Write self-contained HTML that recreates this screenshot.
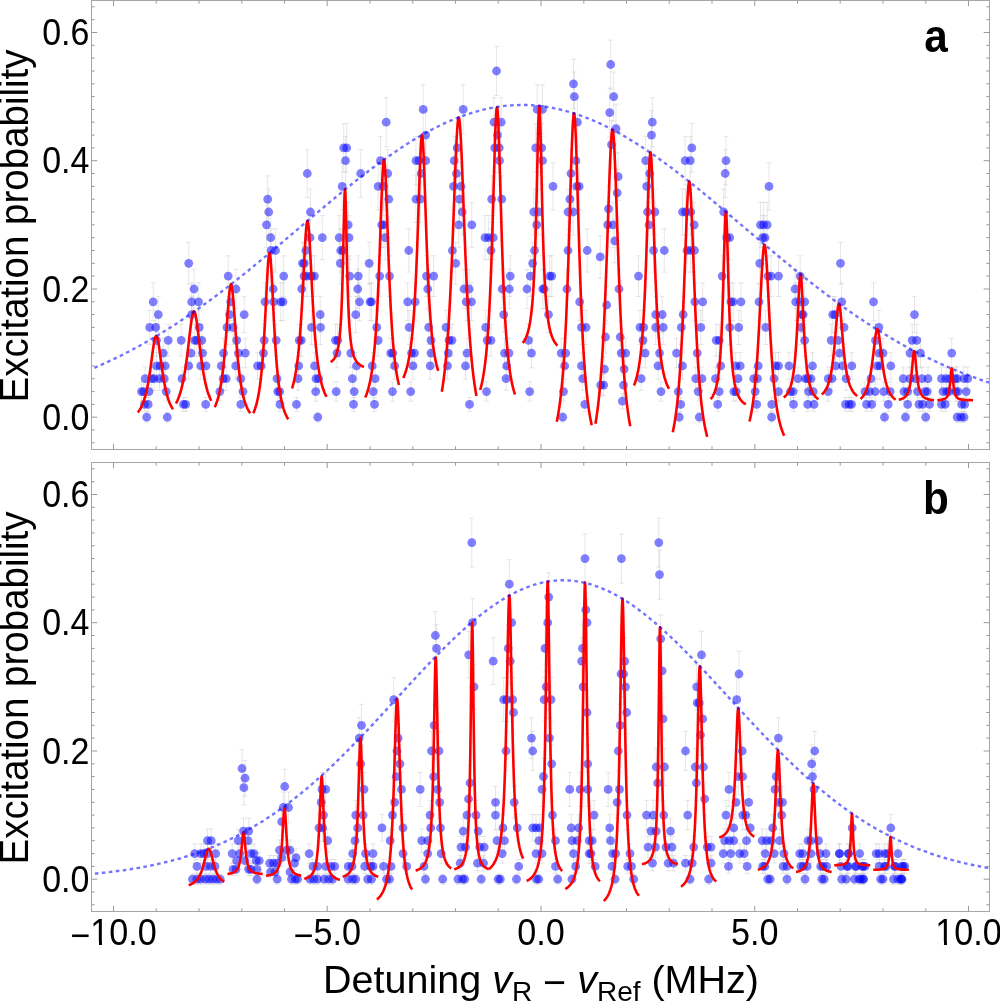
<!DOCTYPE html><html><head><meta charset="utf-8"><style>html,body{margin:0;padding:0;background:#fff;width:1000px;height:1001px;overflow:hidden}svg{display:block;will-change:transform}text{font-family:"Liberation Sans",sans-serif}</style></head><body>
<svg width="1000" height="1001" viewBox="0 0 1000 1001">
<clipPath id="c0"><rect x="91.5" y="0.5" width="898.0" height="449.0"/></clipPath>
<g clip-path="url(#c0)">
<path d="M146.7 412.2V422.2M144.2 412.2h5M144.2 422.2h5M167.3 412.2V422.2M164.8 412.2h5M164.8 422.2h5M144.5 397.5V411.3M142.0 397.5h5M142.0 411.3h5M148.2 397.5V411.3M145.7 397.5h5M145.7 411.3h5M141.5 381.9V401.2M139.0 381.9h5M139.0 401.2h5M143.7 381.9V401.2M141.2 381.9h5M141.2 401.2h5M149.0 381.9V401.2M146.5 381.9h5M146.5 401.2h5M166.2 381.9V401.2M163.7 381.9h5M163.7 401.2h5M145.2 367.0V390.4M142.7 367.0h5M142.7 390.4h5M151.7 367.0V390.4M149.2 367.0h5M149.2 390.4h5M154.2 367.0V390.4M151.7 367.0h5M151.7 390.4h5M159.5 367.0V390.4M157.0 367.0h5M157.0 390.4h5M164.3 367.0V390.4M161.8 367.0h5M161.8 390.4h5M156.5 352.6V379.2M154.0 352.6h5M154.0 379.2h5M160.2 352.6V379.2M157.7 352.6h5M157.7 379.2h5M165.2 352.6V379.2M162.7 352.6h5M162.7 379.2h5M163.2 338.3V367.8M160.7 338.3h5M160.7 367.8h5M156.5 324.3V356.2M154.0 324.3h5M154.0 356.2h5M168.2 324.3V356.2M165.7 324.3h5M165.7 356.2h5M149.7 310.4V344.5M147.2 310.4h5M147.2 344.5h5M155.7 310.4V344.5M153.2 310.4h5M153.2 344.5h5M158.3 296.6V332.6M155.8 296.6h5M155.8 332.6h5M153.2 282.9V320.7M150.7 282.9h5M150.7 320.7h5M183.5 397.5V411.3M181.0 397.5h5M181.0 411.3h5M185.7 397.5V411.3M183.2 397.5h5M183.2 411.3h5M205.7 397.5V411.3M203.2 397.5h5M203.2 411.3h5M182.0 367.0V390.4M179.5 367.0h5M179.5 390.4h5M188.7 352.6V379.2M186.2 352.6h5M186.2 379.2h5M200.7 352.6V379.2M198.2 352.6h5M198.2 379.2h5M206.0 352.6V379.2M203.5 352.6h5M203.5 379.2h5M191.0 338.3V367.8M188.5 338.3h5M188.5 367.8h5M202.5 338.3V367.8M200.0 338.3h5M200.0 367.8h5M181.2 324.3V356.2M178.7 324.3h5M178.7 356.2h5M194.7 324.3V356.2M192.2 324.3h5M192.2 356.2h5M196.7 324.3V356.2M194.2 324.3h5M194.2 356.2h5M201.8 324.3V356.2M199.3 324.3h5M199.3 356.2h5M199.2 310.4V344.5M196.7 310.4h5M196.7 344.5h5M191.7 296.6V332.6M189.2 296.6h5M189.2 332.6h5M191.7 282.9V320.7M189.2 282.9h5M189.2 320.7h5M198.5 282.9V320.7M196.0 282.9h5M196.0 320.7h5M194.0 269.3V308.6M191.5 269.3h5M191.5 308.6h5M240.8 397.5V411.3M238.3 397.5h5M238.3 411.3h5M219.8 381.9V401.2M217.3 381.9h5M217.3 401.2h5M243.0 381.9V401.2M240.5 381.9h5M240.5 401.2h5M223.2 367.0V390.4M220.7 367.0h5M220.7 390.4h5M226.2 367.0V390.4M223.7 367.0h5M223.7 390.4h5M240.8 367.0V390.4M238.3 367.0h5M238.3 390.4h5M221.3 352.6V379.2M218.8 352.6h5M218.8 379.2h5M235.7 352.6V379.2M233.2 352.6h5M233.2 379.2h5M223.5 338.3V367.8M221.0 338.3h5M221.0 367.8h5M238.5 338.3V367.8M236.0 338.3h5M236.0 367.8h5M245.3 338.3V367.8M242.8 338.3h5M242.8 367.8h5M236.7 324.3V356.2M234.2 324.3h5M234.2 356.2h5M227.0 310.4V344.5M224.5 310.4h5M224.5 344.5h5M233.0 310.4V344.5M230.5 310.4h5M230.5 344.5h5M229.5 296.6V332.6M227.0 296.6h5M227.0 332.6h5M244.2 296.6V332.6M241.7 296.6h5M241.7 332.6h5M230.7 282.9V320.7M228.2 282.9h5M228.2 320.7h5M236.0 269.3V308.6M233.5 269.3h5M233.5 308.6h5M228.2 255.8V296.5M225.7 255.8h5M225.7 296.5h5M280.0 397.5V411.3M277.5 397.5h5M277.5 411.3h5M277.7 381.9V401.2M275.2 381.9h5M275.2 401.2h5M279.7 381.9V401.2M277.2 381.9h5M277.2 401.2h5M277.0 367.0V390.4M274.5 367.0h5M274.5 390.4h5M257.5 352.6V379.2M255.0 352.6h5M255.0 379.2h5M261.2 352.6V379.2M258.7 352.6h5M258.7 379.2h5M263.5 338.3V367.8M261.0 338.3h5M261.0 367.8h5M264.2 324.3V356.2M261.7 324.3h5M261.7 356.2h5M276.2 324.3V356.2M273.7 324.3h5M273.7 356.2h5M265.0 282.9V320.7M262.5 282.9h5M262.5 320.7h5M273.7 282.9V320.7M271.2 282.9h5M271.2 320.7h5M280.7 282.9V320.7M278.2 282.9h5M278.2 320.7h5M283.0 282.9V320.7M280.5 282.9h5M280.5 320.7h5M273.2 269.3V308.6M270.7 269.3h5M270.7 308.6h5M283.7 255.8V296.5M281.2 255.8h5M281.2 296.5h5M296.5 397.5V411.3M294.0 397.5h5M294.0 411.3h5M298.0 367.0V390.4M295.5 367.0h5M295.5 390.4h5M298.7 352.6V379.2M296.2 352.6h5M296.2 379.2h5M314.5 352.6V379.2M312.0 352.6h5M312.0 379.2h5M316.0 367.0V390.4M313.5 367.0h5M313.5 390.4h5M318.7 367.0V390.4M316.2 367.0h5M316.2 390.4h5M315.7 381.9V401.2M313.2 381.9h5M313.2 401.2h5M317.8 412.2V422.2M315.3 412.2h5M315.3 422.2h5M299.2 324.3V356.2M296.7 324.3h5M296.7 356.2h5M301.3 324.3V356.2M298.8 324.3h5M298.8 356.2h5M311.5 310.4V344.5M309.0 310.4h5M309.0 344.5h5M320.5 310.4V344.5M318.0 310.4h5M318.0 344.5h5M320.2 296.6V332.6M317.7 296.6h5M317.7 332.6h5M301.7 269.3V308.6M299.2 269.3h5M299.2 308.6h5M304.0 255.8V296.5M301.5 255.8h5M301.5 296.5h5M307.0 255.8V296.5M304.5 255.8h5M304.5 296.5h5M311.5 255.8V296.5M309.0 255.8h5M309.0 296.5h5M314.5 255.8V296.5M312.0 255.8h5M312.0 296.5h5M335.5 324.3V356.2M333.0 324.3h5M333.0 356.2h5M337.7 324.3V356.2M335.2 324.3h5M335.2 356.2h5M337.0 338.3V367.8M334.5 338.3h5M334.5 367.8h5M336.2 381.9V401.2M333.7 381.9h5M333.7 401.2h5M350.8 338.3V367.8M348.3 338.3h5M348.3 367.8h5M356.5 352.6V379.2M354.0 352.6h5M354.0 379.2h5M352.3 367.0V390.4M349.8 367.0h5M349.8 390.4h5M354.2 381.9V401.2M351.7 381.9h5M351.7 401.2h5M353.5 397.5V411.3M351.0 397.5h5M351.0 411.3h5M355.7 296.6V332.6M353.2 296.6h5M353.2 332.6h5M359.5 282.9V320.7M357.0 282.9h5M357.0 320.7h5M357.7 269.3V308.6M355.2 269.3h5M355.2 308.6h5M349.7 255.8V296.5M347.2 255.8h5M347.2 296.5h5M358.3 255.8V296.5M355.8 255.8h5M355.8 296.5h5M370.0 282.9V320.7M367.5 282.9h5M367.5 320.7h5M371.5 282.9V320.7M369.0 282.9h5M369.0 320.7h5M376.7 310.4V344.5M374.2 310.4h5M374.2 344.5h5M378.2 324.3V356.2M375.7 324.3h5M375.7 356.2h5M372.2 352.6V379.2M369.7 352.6h5M369.7 379.2h5M375.2 367.0V390.4M372.7 367.0h5M372.7 390.4h5M373.3 381.9V401.2M370.8 381.9h5M370.8 401.2h5M374.5 397.5V411.3M372.0 397.5h5M372.0 411.3h5M379.7 255.8V296.5M377.2 255.8h5M377.2 296.5h5M389.5 255.8V296.5M387.0 255.8h5M387.0 296.5h5M390.7 338.3V367.8M388.2 338.3h5M388.2 367.8h5M392.8 338.3V367.8M390.3 338.3h5M390.3 367.8h5M394.7 352.6V379.2M392.2 352.6h5M392.2 379.2h5M392.5 381.9V401.2M390.0 381.9h5M390.0 401.2h5M188.7 242.3V284.3M186.2 242.3h5M186.2 284.3h5M267.7 175.9V222.5M265.2 175.9h5M265.2 222.5h5M268.7 189.1V235.0M266.2 189.1h5M266.2 235.0h5M266.5 202.3V247.4M264.0 202.3h5M264.0 247.4h5M270.7 215.6V259.7M268.2 215.6h5M268.2 259.7h5M271.0 228.9V272.1M268.5 228.9h5M268.5 272.1h5M275.5 228.9V272.1M273.0 228.9h5M273.0 272.1h5M307.3 149.7V197.4M304.8 149.7h5M304.8 197.4h5M310.4 189.1V235.0M307.9 189.1h5M307.9 235.0h5M310.0 215.6V259.7M307.5 215.6h5M307.5 259.7h5M322.3 215.6V259.7M319.8 215.6h5M319.8 259.7h5M305.8 228.9V272.1M303.3 228.9h5M303.3 272.1h5M302.5 242.3V284.3M300.0 242.3h5M300.0 284.3h5M304.3 242.3V284.3M301.8 242.3h5M301.8 284.3h5M343.7 123.6V172.2M341.2 123.6h5M341.2 172.2h5M346.7 123.6V172.2M344.2 123.6h5M344.2 172.2h5M345.5 136.6V184.8M343.0 136.6h5M343.0 184.8h5M342.2 162.8V210.0M339.7 162.8h5M339.7 210.0h5M360.7 149.7V197.4M358.2 149.7h5M358.2 197.4h5M348.2 202.3V247.4M345.7 202.3h5M345.7 247.4h5M339.2 215.6V259.7M336.7 215.6h5M336.7 259.7h5M349.0 215.6V259.7M346.5 215.6h5M346.5 259.7h5M340.7 228.9V272.1M338.2 228.9h5M338.2 272.1h5M343.0 228.9V272.1M340.5 228.9h5M340.5 272.1h5M340.3 242.3V284.3M337.8 242.3h5M337.8 284.3h5M369.2 242.3V284.3M366.7 242.3h5M366.7 284.3h5M386.2 97.7V146.8M383.7 97.7h5M383.7 146.8h5M380.5 136.6V184.8M378.0 136.6h5M378.0 184.8h5M387.7 149.7V197.4M385.2 149.7h5M385.2 197.4h5M378.2 162.8V210.0M375.7 162.8h5M375.7 210.0h5M383.5 162.8V210.0M381.0 162.8h5M381.0 210.0h5M388.7 175.9V222.5M386.2 175.9h5M386.2 222.5h5M381.7 202.3V247.4M379.2 202.3h5M379.2 247.4h5M383.9 202.3V247.4M381.4 202.3h5M381.4 247.4h5M385.0 215.6V259.7M382.5 215.6h5M382.5 259.7h5M423.2 84.9V134.0M420.7 84.9h5M420.7 134.0h5M425.7 110.7V159.5M423.2 110.7h5M423.2 159.5h5M416.0 136.6V184.8M413.5 136.6h5M413.5 184.8h5M419.0 136.6V184.8M416.5 136.6h5M416.5 184.8h5M425.7 136.6V184.8M423.2 136.6h5M423.2 184.8h5M421.2 149.7V197.4M418.7 149.7h5M418.7 197.4h5M416.0 175.9V222.5M413.5 175.9h5M413.5 222.5h5M420.5 175.9V222.5M418.0 175.9h5M418.0 222.5h5M463.2 84.9V134.0M460.7 84.9h5M460.7 134.0h5M457.2 123.6V172.2M454.7 123.6h5M454.7 172.2h5M454.2 136.6V184.8M451.7 136.6h5M451.7 184.8h5M456.5 149.7V197.4M454.0 149.7h5M454.0 197.4h5M453.5 162.8V210.0M451.0 162.8h5M451.0 210.0h5M461.0 162.8V210.0M458.5 162.8h5M458.5 210.0h5M459.5 175.9V222.5M457.0 175.9h5M457.0 222.5h5M496.5 46.4V95.5M494.0 46.4h5M494.0 95.5h5M494.0 97.7V146.8M491.5 97.7h5M491.5 146.8h5M501.2 97.7V146.8M498.7 97.7h5M498.7 146.8h5M497.4 110.7V159.5M494.9 110.7h5M494.9 159.5h5M494.7 123.6V172.2M492.2 123.6h5M492.2 172.2h5M499.2 123.6V172.2M496.7 123.6h5M496.7 172.2h5M499.5 136.6V184.8M497.0 136.6h5M497.0 184.8h5M491.7 175.9V222.5M489.2 175.9h5M489.2 222.5h5M501.8 175.9V222.5M499.3 175.9h5M499.3 222.5h5M408.8 228.9V272.1M406.3 228.9h5M406.3 272.1h5M426.5 255.8V296.5M424.0 255.8h5M424.0 296.5h5M433.7 255.8V296.5M431.2 255.8h5M431.2 296.5h5M427.7 269.3V308.6M425.2 269.3h5M425.2 308.6h5M407.7 282.9V320.7M405.2 282.9h5M405.2 320.7h5M415.2 282.9V320.7M412.7 282.9h5M412.7 320.7h5M409.2 310.4V344.5M406.7 310.4h5M406.7 344.5h5M428.7 310.4V344.5M426.2 310.4h5M426.2 344.5h5M431.0 324.3V356.2M428.5 324.3h5M428.5 356.2h5M462.2 189.1V235.0M459.7 189.1h5M459.7 235.0h5M458.7 202.3V247.4M456.2 202.3h5M456.2 247.4h5M471.8 202.3V247.4M469.3 202.3h5M469.3 247.4h5M452.4 228.9V272.1M449.9 228.9h5M449.9 272.1h5M455.7 242.3V284.3M453.2 242.3h5M453.2 284.3h5M464.0 269.3V308.6M461.5 269.3h5M461.5 308.6h5M469.2 269.3V308.6M466.7 269.3h5M466.7 308.6h5M466.2 282.9V320.7M463.7 282.9h5M463.7 320.7h5M471.5 282.9V320.7M469.0 282.9h5M469.0 320.7h5M446.0 310.4V344.5M443.5 310.4h5M443.5 344.5h5M449.0 324.3V356.2M446.5 324.3h5M446.5 356.2h5M452.0 324.3V356.2M449.5 324.3h5M449.5 356.2h5M485.0 215.6V259.7M482.5 215.6h5M482.5 259.7h5M488.7 215.6V259.7M486.2 215.6h5M486.2 259.7h5M493.2 215.6V259.7M490.7 215.6h5M490.7 259.7h5M491.0 228.9V272.1M488.5 228.9h5M488.5 272.1h5M510.2 255.8V296.5M507.7 255.8h5M507.7 296.5h5M502.2 269.3V308.6M499.7 269.3h5M499.7 308.6h5M509.3 269.3V308.6M506.8 269.3h5M506.8 308.6h5M503.7 296.6V332.6M501.2 296.6h5M501.2 332.6h5M485.7 310.4V344.5M483.2 310.4h5M483.2 344.5h5M487.2 324.3V356.2M484.7 324.3h5M484.7 356.2h5M491.0 324.3V356.2M488.5 324.3h5M488.5 356.2h5M533.7 189.1V235.0M531.2 189.1h5M531.2 235.0h5M538.7 189.1V235.0M536.2 189.1h5M536.2 235.0h5M536.7 202.3V247.4M534.2 202.3h5M534.2 247.4h5M534.5 228.9V272.1M532.0 228.9h5M532.0 272.1h5M532.7 242.3V284.3M530.2 242.3h5M530.2 284.3h5M530.4 255.8V296.5M527.9 255.8h5M527.9 296.5h5M527.0 269.3V308.6M524.5 269.3h5M524.5 308.6h5M542.7 269.3V308.6M540.2 269.3h5M540.2 308.6h5M544.2 269.3V308.6M541.7 269.3h5M541.7 308.6h5M528.5 324.3V356.2M526.0 324.3h5M526.0 356.2h5M411.5 338.3V367.8M409.0 338.3h5M409.0 367.8h5M414.5 338.3V367.8M412.0 338.3h5M412.0 367.8h5M431.0 338.3V367.8M428.5 338.3h5M428.5 367.8h5M413.0 352.6V379.2M410.5 352.6h5M410.5 379.2h5M430.2 352.6V379.2M427.7 352.6h5M427.7 379.2h5M410.7 381.9V401.2M408.2 381.9h5M408.2 401.2h5M448.2 338.3V367.8M445.7 338.3h5M445.7 367.8h5M447.5 352.6V379.2M445.0 352.6h5M445.0 379.2h5M467.0 338.3V367.8M464.5 338.3h5M464.5 367.8h5M465.5 352.6V379.2M463.0 352.6h5M463.0 379.2h5M469.5 397.5V411.3M467.0 397.5h5M467.0 411.3h5M504.5 338.3V367.8M502.0 338.3h5M502.0 367.8h5M509.0 338.3V367.8M506.5 338.3h5M506.5 367.8h5M506.7 352.6V379.2M504.2 352.6h5M504.2 379.2h5M506.0 367.0V390.4M503.5 367.0h5M503.5 390.4h5M486.5 381.9V401.2M484.0 381.9h5M484.0 401.2h5M531.5 338.3V367.8M529.0 338.3h5M529.0 367.8h5M529.7 381.9V401.2M527.2 381.9h5M527.2 401.2h5M537.2 84.9V134.0M534.7 84.9h5M534.7 134.0h5M542.5 84.9V134.0M540.0 84.9h5M540.0 134.0h5M535.7 123.6V172.2M533.2 123.6h5M533.2 172.2h5M541.7 123.6V172.2M539.2 123.6h5M539.2 172.2h5M542.5 136.6V184.8M540.0 136.6h5M540.0 184.8h5M553.0 162.8V210.0M550.5 162.8h5M550.5 210.0h5M573.5 59.2V108.3M571.0 59.2h5M571.0 108.3h5M574.3 72.0V121.2M571.8 72.0h5M571.8 121.2h5M577.4 97.7V146.8M574.9 97.7h5M574.9 146.8h5M575.8 136.6V184.8M573.3 136.6h5M573.3 184.8h5M571.0 149.7V197.4M568.5 149.7h5M568.5 197.4h5M576.7 162.8V210.0M574.2 162.8h5M574.2 210.0h5M579.2 162.8V210.0M576.7 162.8h5M576.7 210.0h5M569.9 175.9V222.5M567.4 175.9h5M567.4 222.5h5M610.7 40.1V89.0M608.2 40.1h5M608.2 89.0h5M613.7 72.0V121.2M611.2 72.0h5M611.2 121.2h5M609.7 88.1V137.2M607.2 88.1h5M607.2 137.2h5M616.0 104.2V153.1M613.5 104.2h5M613.5 153.1h5M611.5 120.4V169.0M609.0 120.4h5M609.0 169.0h5M618.2 152.9V200.6M615.7 152.9h5M615.7 200.6h5M617.2 169.3V216.2M614.7 169.3h5M614.7 216.2h5M608.5 185.8V231.8M606.0 185.8h5M606.0 231.8h5M652.3 97.7V146.8M649.8 97.7h5M649.8 146.8h5M651.5 110.7V159.5M649.0 110.7h5M649.0 159.5h5M645.7 136.6V184.8M643.2 136.6h5M643.2 184.8h5M649.7 149.7V197.4M647.2 149.7h5M647.2 197.4h5M646.7 162.8V210.0M644.2 162.8h5M644.2 210.0h5M549.7 255.8V296.5M547.2 255.8h5M547.2 296.5h5M551.8 255.8V296.5M549.3 255.8h5M549.3 296.5h5M548.5 296.6V332.6M546.0 296.6h5M546.0 332.6h5M568.0 189.1V235.0M565.5 189.1h5M565.5 235.0h5M573.2 189.1V235.0M570.7 189.1h5M570.7 235.0h5M568.0 228.9V272.1M565.5 228.9h5M565.5 272.1h5M587.2 228.9V272.1M584.7 228.9h5M584.7 272.1h5M566.9 269.3V308.6M564.4 269.3h5M564.4 308.6h5M579.7 282.9V320.7M577.2 282.9h5M577.2 320.7h5M581.5 310.4V344.5M579.0 310.4h5M579.0 344.5h5M586.0 310.4V344.5M583.5 310.4h5M583.5 344.5h5M600.2 235.6V278.2M597.7 235.6h5M597.7 278.2h5M607.7 202.3V247.4M605.2 202.3h5M605.2 247.4h5M613.0 202.3V247.4M610.5 202.3h5M610.5 247.4h5M614.8 218.9V262.8M612.3 218.9h5M612.3 262.8h5M619.0 269.3V308.6M616.5 269.3h5M616.5 308.6h5M606.7 286.3V323.7M604.2 286.3h5M604.2 323.7h5M605.5 320.8V353.3M603.0 320.8h5M603.0 353.3h5M620.2 320.8V353.3M617.7 320.8h5M617.7 353.3h5M647.5 189.1V235.0M645.0 189.1h5M645.0 235.0h5M655.0 189.1V235.0M652.5 189.1h5M652.5 235.0h5M649.0 202.3V247.4M646.5 202.3h5M646.5 247.4h5M653.5 228.9V272.1M651.0 228.9h5M651.0 272.1h5M664.3 228.9V272.1M661.8 228.9h5M661.8 272.1h5M638.5 255.8V296.5M636.0 255.8h5M636.0 296.5h5M655.7 296.6V332.6M653.2 296.6h5M653.2 332.6h5M662.2 296.6V332.6M659.7 296.6h5M659.7 332.6h5M640.0 310.4V344.5M637.5 310.4h5M637.5 344.5h5M643.7 310.4V344.5M641.2 310.4h5M641.2 344.5h5M655.7 310.4V344.5M653.2 310.4h5M653.2 344.5h5M663.2 310.4V344.5M660.7 310.4h5M660.7 344.5h5M643.0 324.3V356.2M640.5 324.3h5M640.5 356.2h5M561.2 338.3V367.8M558.7 338.3h5M558.7 367.8h5M565.7 338.3V367.8M563.2 338.3h5M563.2 367.8h5M564.7 352.6V379.2M562.2 352.6h5M562.2 379.2h5M563.5 381.9V401.2M561.0 381.9h5M561.0 401.2h5M562.7 412.2V422.2M560.2 412.2h5M560.2 422.2h5M581.5 352.6V379.2M579.0 352.6h5M579.0 379.2h5M582.7 367.0V390.4M580.2 367.0h5M580.2 390.4h5M584.8 397.5V411.3M582.3 397.5h5M582.3 411.3h5M604.4 356.2V382.1M601.9 356.2h5M601.9 382.1h5M600.7 374.4V395.9M598.2 374.4h5M598.2 395.9h5M603.7 374.4V395.9M601.2 374.4h5M601.2 395.9h5M621.2 338.3V367.8M618.7 338.3h5M618.7 367.8h5M625.7 338.3V367.8M623.2 338.3h5M623.2 367.8h5M624.2 356.2V382.1M621.7 356.2h5M621.7 382.1h5M623.5 374.4V395.9M621.0 374.4h5M621.0 395.9h5M622.4 393.5V408.8M619.9 393.5h5M619.9 408.8h5M645.2 338.3V367.8M642.7 338.3h5M642.7 367.8h5M659.5 338.3V367.8M657.0 338.3h5M657.0 367.8h5M658.0 352.6V379.2M655.5 352.6h5M655.5 379.2h5M641.2 367.0V390.4M638.7 367.0h5M638.7 390.4h5M661.0 381.9V401.2M658.5 381.9h5M658.5 401.2h5M691.8 123.6V172.2M689.3 123.6h5M689.3 172.2h5M685.2 136.6V184.8M682.7 136.6h5M682.7 184.8h5M690.3 136.6V184.8M687.8 136.6h5M687.8 184.8h5M682.5 189.1V235.0M680.0 189.1h5M680.0 235.0h5M685.5 189.1V235.0M683.0 189.1h5M683.0 235.0h5M690.7 189.1V235.0M688.2 189.1h5M688.2 235.0h5M694.2 202.3V247.4M691.7 202.3h5M691.7 247.4h5M726.0 136.6V184.8M723.5 136.6h5M723.5 184.8h5M725.2 149.7V197.4M722.7 149.7h5M722.7 197.4h5M723.7 189.1V235.0M721.2 189.1h5M721.2 235.0h5M726.7 215.6V259.7M724.2 215.6h5M724.2 259.7h5M729.7 215.6V259.7M727.2 215.6h5M727.2 259.7h5M769.0 162.8V210.0M766.5 162.8h5M766.5 210.0h5M760.5 202.3V247.4M758.0 202.3h5M758.0 247.4h5M763.5 202.3V247.4M761.0 202.3h5M761.0 247.4h5M767.2 202.3V247.4M764.7 202.3h5M764.7 247.4h5M762.7 215.6V259.7M760.2 215.6h5M760.2 259.7h5M765.0 215.6V259.7M762.5 215.6h5M762.5 259.7h5M687.0 228.9V272.1M684.5 228.9h5M684.5 272.1h5M690.7 228.9V272.1M688.2 228.9h5M688.2 272.1h5M694.5 228.9V272.1M692.0 228.9h5M692.0 272.1h5M694.8 282.9V320.7M692.3 282.9h5M692.3 320.7h5M702.7 282.9V320.7M700.2 282.9h5M700.2 320.7h5M683.2 296.6V332.6M680.7 296.6h5M680.7 332.6h5M681.3 310.4V344.5M678.8 310.4h5M678.8 344.5h5M700.8 310.4V344.5M698.3 310.4h5M698.3 344.5h5M676.5 338.3V367.8M674.0 338.3h5M674.0 367.8h5M697.2 338.3V367.8M694.7 338.3h5M694.7 367.8h5M682.5 352.6V379.2M680.0 352.6h5M680.0 379.2h5M695.7 367.0V390.4M693.2 367.0h5M693.2 390.4h5M702.0 367.0V390.4M699.5 367.0h5M699.5 390.4h5M722.2 255.8V296.5M719.7 255.8h5M719.7 296.5h5M730.8 282.9V320.7M728.3 282.9h5M728.3 320.7h5M733.2 282.9V320.7M730.7 282.9h5M730.7 320.7h5M741.0 282.9V320.7M738.5 282.9h5M738.5 320.7h5M729.7 310.4V344.5M727.2 310.4h5M727.2 344.5h5M738.7 310.4V344.5M736.2 310.4h5M736.2 344.5h5M716.2 324.3V356.2M713.7 324.3h5M713.7 356.2h5M719.2 324.3V356.2M716.7 324.3h5M716.7 356.2h5M720.7 352.6V379.2M718.2 352.6h5M718.2 379.2h5M735.7 352.6V379.2M733.2 352.6h5M733.2 379.2h5M740.2 352.6V379.2M737.7 352.6h5M737.7 379.2h5M715.5 367.0V390.4M713.0 367.0h5M713.0 390.4h5M738.0 367.0V390.4M735.5 367.0h5M735.5 390.4h5M759.7 242.3V284.3M757.2 242.3h5M757.2 284.3h5M768.0 255.8V296.5M765.5 255.8h5M765.5 296.5h5M771.0 255.8V296.5M768.5 255.8h5M768.5 296.5h5M778.5 255.8V296.5M776.0 255.8h5M776.0 296.5h5M759.0 282.9V320.7M756.5 282.9h5M756.5 320.7h5M765.7 310.4V344.5M763.2 310.4h5M763.2 344.5h5M758.2 352.6V379.2M755.7 352.6h5M755.7 379.2h5M753.7 367.0V390.4M751.2 367.0h5M751.2 390.4h5M757.5 367.0V390.4M755.0 367.0h5M755.0 390.4h5M775.5 352.6V379.2M773.0 352.6h5M773.0 379.2h5M778.5 352.6V379.2M776.0 352.6h5M776.0 379.2h5M789.0 352.6V379.2M786.5 352.6h5M786.5 379.2h5M774.0 367.0V390.4M771.5 367.0h5M771.5 390.4h5M800.2 255.8V296.5M797.7 255.8h5M797.7 296.5h5M795.0 269.3V308.6M792.5 269.3h5M792.5 308.6h5M795.7 282.9V320.7M793.2 282.9h5M793.2 320.7h5M800.2 282.9V320.7M797.7 282.9h5M797.7 320.7h5M804.7 282.9V320.7M802.2 282.9h5M802.2 320.7h5M801.7 296.6V332.6M799.2 296.6h5M799.2 332.6h5M803.2 296.6V332.6M800.7 296.6h5M800.7 332.6h5M801.0 310.4V344.5M798.5 310.4h5M798.5 344.5h5M804.7 324.3V356.2M802.2 324.3h5M802.2 356.2h5M798.0 367.0V390.4M795.5 367.0h5M795.5 390.4h5M805.5 367.0V390.4M803.0 367.0h5M803.0 390.4h5M807.7 367.0V390.4M805.2 367.0h5M805.2 390.4h5M678.3 381.9V401.2M675.8 381.9h5M675.8 401.2h5M698.2 381.9V401.2M695.7 381.9h5M695.7 401.2h5M680.7 397.5V411.3M678.2 397.5h5M678.2 411.3h5M679.2 412.2V422.2M676.7 412.2h5M676.7 422.2h5M699.3 412.2V422.2M696.8 412.2h5M696.8 422.2h5M719.2 381.9V401.2M716.7 381.9h5M716.7 401.2h5M717.7 397.5V411.3M715.2 397.5h5M715.2 411.3h5M733.8 381.9V401.2M731.3 381.9h5M731.3 401.2h5M736.2 381.9V401.2M733.7 381.9h5M733.7 401.2h5M755.2 381.9V401.2M752.7 381.9h5M752.7 401.2h5M756.7 397.5V411.3M754.2 397.5h5M754.2 411.3h5M771.7 397.5V411.3M769.2 397.5h5M769.2 411.3h5M771.7 412.2V422.2M769.2 412.2h5M769.2 422.2h5M778.5 381.9V401.2M776.0 381.9h5M776.0 401.2h5M790.5 381.9V401.2M788.0 381.9h5M788.0 401.2h5M793.2 381.9V401.2M790.7 381.9h5M790.7 401.2h5M793.5 397.5V411.3M791.0 397.5h5M791.0 411.3h5M808.5 381.9V401.2M806.0 381.9h5M806.0 401.2h5M807.7 397.5V411.3M805.2 397.5h5M805.2 411.3h5M840.5 242.3V284.3M838.0 242.3h5M838.0 284.3h5M841.7 282.9V320.7M839.2 282.9h5M839.2 320.7h5M832.7 296.6V332.6M830.2 296.6h5M830.2 332.6h5M835.0 296.6V332.6M832.5 296.6h5M832.5 332.6h5M844.0 310.4V344.5M841.5 310.4h5M841.5 344.5h5M873.5 282.9V320.7M871.0 282.9h5M871.0 320.7h5M878.9 310.4V344.5M876.4 310.4h5M876.4 344.5h5M914.5 296.6V332.6M912.0 296.6h5M912.0 332.6h5M812.5 352.6V379.2M810.0 352.6h5M810.0 379.2h5M811.0 367.0V390.4M808.5 367.0h5M808.5 390.4h5M813.2 381.9V401.2M810.7 381.9h5M810.7 401.2h5M814.0 397.5V411.3M811.5 397.5h5M811.5 411.3h5M831.2 324.3V356.2M828.7 324.3h5M828.7 356.2h5M838.0 324.3V356.2M835.5 324.3h5M835.5 356.2h5M839.5 338.3V367.8M837.0 338.3h5M837.0 367.8h5M835.7 352.6V379.2M833.2 352.6h5M833.2 379.2h5M842.5 352.6V379.2M840.0 352.6h5M840.0 379.2h5M851.8 352.6V379.2M849.3 352.6h5M849.3 379.2h5M828.2 367.0V390.4M825.7 367.0h5M825.7 390.4h5M832.0 367.0V390.4M829.5 367.0h5M829.5 390.4h5M846.2 367.0V390.4M843.7 367.0h5M843.7 390.4h5M828.2 381.9V401.2M825.7 381.9h5M825.7 401.2h5M845.5 397.5V411.3M843.0 397.5h5M843.0 411.3h5M849.2 397.5V411.3M846.7 397.5h5M846.7 411.3h5M851.5 397.5V411.3M849.0 397.5h5M849.0 411.3h5M875.5 324.3V356.2M873.0 324.3h5M873.0 356.2h5M879.2 338.3V367.8M876.7 338.3h5M876.7 367.8h5M883.0 338.3V367.8M880.5 338.3h5M880.5 367.8h5M877.0 352.6V379.2M874.5 352.6h5M874.5 379.2h5M880.0 352.6V379.2M877.5 352.6h5M877.5 379.2h5M890.8 352.6V379.2M888.3 352.6h5M888.3 379.2h5M871.0 367.0V390.4M868.5 367.0h5M868.5 390.4h5M865.0 381.9V401.2M862.5 381.9h5M862.5 401.2h5M869.5 381.9V401.2M867.0 381.9h5M867.0 401.2h5M875.2 381.9V401.2M872.7 381.9h5M872.7 401.2h5M883.7 381.9V401.2M881.2 381.9h5M881.2 401.2h5M890.2 381.9V401.2M887.7 381.9h5M887.7 401.2h5M866.5 397.5V411.3M864.0 397.5h5M864.0 411.3h5M871.7 397.5V411.3M869.2 397.5h5M869.2 411.3h5M888.2 397.5V411.3M885.7 397.5h5M885.7 411.3h5M884.5 412.2V422.2M882.0 412.2h5M882.0 422.2h5M912.2 324.3V356.2M909.7 324.3h5M909.7 356.2h5M916.7 324.3V356.2M914.2 324.3h5M914.2 356.2h5M910.0 338.3V367.8M907.5 338.3h5M907.5 367.8h5M920.5 338.3V367.8M918.0 338.3h5M918.0 367.8h5M903.2 367.0V390.4M900.7 367.0h5M900.7 390.4h5M910.0 367.0V390.4M907.5 367.0h5M907.5 390.4h5M915.2 367.0V390.4M912.7 367.0h5M912.7 390.4h5M922.0 367.0V390.4M919.5 367.0h5M919.5 390.4h5M928.0 367.0V390.4M925.5 367.0h5M925.5 390.4h5M904.0 381.9V401.2M901.5 381.9h5M901.5 401.2h5M907.7 381.9V401.2M905.2 381.9h5M905.2 401.2h5M917.5 381.9V401.2M915.0 381.9h5M915.0 401.2h5M925.0 381.9V401.2M922.5 381.9h5M922.5 401.2h5M927.2 381.9V401.2M924.7 381.9h5M924.7 401.2h5M907.7 397.5V411.3M905.2 397.5h5M905.2 411.3h5M919.0 397.5V411.3M916.5 397.5h5M916.5 411.3h5M922.7 397.5V411.3M920.2 397.5h5M920.2 411.3h5M929.5 397.5V411.3M927.0 397.5h5M927.0 411.3h5M905.5 412.2V422.2M903.0 412.2h5M903.0 422.2h5M925.7 412.2V422.2M923.2 412.2h5M923.2 422.2h5M951.7 338.3V367.8M949.2 338.3h5M949.2 367.8h5M941.5 367.0V390.4M939.0 367.0h5M939.0 390.4h5M946.0 367.0V390.4M943.5 367.0h5M943.5 390.4h5M949.7 367.0V390.4M947.2 367.0h5M947.2 390.4h5M955.0 367.0V390.4M952.5 367.0h5M952.5 390.4h5M957.2 367.0V390.4M954.7 367.0h5M954.7 390.4h5M964.0 367.0V390.4M961.5 367.0h5M961.5 390.4h5M967.7 367.0V390.4M965.2 367.0h5M965.2 390.4h5M943.0 381.9V401.2M940.5 381.9h5M940.5 401.2h5M946.7 381.9V401.2M944.2 381.9h5M944.2 401.2h5M949.0 381.9V401.2M946.5 381.9h5M946.5 401.2h5M955.7 381.9V401.2M953.2 381.9h5M953.2 401.2h5M958.0 381.9V401.2M955.5 381.9h5M955.5 401.2h5M966.2 381.9V401.2M963.7 381.9h5M963.7 401.2h5M941.5 397.5V411.3M939.0 397.5h5M939.0 411.3h5M945.2 397.5V411.3M942.7 397.5h5M942.7 411.3h5M961.7 397.5V411.3M959.2 397.5h5M959.2 411.3h5M964.7 397.5V411.3M962.2 397.5h5M962.2 411.3h5M957.2 412.2V422.2M954.7 412.2h5M954.7 422.2h5M961.0 412.2V422.2M958.5 412.2h5M958.5 422.2h5M964.0 412.2V422.2M961.5 412.2h5M961.5 422.2h5" stroke="#c4c4c4" stroke-opacity="0.42" stroke-width="1" fill="none"/>
<g fill="#0000ff" fill-opacity="0.5">
<circle cx="146.7" cy="417.2" r="4.4"/>
<circle cx="167.3" cy="417.2" r="4.4"/>
<circle cx="144.5" cy="404.4" r="4.4"/>
<circle cx="148.2" cy="404.4" r="4.4"/>
<circle cx="141.5" cy="391.6" r="4.4"/>
<circle cx="143.7" cy="391.6" r="4.4"/>
<circle cx="149.0" cy="391.6" r="4.4"/>
<circle cx="166.2" cy="391.6" r="4.4"/>
<circle cx="145.2" cy="378.7" r="4.4"/>
<circle cx="151.7" cy="378.7" r="4.4"/>
<circle cx="154.2" cy="378.7" r="4.4"/>
<circle cx="159.5" cy="378.7" r="4.4"/>
<circle cx="164.3" cy="378.7" r="4.4"/>
<circle cx="156.5" cy="365.9" r="4.4"/>
<circle cx="160.2" cy="365.9" r="4.4"/>
<circle cx="165.2" cy="365.9" r="4.4"/>
<circle cx="163.2" cy="353.1" r="4.4"/>
<circle cx="156.5" cy="340.3" r="4.4"/>
<circle cx="168.2" cy="340.3" r="4.4"/>
<circle cx="149.7" cy="327.4" r="4.4"/>
<circle cx="155.7" cy="327.4" r="4.4"/>
<circle cx="158.3" cy="314.6" r="4.4"/>
<circle cx="153.2" cy="301.8" r="4.4"/>
<circle cx="183.5" cy="404.4" r="4.4"/>
<circle cx="185.7" cy="404.4" r="4.4"/>
<circle cx="205.7" cy="404.4" r="4.4"/>
<circle cx="182.0" cy="378.7" r="4.4"/>
<circle cx="188.7" cy="365.9" r="4.4"/>
<circle cx="200.7" cy="365.9" r="4.4"/>
<circle cx="206.0" cy="365.9" r="4.4"/>
<circle cx="191.0" cy="353.1" r="4.4"/>
<circle cx="202.5" cy="353.1" r="4.4"/>
<circle cx="181.2" cy="340.3" r="4.4"/>
<circle cx="194.7" cy="340.3" r="4.4"/>
<circle cx="196.7" cy="340.3" r="4.4"/>
<circle cx="201.8" cy="340.3" r="4.4"/>
<circle cx="199.2" cy="327.4" r="4.4"/>
<circle cx="191.7" cy="314.6" r="4.4"/>
<circle cx="191.7" cy="301.8" r="4.4"/>
<circle cx="198.5" cy="301.8" r="4.4"/>
<circle cx="194.0" cy="289.0" r="4.4"/>
<circle cx="240.8" cy="404.4" r="4.4"/>
<circle cx="219.8" cy="391.6" r="4.4"/>
<circle cx="243.0" cy="391.6" r="4.4"/>
<circle cx="223.2" cy="378.7" r="4.4"/>
<circle cx="226.2" cy="378.7" r="4.4"/>
<circle cx="240.8" cy="378.7" r="4.4"/>
<circle cx="221.3" cy="365.9" r="4.4"/>
<circle cx="235.7" cy="365.9" r="4.4"/>
<circle cx="223.5" cy="353.1" r="4.4"/>
<circle cx="238.5" cy="353.1" r="4.4"/>
<circle cx="245.3" cy="353.1" r="4.4"/>
<circle cx="236.7" cy="340.3" r="4.4"/>
<circle cx="227.0" cy="327.4" r="4.4"/>
<circle cx="233.0" cy="327.4" r="4.4"/>
<circle cx="229.5" cy="314.6" r="4.4"/>
<circle cx="244.2" cy="314.6" r="4.4"/>
<circle cx="230.7" cy="301.8" r="4.4"/>
<circle cx="236.0" cy="289.0" r="4.4"/>
<circle cx="228.2" cy="276.1" r="4.4"/>
<circle cx="280.0" cy="404.4" r="4.4"/>
<circle cx="277.7" cy="391.6" r="4.4"/>
<circle cx="279.7" cy="391.6" r="4.4"/>
<circle cx="277.0" cy="378.7" r="4.4"/>
<circle cx="257.5" cy="365.9" r="4.4"/>
<circle cx="261.2" cy="365.9" r="4.4"/>
<circle cx="263.5" cy="353.1" r="4.4"/>
<circle cx="264.2" cy="340.3" r="4.4"/>
<circle cx="276.2" cy="340.3" r="4.4"/>
<circle cx="265.0" cy="301.8" r="4.4"/>
<circle cx="273.7" cy="301.8" r="4.4"/>
<circle cx="280.7" cy="301.8" r="4.4"/>
<circle cx="283.0" cy="301.8" r="4.4"/>
<circle cx="273.2" cy="289.0" r="4.4"/>
<circle cx="283.7" cy="276.1" r="4.4"/>
<circle cx="296.5" cy="404.4" r="4.4"/>
<circle cx="298.0" cy="378.7" r="4.4"/>
<circle cx="298.7" cy="365.9" r="4.4"/>
<circle cx="314.5" cy="365.9" r="4.4"/>
<circle cx="316.0" cy="378.7" r="4.4"/>
<circle cx="318.7" cy="378.7" r="4.4"/>
<circle cx="315.7" cy="391.6" r="4.4"/>
<circle cx="317.8" cy="417.2" r="4.4"/>
<circle cx="299.2" cy="340.3" r="4.4"/>
<circle cx="301.3" cy="340.3" r="4.4"/>
<circle cx="311.5" cy="327.4" r="4.4"/>
<circle cx="320.5" cy="327.4" r="4.4"/>
<circle cx="320.2" cy="314.6" r="4.4"/>
<circle cx="301.7" cy="289.0" r="4.4"/>
<circle cx="304.0" cy="276.1" r="4.4"/>
<circle cx="307.0" cy="276.1" r="4.4"/>
<circle cx="311.5" cy="276.1" r="4.4"/>
<circle cx="314.5" cy="276.1" r="4.4"/>
<circle cx="335.5" cy="340.3" r="4.4"/>
<circle cx="337.7" cy="340.3" r="4.4"/>
<circle cx="337.0" cy="353.1" r="4.4"/>
<circle cx="336.2" cy="391.6" r="4.4"/>
<circle cx="350.8" cy="353.1" r="4.4"/>
<circle cx="356.5" cy="365.9" r="4.4"/>
<circle cx="352.3" cy="378.7" r="4.4"/>
<circle cx="354.2" cy="391.6" r="4.4"/>
<circle cx="353.5" cy="404.4" r="4.4"/>
<circle cx="355.7" cy="314.6" r="4.4"/>
<circle cx="359.5" cy="301.8" r="4.4"/>
<circle cx="357.7" cy="289.0" r="4.4"/>
<circle cx="349.7" cy="276.1" r="4.4"/>
<circle cx="358.3" cy="276.1" r="4.4"/>
<circle cx="370.0" cy="301.8" r="4.4"/>
<circle cx="371.5" cy="301.8" r="4.4"/>
<circle cx="376.7" cy="327.4" r="4.4"/>
<circle cx="378.2" cy="340.3" r="4.4"/>
<circle cx="372.2" cy="365.9" r="4.4"/>
<circle cx="375.2" cy="378.7" r="4.4"/>
<circle cx="373.3" cy="391.6" r="4.4"/>
<circle cx="374.5" cy="404.4" r="4.4"/>
<circle cx="379.7" cy="276.1" r="4.4"/>
<circle cx="389.5" cy="276.1" r="4.4"/>
<circle cx="390.7" cy="353.1" r="4.4"/>
<circle cx="392.8" cy="353.1" r="4.4"/>
<circle cx="394.7" cy="365.9" r="4.4"/>
<circle cx="392.5" cy="391.6" r="4.4"/>
<circle cx="188.7" cy="263.3" r="4.4"/>
<circle cx="267.7" cy="199.2" r="4.4"/>
<circle cx="268.7" cy="212.0" r="4.4"/>
<circle cx="266.5" cy="224.8" r="4.4"/>
<circle cx="270.7" cy="237.7" r="4.4"/>
<circle cx="271.0" cy="250.5" r="4.4"/>
<circle cx="275.5" cy="250.5" r="4.4"/>
<circle cx="307.3" cy="173.5" r="4.4"/>
<circle cx="310.4" cy="212.0" r="4.4"/>
<circle cx="310.0" cy="237.7" r="4.4"/>
<circle cx="322.3" cy="237.7" r="4.4"/>
<circle cx="305.8" cy="250.5" r="4.4"/>
<circle cx="302.5" cy="263.3" r="4.4"/>
<circle cx="304.3" cy="263.3" r="4.4"/>
<circle cx="343.7" cy="147.9" r="4.4"/>
<circle cx="346.7" cy="147.9" r="4.4"/>
<circle cx="345.5" cy="160.7" r="4.4"/>
<circle cx="342.2" cy="186.4" r="4.4"/>
<circle cx="360.7" cy="173.5" r="4.4"/>
<circle cx="348.2" cy="224.8" r="4.4"/>
<circle cx="339.2" cy="237.7" r="4.4"/>
<circle cx="349.0" cy="237.7" r="4.4"/>
<circle cx="340.7" cy="250.5" r="4.4"/>
<circle cx="343.0" cy="250.5" r="4.4"/>
<circle cx="340.3" cy="263.3" r="4.4"/>
<circle cx="369.2" cy="263.3" r="4.4"/>
<circle cx="386.2" cy="122.2" r="4.4"/>
<circle cx="380.5" cy="160.7" r="4.4"/>
<circle cx="387.7" cy="173.5" r="4.4"/>
<circle cx="378.2" cy="186.4" r="4.4"/>
<circle cx="383.5" cy="186.4" r="4.4"/>
<circle cx="388.7" cy="199.2" r="4.4"/>
<circle cx="381.7" cy="224.8" r="4.4"/>
<circle cx="383.9" cy="224.8" r="4.4"/>
<circle cx="385.0" cy="237.7" r="4.4"/>
<circle cx="423.2" cy="109.4" r="4.4"/>
<circle cx="425.7" cy="135.1" r="4.4"/>
<circle cx="416.0" cy="160.7" r="4.4"/>
<circle cx="419.0" cy="160.7" r="4.4"/>
<circle cx="425.7" cy="160.7" r="4.4"/>
<circle cx="421.2" cy="173.5" r="4.4"/>
<circle cx="416.0" cy="199.2" r="4.4"/>
<circle cx="420.5" cy="199.2" r="4.4"/>
<circle cx="463.2" cy="109.4" r="4.4"/>
<circle cx="457.2" cy="147.9" r="4.4"/>
<circle cx="454.2" cy="160.7" r="4.4"/>
<circle cx="456.5" cy="173.5" r="4.4"/>
<circle cx="453.5" cy="186.4" r="4.4"/>
<circle cx="461.0" cy="186.4" r="4.4"/>
<circle cx="459.5" cy="199.2" r="4.4"/>
<circle cx="496.5" cy="71.0" r="4.4"/>
<circle cx="494.0" cy="122.2" r="4.4"/>
<circle cx="501.2" cy="122.2" r="4.4"/>
<circle cx="497.4" cy="135.1" r="4.4"/>
<circle cx="494.7" cy="147.9" r="4.4"/>
<circle cx="499.2" cy="147.9" r="4.4"/>
<circle cx="499.5" cy="160.7" r="4.4"/>
<circle cx="491.7" cy="199.2" r="4.4"/>
<circle cx="501.8" cy="199.2" r="4.4"/>
<circle cx="408.8" cy="250.5" r="4.4"/>
<circle cx="426.5" cy="276.1" r="4.4"/>
<circle cx="433.7" cy="276.1" r="4.4"/>
<circle cx="427.7" cy="289.0" r="4.4"/>
<circle cx="407.7" cy="301.8" r="4.4"/>
<circle cx="415.2" cy="301.8" r="4.4"/>
<circle cx="409.2" cy="327.4" r="4.4"/>
<circle cx="428.7" cy="327.4" r="4.4"/>
<circle cx="431.0" cy="340.3" r="4.4"/>
<circle cx="462.2" cy="212.0" r="4.4"/>
<circle cx="458.7" cy="224.8" r="4.4"/>
<circle cx="471.8" cy="224.8" r="4.4"/>
<circle cx="452.4" cy="250.5" r="4.4"/>
<circle cx="455.7" cy="263.3" r="4.4"/>
<circle cx="464.0" cy="289.0" r="4.4"/>
<circle cx="469.2" cy="289.0" r="4.4"/>
<circle cx="466.2" cy="301.8" r="4.4"/>
<circle cx="471.5" cy="301.8" r="4.4"/>
<circle cx="446.0" cy="327.4" r="4.4"/>
<circle cx="449.0" cy="340.3" r="4.4"/>
<circle cx="452.0" cy="340.3" r="4.4"/>
<circle cx="485.0" cy="237.7" r="4.4"/>
<circle cx="488.7" cy="237.7" r="4.4"/>
<circle cx="493.2" cy="237.7" r="4.4"/>
<circle cx="491.0" cy="250.5" r="4.4"/>
<circle cx="510.2" cy="276.1" r="4.4"/>
<circle cx="502.2" cy="289.0" r="4.4"/>
<circle cx="509.3" cy="289.0" r="4.4"/>
<circle cx="503.7" cy="314.6" r="4.4"/>
<circle cx="485.7" cy="327.4" r="4.4"/>
<circle cx="487.2" cy="340.3" r="4.4"/>
<circle cx="491.0" cy="340.3" r="4.4"/>
<circle cx="533.7" cy="212.0" r="4.4"/>
<circle cx="538.7" cy="212.0" r="4.4"/>
<circle cx="536.7" cy="224.8" r="4.4"/>
<circle cx="534.5" cy="250.5" r="4.4"/>
<circle cx="532.7" cy="263.3" r="4.4"/>
<circle cx="530.4" cy="276.1" r="4.4"/>
<circle cx="527.0" cy="289.0" r="4.4"/>
<circle cx="542.7" cy="289.0" r="4.4"/>
<circle cx="544.2" cy="289.0" r="4.4"/>
<circle cx="528.5" cy="340.3" r="4.4"/>
<circle cx="411.5" cy="353.1" r="4.4"/>
<circle cx="414.5" cy="353.1" r="4.4"/>
<circle cx="431.0" cy="353.1" r="4.4"/>
<circle cx="413.0" cy="365.9" r="4.4"/>
<circle cx="430.2" cy="365.9" r="4.4"/>
<circle cx="410.7" cy="391.6" r="4.4"/>
<circle cx="448.2" cy="353.1" r="4.4"/>
<circle cx="447.5" cy="365.9" r="4.4"/>
<circle cx="467.0" cy="353.1" r="4.4"/>
<circle cx="465.5" cy="365.9" r="4.4"/>
<circle cx="469.5" cy="404.4" r="4.4"/>
<circle cx="504.5" cy="353.1" r="4.4"/>
<circle cx="509.0" cy="353.1" r="4.4"/>
<circle cx="506.7" cy="365.9" r="4.4"/>
<circle cx="506.0" cy="378.7" r="4.4"/>
<circle cx="486.5" cy="391.6" r="4.4"/>
<circle cx="531.5" cy="353.1" r="4.4"/>
<circle cx="529.7" cy="391.6" r="4.4"/>
<circle cx="537.2" cy="109.4" r="4.4"/>
<circle cx="542.5" cy="109.4" r="4.4"/>
<circle cx="535.7" cy="147.9" r="4.4"/>
<circle cx="541.7" cy="147.9" r="4.4"/>
<circle cx="542.5" cy="160.7" r="4.4"/>
<circle cx="553.0" cy="186.4" r="4.4"/>
<circle cx="573.5" cy="83.8" r="4.4"/>
<circle cx="574.3" cy="96.6" r="4.4"/>
<circle cx="577.4" cy="122.2" r="4.4"/>
<circle cx="575.8" cy="160.7" r="4.4"/>
<circle cx="571.0" cy="173.5" r="4.4"/>
<circle cx="576.7" cy="186.4" r="4.4"/>
<circle cx="579.2" cy="186.4" r="4.4"/>
<circle cx="569.9" cy="199.2" r="4.4"/>
<circle cx="610.7" cy="64.5" r="4.4"/>
<circle cx="613.7" cy="96.6" r="4.4"/>
<circle cx="609.7" cy="112.6" r="4.4"/>
<circle cx="616.0" cy="128.7" r="4.4"/>
<circle cx="611.5" cy="144.7" r="4.4"/>
<circle cx="618.2" cy="176.7" r="4.4"/>
<circle cx="617.2" cy="192.8" r="4.4"/>
<circle cx="608.5" cy="208.8" r="4.4"/>
<circle cx="652.3" cy="122.2" r="4.4"/>
<circle cx="651.5" cy="135.1" r="4.4"/>
<circle cx="645.7" cy="160.7" r="4.4"/>
<circle cx="649.7" cy="173.5" r="4.4"/>
<circle cx="646.7" cy="186.4" r="4.4"/>
<circle cx="549.7" cy="276.1" r="4.4"/>
<circle cx="551.8" cy="276.1" r="4.4"/>
<circle cx="548.5" cy="314.6" r="4.4"/>
<circle cx="568.0" cy="212.0" r="4.4"/>
<circle cx="573.2" cy="212.0" r="4.4"/>
<circle cx="568.0" cy="250.5" r="4.4"/>
<circle cx="587.2" cy="250.5" r="4.4"/>
<circle cx="566.9" cy="289.0" r="4.4"/>
<circle cx="579.7" cy="301.8" r="4.4"/>
<circle cx="581.5" cy="327.4" r="4.4"/>
<circle cx="586.0" cy="327.4" r="4.4"/>
<circle cx="600.2" cy="256.9" r="4.4"/>
<circle cx="607.7" cy="224.8" r="4.4"/>
<circle cx="613.0" cy="224.8" r="4.4"/>
<circle cx="614.8" cy="240.9" r="4.4"/>
<circle cx="619.0" cy="289.0" r="4.4"/>
<circle cx="606.7" cy="305.0" r="4.4"/>
<circle cx="605.5" cy="337.0" r="4.4"/>
<circle cx="620.2" cy="337.0" r="4.4"/>
<circle cx="647.5" cy="212.0" r="4.4"/>
<circle cx="655.0" cy="212.0" r="4.4"/>
<circle cx="649.0" cy="224.8" r="4.4"/>
<circle cx="653.5" cy="250.5" r="4.4"/>
<circle cx="664.3" cy="250.5" r="4.4"/>
<circle cx="638.5" cy="276.1" r="4.4"/>
<circle cx="655.7" cy="314.6" r="4.4"/>
<circle cx="662.2" cy="314.6" r="4.4"/>
<circle cx="640.0" cy="327.4" r="4.4"/>
<circle cx="643.7" cy="327.4" r="4.4"/>
<circle cx="655.7" cy="327.4" r="4.4"/>
<circle cx="663.2" cy="327.4" r="4.4"/>
<circle cx="643.0" cy="340.3" r="4.4"/>
<circle cx="561.2" cy="353.1" r="4.4"/>
<circle cx="565.7" cy="353.1" r="4.4"/>
<circle cx="564.7" cy="365.9" r="4.4"/>
<circle cx="563.5" cy="391.6" r="4.4"/>
<circle cx="562.7" cy="417.2" r="4.4"/>
<circle cx="581.5" cy="365.9" r="4.4"/>
<circle cx="582.7" cy="378.7" r="4.4"/>
<circle cx="584.8" cy="404.4" r="4.4"/>
<circle cx="604.4" cy="369.1" r="4.4"/>
<circle cx="600.7" cy="385.1" r="4.4"/>
<circle cx="603.7" cy="385.1" r="4.4"/>
<circle cx="621.2" cy="353.1" r="4.4"/>
<circle cx="625.7" cy="353.1" r="4.4"/>
<circle cx="624.2" cy="369.1" r="4.4"/>
<circle cx="623.5" cy="385.1" r="4.4"/>
<circle cx="622.4" cy="401.2" r="4.4"/>
<circle cx="645.2" cy="353.1" r="4.4"/>
<circle cx="659.5" cy="353.1" r="4.4"/>
<circle cx="658.0" cy="365.9" r="4.4"/>
<circle cx="641.2" cy="378.7" r="4.4"/>
<circle cx="661.0" cy="391.6" r="4.4"/>
<circle cx="691.8" cy="147.9" r="4.4"/>
<circle cx="685.2" cy="160.7" r="4.4"/>
<circle cx="690.3" cy="160.7" r="4.4"/>
<circle cx="682.5" cy="212.0" r="4.4"/>
<circle cx="685.5" cy="212.0" r="4.4"/>
<circle cx="690.7" cy="212.0" r="4.4"/>
<circle cx="694.2" cy="224.8" r="4.4"/>
<circle cx="726.0" cy="160.7" r="4.4"/>
<circle cx="725.2" cy="173.5" r="4.4"/>
<circle cx="723.7" cy="212.0" r="4.4"/>
<circle cx="726.7" cy="237.7" r="4.4"/>
<circle cx="729.7" cy="237.7" r="4.4"/>
<circle cx="769.0" cy="186.4" r="4.4"/>
<circle cx="760.5" cy="224.8" r="4.4"/>
<circle cx="763.5" cy="224.8" r="4.4"/>
<circle cx="767.2" cy="224.8" r="4.4"/>
<circle cx="762.7" cy="237.7" r="4.4"/>
<circle cx="765.0" cy="237.7" r="4.4"/>
<circle cx="687.0" cy="250.5" r="4.4"/>
<circle cx="690.7" cy="250.5" r="4.4"/>
<circle cx="694.5" cy="250.5" r="4.4"/>
<circle cx="694.8" cy="301.8" r="4.4"/>
<circle cx="702.7" cy="301.8" r="4.4"/>
<circle cx="683.2" cy="314.6" r="4.4"/>
<circle cx="681.3" cy="327.4" r="4.4"/>
<circle cx="700.8" cy="327.4" r="4.4"/>
<circle cx="676.5" cy="353.1" r="4.4"/>
<circle cx="697.2" cy="353.1" r="4.4"/>
<circle cx="682.5" cy="365.9" r="4.4"/>
<circle cx="695.7" cy="378.7" r="4.4"/>
<circle cx="702.0" cy="378.7" r="4.4"/>
<circle cx="722.2" cy="276.1" r="4.4"/>
<circle cx="730.8" cy="301.8" r="4.4"/>
<circle cx="733.2" cy="301.8" r="4.4"/>
<circle cx="741.0" cy="301.8" r="4.4"/>
<circle cx="729.7" cy="327.4" r="4.4"/>
<circle cx="738.7" cy="327.4" r="4.4"/>
<circle cx="716.2" cy="340.3" r="4.4"/>
<circle cx="719.2" cy="340.3" r="4.4"/>
<circle cx="720.7" cy="365.9" r="4.4"/>
<circle cx="735.7" cy="365.9" r="4.4"/>
<circle cx="740.2" cy="365.9" r="4.4"/>
<circle cx="715.5" cy="378.7" r="4.4"/>
<circle cx="738.0" cy="378.7" r="4.4"/>
<circle cx="759.7" cy="263.3" r="4.4"/>
<circle cx="768.0" cy="276.1" r="4.4"/>
<circle cx="771.0" cy="276.1" r="4.4"/>
<circle cx="778.5" cy="276.1" r="4.4"/>
<circle cx="759.0" cy="301.8" r="4.4"/>
<circle cx="765.7" cy="327.4" r="4.4"/>
<circle cx="758.2" cy="365.9" r="4.4"/>
<circle cx="753.7" cy="378.7" r="4.4"/>
<circle cx="757.5" cy="378.7" r="4.4"/>
<circle cx="775.5" cy="365.9" r="4.4"/>
<circle cx="778.5" cy="365.9" r="4.4"/>
<circle cx="789.0" cy="365.9" r="4.4"/>
<circle cx="774.0" cy="378.7" r="4.4"/>
<circle cx="800.2" cy="276.1" r="4.4"/>
<circle cx="795.0" cy="289.0" r="4.4"/>
<circle cx="795.7" cy="301.8" r="4.4"/>
<circle cx="800.2" cy="301.8" r="4.4"/>
<circle cx="804.7" cy="301.8" r="4.4"/>
<circle cx="801.7" cy="314.6" r="4.4"/>
<circle cx="803.2" cy="314.6" r="4.4"/>
<circle cx="801.0" cy="327.4" r="4.4"/>
<circle cx="804.7" cy="340.3" r="4.4"/>
<circle cx="798.0" cy="378.7" r="4.4"/>
<circle cx="805.5" cy="378.7" r="4.4"/>
<circle cx="807.7" cy="378.7" r="4.4"/>
<circle cx="678.3" cy="391.6" r="4.4"/>
<circle cx="698.2" cy="391.6" r="4.4"/>
<circle cx="680.7" cy="404.4" r="4.4"/>
<circle cx="679.2" cy="417.2" r="4.4"/>
<circle cx="699.3" cy="417.2" r="4.4"/>
<circle cx="719.2" cy="391.6" r="4.4"/>
<circle cx="717.7" cy="404.4" r="4.4"/>
<circle cx="733.8" cy="391.6" r="4.4"/>
<circle cx="736.2" cy="391.6" r="4.4"/>
<circle cx="755.2" cy="391.6" r="4.4"/>
<circle cx="756.7" cy="404.4" r="4.4"/>
<circle cx="771.7" cy="404.4" r="4.4"/>
<circle cx="771.7" cy="417.2" r="4.4"/>
<circle cx="778.5" cy="391.6" r="4.4"/>
<circle cx="790.5" cy="391.6" r="4.4"/>
<circle cx="793.2" cy="391.6" r="4.4"/>
<circle cx="793.5" cy="404.4" r="4.4"/>
<circle cx="808.5" cy="391.6" r="4.4"/>
<circle cx="807.7" cy="404.4" r="4.4"/>
<circle cx="840.5" cy="263.3" r="4.4"/>
<circle cx="841.7" cy="301.8" r="4.4"/>
<circle cx="832.7" cy="314.6" r="4.4"/>
<circle cx="835.0" cy="314.6" r="4.4"/>
<circle cx="844.0" cy="327.4" r="4.4"/>
<circle cx="873.5" cy="301.8" r="4.4"/>
<circle cx="878.9" cy="327.4" r="4.4"/>
<circle cx="914.5" cy="314.6" r="4.4"/>
<circle cx="812.5" cy="365.9" r="4.4"/>
<circle cx="811.0" cy="378.7" r="4.4"/>
<circle cx="813.2" cy="391.6" r="4.4"/>
<circle cx="814.0" cy="404.4" r="4.4"/>
<circle cx="831.2" cy="340.3" r="4.4"/>
<circle cx="838.0" cy="340.3" r="4.4"/>
<circle cx="839.5" cy="353.1" r="4.4"/>
<circle cx="835.7" cy="365.9" r="4.4"/>
<circle cx="842.5" cy="365.9" r="4.4"/>
<circle cx="851.8" cy="365.9" r="4.4"/>
<circle cx="828.2" cy="378.7" r="4.4"/>
<circle cx="832.0" cy="378.7" r="4.4"/>
<circle cx="846.2" cy="378.7" r="4.4"/>
<circle cx="828.2" cy="391.6" r="4.4"/>
<circle cx="845.5" cy="404.4" r="4.4"/>
<circle cx="849.2" cy="404.4" r="4.4"/>
<circle cx="851.5" cy="404.4" r="4.4"/>
<circle cx="875.5" cy="340.3" r="4.4"/>
<circle cx="879.2" cy="353.1" r="4.4"/>
<circle cx="883.0" cy="353.1" r="4.4"/>
<circle cx="877.0" cy="365.9" r="4.4"/>
<circle cx="880.0" cy="365.9" r="4.4"/>
<circle cx="890.8" cy="365.9" r="4.4"/>
<circle cx="871.0" cy="378.7" r="4.4"/>
<circle cx="865.0" cy="391.6" r="4.4"/>
<circle cx="869.5" cy="391.6" r="4.4"/>
<circle cx="875.2" cy="391.6" r="4.4"/>
<circle cx="883.7" cy="391.6" r="4.4"/>
<circle cx="890.2" cy="391.6" r="4.4"/>
<circle cx="866.5" cy="404.4" r="4.4"/>
<circle cx="871.7" cy="404.4" r="4.4"/>
<circle cx="888.2" cy="404.4" r="4.4"/>
<circle cx="884.5" cy="417.2" r="4.4"/>
<circle cx="912.2" cy="340.3" r="4.4"/>
<circle cx="916.7" cy="340.3" r="4.4"/>
<circle cx="910.0" cy="353.1" r="4.4"/>
<circle cx="920.5" cy="353.1" r="4.4"/>
<circle cx="903.2" cy="378.7" r="4.4"/>
<circle cx="910.0" cy="378.7" r="4.4"/>
<circle cx="915.2" cy="378.7" r="4.4"/>
<circle cx="922.0" cy="378.7" r="4.4"/>
<circle cx="928.0" cy="378.7" r="4.4"/>
<circle cx="904.0" cy="391.6" r="4.4"/>
<circle cx="907.7" cy="391.6" r="4.4"/>
<circle cx="917.5" cy="391.6" r="4.4"/>
<circle cx="925.0" cy="391.6" r="4.4"/>
<circle cx="927.2" cy="391.6" r="4.4"/>
<circle cx="907.7" cy="404.4" r="4.4"/>
<circle cx="919.0" cy="404.4" r="4.4"/>
<circle cx="922.7" cy="404.4" r="4.4"/>
<circle cx="929.5" cy="404.4" r="4.4"/>
<circle cx="905.5" cy="417.2" r="4.4"/>
<circle cx="925.7" cy="417.2" r="4.4"/>
<circle cx="951.7" cy="353.1" r="4.4"/>
<circle cx="941.5" cy="378.7" r="4.4"/>
<circle cx="946.0" cy="378.7" r="4.4"/>
<circle cx="949.7" cy="378.7" r="4.4"/>
<circle cx="955.0" cy="378.7" r="4.4"/>
<circle cx="957.2" cy="378.7" r="4.4"/>
<circle cx="964.0" cy="378.7" r="4.4"/>
<circle cx="967.7" cy="378.7" r="4.4"/>
<circle cx="943.0" cy="391.6" r="4.4"/>
<circle cx="946.7" cy="391.6" r="4.4"/>
<circle cx="949.0" cy="391.6" r="4.4"/>
<circle cx="955.7" cy="391.6" r="4.4"/>
<circle cx="958.0" cy="391.6" r="4.4"/>
<circle cx="966.2" cy="391.6" r="4.4"/>
<circle cx="941.5" cy="404.4" r="4.4"/>
<circle cx="945.2" cy="404.4" r="4.4"/>
<circle cx="961.7" cy="404.4" r="4.4"/>
<circle cx="964.7" cy="404.4" r="4.4"/>
<circle cx="957.2" cy="417.2" r="4.4"/>
<circle cx="961.0" cy="417.2" r="4.4"/>
<circle cx="964.0" cy="417.2" r="4.4"/>
</g>
<polyline points="137.75,412.50 138.04,412.13 138.34,411.75 138.63,411.35 138.93,410.94 139.22,410.51 139.51,410.06 139.81,409.60 140.10,409.11 140.39,408.61 140.69,408.09 140.98,407.54 141.28,406.97 141.57,406.37 141.86,405.75 142.16,405.10 142.45,404.43 142.74,403.72 143.04,402.98 143.33,402.21 143.62,401.40 143.92,400.56 144.21,399.68 144.51,398.76 144.80,397.79 145.09,396.78 145.39,395.73 145.68,394.62 145.97,393.47 146.27,392.26 146.56,391.00 146.86,389.68 147.15,388.30 147.44,386.86 147.74,385.35 148.03,383.79 148.32,382.15 148.62,380.46 148.91,378.69 149.21,376.86 149.50,374.97 149.79,373.01 150.09,371.00 150.38,368.93 150.68,366.80 150.97,364.64 151.26,362.44 151.56,360.22 151.85,357.99 152.14,355.76 152.44,353.54 152.73,351.37 153.03,349.25 153.32,347.21 153.61,345.27 153.91,343.46 154.20,341.79 154.49,340.30 154.79,339.00 155.08,337.91 155.38,337.06 155.67,336.45 155.96,336.09 156.20,336.00 156.26,336.00 156.55,336.18 156.84,336.61 157.14,337.30 157.43,338.22 157.72,339.38 158.02,340.74 158.31,342.28 158.61,343.99 158.90,345.83 159.19,347.80 159.49,349.85 159.78,351.98 160.07,354.15 160.37,356.35 160.66,358.57 160.96,360.78 161.25,362.98 161.54,365.14 161.84,367.27 162.13,369.36 162.43,371.39 162.72,373.37 163.01,375.28 163.31,377.13 163.60,378.92 163.89,380.64 164.19,382.29 164.48,383.88 164.78,385.41 165.07,386.87 165.36,388.27 165.66,389.60 165.95,390.88 166.24,392.11 166.54,393.28 166.83,394.39 167.12,395.46 167.42,396.48 167.71,397.46 168.01,398.39 168.30,399.27 168.59,400.12 168.89,400.93 169.18,401.71 169.47,402.45 169.77,403.16 170.06,403.83 170.36,404.48 170.65,405.10 170.94,405.69 171.24,406.26 171.53,406.80 171.82,407.32 172.12,407.82 172.41,408.30 172.71,408.76 173.00,409.20" fill="none" stroke="#ff0000" stroke-width="2.6" stroke-linejoin="round"/>
<polyline points="176.00,403.50 176.29,402.94 176.59,402.36 176.88,401.75 177.18,401.12 177.47,400.47 177.76,399.79 178.06,399.09 178.35,398.36 178.64,397.60 178.94,396.81 179.23,395.99 179.53,395.13 179.82,394.24 180.11,393.32 180.41,392.35 180.70,391.35 180.99,390.31 181.29,389.22 181.58,388.08 181.88,386.90 182.17,385.68 182.46,384.40 182.76,383.06 183.05,381.68 183.34,380.23 183.64,378.73 183.93,377.17 184.22,375.54 184.52,373.85 184.81,372.10 185.11,370.28 185.40,368.39 185.69,366.44 185.99,364.42 186.28,362.33 186.57,360.18 186.87,357.96 187.16,355.68 187.46,353.35 187.75,350.96 188.04,348.53 188.34,346.05 188.63,343.55 188.93,341.03 189.22,338.49 189.51,335.97 189.81,333.46 190.10,330.99 190.39,328.57 190.69,326.23 190.98,323.99 191.28,321.86 191.57,319.87 191.86,318.04 192.16,316.39 192.45,314.94 192.74,313.71 193.04,312.71 193.33,311.97 193.62,311.48 193.92,311.26 194.00,311.25 194.21,311.31 194.51,311.63 194.80,312.21 195.09,313.05 195.39,314.13 195.68,315.44 195.97,316.96 196.27,318.67 196.56,320.56 196.86,322.59 197.15,324.76 197.44,327.03 197.74,329.38 198.03,331.80 198.32,334.27 198.62,336.77 198.91,339.28 199.21,341.79 199.50,344.28 199.79,346.75 200.09,349.19 200.38,351.58 200.68,353.92 200.97,356.21 201.26,358.44 201.56,360.61 201.85,362.72 202.14,364.75 202.44,366.72 202.73,368.63 203.03,370.46 203.32,372.23 203.61,373.93 203.91,375.57 204.20,377.15 204.49,378.66 204.79,380.12 205.08,381.52 205.38,382.86 205.67,384.15 205.96,385.38 206.26,386.57 206.55,387.71 206.84,388.80 207.14,389.85 207.43,390.85 207.72,391.82 208.02,392.74 208.31,393.63 208.61,394.48 208.90,395.30 209.19,396.09 209.49,396.84 209.78,397.57 210.07,398.27 210.37,398.94 210.66,399.58 210.96,400.20 211.25,400.80" fill="none" stroke="#ff0000" stroke-width="2.6" stroke-linejoin="round"/>
<polyline points="214.70,407.20 215.00,406.57 215.29,405.92 215.59,405.23 215.88,404.51 216.18,403.75 216.48,402.96 216.77,402.13 217.07,401.26 217.37,400.35 217.66,399.38 217.96,398.37 218.25,397.31 218.55,396.19 218.85,395.01 219.14,393.78 219.44,392.47 219.74,391.09 220.03,389.64 220.33,388.12 220.62,386.50 220.92,384.80 221.22,383.01 221.51,381.11 221.81,379.11 222.11,377.01 222.40,374.78 222.70,372.44 223.00,369.97 223.29,367.36 223.59,364.62 223.88,361.74 224.18,358.72 224.48,355.55 224.77,352.23 225.07,348.76 225.36,345.16 225.66,341.41 225.96,337.55 226.25,333.56 226.55,329.48 226.85,325.33 227.14,321.14 227.44,316.93 227.73,312.76 228.03,308.66 228.33,304.69 228.62,300.90 228.92,297.36 229.22,294.13 229.51,291.26 229.81,288.82 230.10,286.86 230.40,285.42 230.70,284.55 230.99,284.25 231.00,284.25 231.29,284.54 231.59,285.41 231.88,286.84 232.18,288.79 232.47,291.23 232.77,294.10 233.07,297.33 233.36,300.88 233.66,304.67 233.96,308.66 234.25,312.77 234.55,316.96 234.84,321.18 235.14,325.39 235.44,329.56 235.73,333.66 236.03,337.67 236.33,341.56 236.62,345.32 236.92,348.95 237.22,352.44 237.51,355.78 237.81,358.97 238.10,362.02 238.40,364.92 238.70,367.69 238.99,370.31 239.29,372.81 239.58,375.17 239.88,377.42 240.18,379.55 240.47,381.57 240.77,383.49 241.07,385.30 241.36,387.02 241.66,388.66 241.95,390.21 242.25,391.68 242.55,393.07 242.84,394.40 243.14,395.66 243.44,396.85 243.73,397.99 244.03,399.07 244.32,400.10 244.62,401.08 244.92,402.02 245.21,402.91 245.51,403.75 245.81,404.56 246.10,405.34 246.40,406.08 246.69,406.78 246.99,407.46 247.29,408.10 247.58,408.72 247.88,409.31 248.18,409.88 248.47,410.42 248.77,410.94 249.06,411.44 249.36,411.92 249.66,412.38 249.95,412.82 250.25,413.25" fill="none" stroke="#ff0000" stroke-width="2.6" stroke-linejoin="round"/>
<polyline points="253.25,413.25 253.54,412.61 253.83,411.93 254.12,411.23 254.42,410.48 254.71,409.70 255.00,408.89 255.29,408.02 255.58,407.12 255.88,406.16 256.17,405.16 256.46,404.10 256.75,402.98 257.04,401.80 257.33,400.56 257.62,399.24 257.92,397.85 258.21,396.38 258.50,394.83 258.79,393.18 259.08,391.43 259.38,389.58 259.67,387.62 259.96,385.53 260.25,383.32 260.54,380.97 260.83,378.48 261.12,375.83 261.42,373.02 261.71,370.03 262.00,366.86 262.29,363.49 262.58,359.92 262.88,356.13 263.17,352.13 263.46,347.89 263.75,343.43 264.04,338.73 264.33,333.79 264.62,328.63 264.92,323.26 265.21,317.69 265.50,311.95 265.79,306.08 266.08,300.13 266.38,294.16 266.67,288.23 266.96,282.43 267.25,276.86 267.54,271.62 267.83,266.81 268.12,262.56 268.42,258.96 268.71,256.11 269.00,254.10 269.29,252.98 269.50,252.75 269.58,252.79 269.88,253.54 270.17,255.20 270.46,257.72 270.75,261.03 271.04,265.04 271.33,269.65 271.62,274.74 271.92,280.21 272.21,285.95 272.50,291.85 272.79,297.84 273.08,303.83 273.38,309.77 273.67,315.59 273.96,321.26 274.25,326.74 274.54,332.02 274.83,337.08 275.12,341.90 275.42,346.49 275.71,350.85 276.00,354.98 276.29,358.88 276.58,362.57 276.88,366.04 277.17,369.32 277.46,372.41 277.75,375.32 278.04,378.07 278.33,380.65 278.62,383.08 278.92,385.37 279.21,387.54 279.50,389.57 279.79,391.50 280.08,393.31 280.38,395.03 280.67,396.64 280.96,398.18 281.25,399.62 281.54,400.99 281.83,402.29 282.12,403.52 282.42,404.69 282.71,405.80 283.00,406.85 283.29,407.85 283.58,408.80 283.88,409.70 284.17,410.56 284.46,411.38 284.75,412.17 285.04,412.91 285.33,413.62 285.62,414.30 285.92,414.95 286.21,415.57 286.50,416.17 286.79,416.74 287.08,417.28 287.38,417.81 287.67,418.31 287.96,418.79 288.25,419.25" fill="none" stroke="#ff0000" stroke-width="2.6" stroke-linejoin="round"/>
<polyline points="292.00,388.50 292.29,387.59 292.57,386.63 292.86,385.63 293.15,384.58 293.44,383.48 293.73,382.33 294.01,381.12 294.30,379.85 294.59,378.52 294.88,377.11 295.16,375.64 295.45,374.09 295.74,372.46 296.02,370.74 296.31,368.93 296.60,367.02 296.89,365.01 297.18,362.90 297.46,360.66 297.75,358.30 298.04,355.82 298.32,353.19 298.61,350.42 298.90,347.50 299.19,344.42 299.48,341.16 299.76,337.74 300.05,334.13 300.34,330.33 300.62,326.33 300.91,322.14 301.20,317.75 301.49,313.15 301.77,308.35 302.06,303.35 302.35,298.17 302.64,292.81 302.93,287.31 303.21,281.67 303.50,275.94 303.79,270.16 304.07,264.38 304.36,258.64 304.65,253.03 304.94,247.62 305.23,242.47 305.51,237.69 305.80,233.35 306.09,229.54 306.38,226.33 306.66,223.81 306.95,222.03 307.24,221.02 307.45,220.80 307.52,220.83 307.81,221.44 308.10,222.85 308.39,225.02 308.68,227.90 308.96,231.42 309.25,235.52 309.54,240.09 309.82,245.07 310.11,250.36 310.40,255.88 310.69,261.56 310.98,267.32 311.26,273.10 311.55,278.86 311.84,284.53 312.12,290.10 312.41,295.53 312.70,300.79 312.99,305.87 313.27,310.76 313.56,315.45 313.85,319.93 314.14,324.22 314.43,328.30 314.71,332.19 315.00,335.88 315.29,339.39 315.57,342.72 315.86,345.87 316.15,348.86 316.44,351.70 316.73,354.39 317.01,356.93 317.30,359.35 317.59,361.63 317.88,363.80 318.16,365.86 318.45,367.81 318.74,369.66 319.02,371.41 319.31,373.08 319.60,374.66 319.89,376.16 320.18,377.59 320.46,378.95 320.75,380.25 321.04,381.48 321.32,382.65 321.61,383.77 321.90,384.84 322.19,385.86 322.48,386.83 322.76,387.76 323.05,388.64 323.34,389.49 323.62,390.30 323.91,391.07 324.20,391.82 324.49,392.53 324.77,393.21 325.06,393.86 325.35,394.49 325.64,395.09 325.93,395.66 326.21,396.22 326.50,396.75" fill="none" stroke="#ff0000" stroke-width="2.6" stroke-linejoin="round"/>
<polyline points="330.60,362.00 330.88,361.83 331.16,361.65 331.44,361.45 331.71,361.24 331.99,361.02 332.27,360.78 332.55,360.53 332.83,360.26 333.11,359.96 333.38,359.65 333.66,359.31 333.94,358.94 334.22,358.55 334.50,358.13 334.78,357.67 335.05,357.17 335.33,356.63 335.61,356.04 335.89,355.41 336.17,354.71 336.44,353.95 336.72,353.12 337.00,352.21 337.28,351.21 337.56,350.10 337.84,348.88 338.12,347.53 338.39,346.03 338.67,344.36 338.95,342.49 339.23,340.40 339.51,338.05 339.79,335.40 340.06,332.41 340.34,329.01 340.62,325.15 340.90,320.76 341.18,315.74 341.46,309.99 341.73,303.43 342.01,295.92 342.29,287.38 342.57,277.72 342.85,266.91 343.12,255.02 343.40,242.27 343.68,229.11 343.96,216.26 344.24,204.72 344.52,195.67 344.80,190.23 345.00,189.00 345.07,189.17 345.35,192.65 345.63,200.16 345.91,210.73 346.19,223.15 346.47,236.32 346.74,249.38 347.02,261.76 347.30,273.15 347.58,283.40 347.86,292.51 348.13,300.54 348.41,307.59 348.69,313.75 348.97,319.15 349.25,323.88 349.53,328.03 349.81,331.69 350.08,334.91 350.36,337.76 350.64,340.30 350.92,342.55 351.20,344.57 351.48,346.38 351.75,348.01 352.03,349.47 352.31,350.80 352.59,352.01 352.87,353.11 353.14,354.11 353.42,355.02 353.70,355.86 353.98,356.64 354.26,357.35 354.54,358.01 354.81,358.62 355.09,359.18 355.37,359.71 355.65,360.19 355.93,360.65 356.21,361.08 356.49,361.47 356.76,361.85 357.04,362.20 357.32,362.53 357.60,362.84 357.88,363.14 358.15,363.41 358.43,363.68 358.71,363.93 358.99,364.16 359.27,364.39 359.55,364.60 359.82,364.80 360.10,365.00 360.38,365.18 360.66,365.36 360.94,365.53 361.22,365.69 361.50,365.85 361.77,365.99 362.05,366.14 362.33,366.27 362.61,366.41 362.89,366.53 363.17,366.66 363.44,366.78 363.72,366.89 364.00,367.00" fill="none" stroke="#ff0000" stroke-width="2.6" stroke-linejoin="round"/>
<polyline points="365.25,397.50 365.53,396.85 365.81,396.17 366.09,395.46 366.38,394.72 366.66,393.95 366.94,393.15 367.22,392.32 367.50,391.45 367.78,390.54 368.06,389.59 368.34,388.59 368.62,387.56 368.91,386.47 369.19,385.33 369.47,384.14 369.75,382.89 370.03,381.59 370.31,380.21 370.59,378.77 370.88,377.26 371.16,375.67 371.44,373.99 371.72,372.23 372.00,370.38 372.28,368.42 372.56,366.37 372.84,364.19 373.12,361.90 373.41,359.49 373.69,356.93 373.97,354.23 374.25,351.38 374.53,348.37 374.81,345.18 375.09,341.80 375.38,338.23 375.66,334.45 375.94,330.45 376.22,326.22 376.50,321.74 376.78,317.01 377.06,312.01 377.34,306.74 377.62,301.17 377.91,295.31 378.19,289.15 378.47,282.69 378.75,275.93 379.03,268.89 379.31,261.56 379.59,253.99 379.88,246.20 380.16,238.23 380.44,230.14 380.72,222.00 381.00,213.88 381.28,205.90 381.56,198.15 381.84,190.76 382.12,183.85 382.41,177.57 382.69,172.04 382.97,167.40 383.25,163.74 383.53,161.18 383.81,159.77 384.00,159.50 384.09,159.56 384.38,160.55 384.66,162.72 384.94,165.99 385.22,170.30 385.50,175.53 385.78,181.55 386.06,188.25 386.34,195.47 386.62,203.09 386.91,210.99 387.19,219.05 387.47,227.17 387.75,235.27 388.03,243.26 388.31,251.10 388.59,258.73 388.88,266.12 389.16,273.24 389.44,280.07 389.72,286.61 390.00,292.85 390.28,298.79 390.56,304.43 390.84,309.78 391.12,314.86 391.41,319.65 391.69,324.19 391.97,328.48 392.25,332.54 392.53,336.37 392.81,339.99 393.09,343.41 393.38,346.64 393.66,349.69 393.94,352.57 394.22,355.30 394.50,357.88 394.78,360.32 395.06,362.64 395.34,364.83 395.62,366.90 395.91,368.87 396.19,370.73 396.47,372.50 396.75,374.18 397.03,375.78 397.31,377.30 397.59,378.75 397.88,380.12 398.16,381.43 398.44,382.68 398.72,383.87 399.00,385.00" fill="none" stroke="#ff0000" stroke-width="2.6" stroke-linejoin="round"/>
<polyline points="403.25,378.00 403.54,377.36 403.83,376.70 404.12,376.01 404.42,375.29 404.71,374.54 405.00,373.75 405.29,372.93 405.58,372.07 405.87,371.17 406.16,370.22 406.45,369.23 406.75,368.20 407.04,367.11 407.33,365.97 407.62,364.77 407.91,363.51 408.20,362.18 408.49,360.79 408.78,359.32 409.07,357.77 409.37,356.14 409.66,354.41 409.95,352.59 410.24,350.67 410.53,348.64 410.82,346.48 411.11,344.21 411.40,341.79 411.70,339.23 411.99,336.52 412.28,333.64 412.57,330.58 412.86,327.33 413.15,323.88 413.44,320.21 413.74,316.31 414.03,312.16 414.32,307.75 414.61,303.06 414.90,298.08 415.19,292.80 415.48,287.18 415.77,281.24 416.06,274.95 416.36,268.30 416.65,261.30 416.94,253.94 417.23,246.24 417.52,238.21 417.81,229.88 418.10,221.30 418.39,212.52 418.69,203.62 418.98,194.69 419.27,185.85 419.56,177.23 419.85,168.97 420.14,161.24 420.43,154.21 420.73,148.05 421.02,142.93 421.31,138.99 421.60,136.36 421.89,135.10 422.00,135.00 422.18,135.27 422.47,136.86 422.76,139.81 423.06,144.04 423.35,149.42 423.64,155.79 423.93,163.00 424.22,170.86 424.51,179.22 424.80,187.90 425.09,196.76 425.38,205.68 425.68,214.55 425.97,223.27 426.26,231.79 426.55,240.03 426.84,247.98 427.13,255.58 427.42,262.85 427.71,269.75 428.01,276.30 428.30,282.50 428.59,288.35 428.88,293.87 429.17,299.07 429.46,303.97 429.75,308.57 430.05,312.91 430.34,316.98 430.63,320.81 430.92,324.42 431.21,327.81 431.50,331.00 431.79,334.00 432.08,336.83 432.38,339.49 432.67,342.01 432.96,344.38 433.25,346.61 433.54,348.72 433.83,350.72 434.12,352.61 434.41,354.39 434.70,356.08 435.00,357.68 435.29,359.20 435.58,360.64 435.87,362.01 436.16,363.31 436.45,364.54 436.74,365.72 437.03,366.83 437.33,367.90 437.62,368.91 437.91,369.88 438.20,370.80" fill="none" stroke="#ff0000" stroke-width="2.6" stroke-linejoin="round"/>
<polyline points="441.80,391.80 442.09,390.06 442.38,388.26 442.67,386.38 442.95,384.42 443.24,382.39 443.53,380.27 443.82,378.06 444.11,375.76 444.40,373.37 444.69,370.88 444.98,368.28 445.26,365.56 445.55,362.74 445.84,359.79 446.13,356.71 446.42,353.50 446.71,350.15 447.00,346.66 447.29,343.01 447.57,339.21 447.86,335.24 448.15,331.10 448.44,326.78 448.73,322.28 449.02,317.58 449.31,312.69 449.60,307.59 449.88,302.29 450.17,296.77 450.46,291.04 450.75,285.10 451.04,278.93 451.33,272.55 451.62,265.95 451.91,259.14 452.19,252.14 452.48,244.94 452.77,237.57 453.06,230.04 453.35,222.38 453.64,214.62 453.93,206.79 454.22,198.93 454.50,191.08 454.79,183.30 455.08,175.64 455.37,168.16 455.66,160.94 455.95,154.03 456.24,147.51 456.53,141.45 456.81,135.93 457.10,131.02 457.39,126.79 457.68,123.28 457.97,120.56 458.26,118.66 458.55,117.61 458.75,117.40 458.84,117.44 459.12,118.14 459.41,119.69 459.70,122.09 459.99,125.28 460.28,129.23 460.57,133.88 460.86,139.16 461.15,145.01 461.44,151.35 461.72,158.11 462.01,165.22 462.30,172.60 462.59,180.20 462.88,187.94 463.17,195.76 463.46,203.62 463.75,211.47 464.03,219.27 464.32,226.97 464.61,234.55 464.90,241.99 465.19,249.26 465.48,256.34 465.77,263.23 466.06,269.91 466.34,276.38 466.63,282.63 466.92,288.67 467.21,294.49 467.50,300.09 467.79,305.48 468.08,310.65 468.37,315.63 468.65,320.40 468.94,324.98 469.23,329.37 469.52,333.59 469.81,337.62 470.10,341.49 470.39,345.20 470.68,348.76 470.96,352.16 471.25,355.43 471.54,358.56 471.83,361.56 472.12,364.43 472.41,367.19 472.70,369.83 472.99,372.37 473.27,374.80 473.56,377.14 473.85,379.38 474.14,381.53 474.43,383.60 474.72,385.59 475.01,387.50 475.29,389.33 475.58,391.10 475.87,392.79 476.16,394.43 476.45,396.00" fill="none" stroke="#ff0000" stroke-width="2.6" stroke-linejoin="round"/>
<polyline points="480.20,390.00 480.49,388.96 480.78,387.87 481.07,386.74 481.36,385.54 481.65,384.30 481.94,382.98 482.23,381.61 482.52,380.17 482.81,378.65 483.10,377.05 483.39,375.38 483.68,373.61 483.97,371.75 484.26,369.79 484.55,367.73 484.84,365.55 485.13,363.24 485.42,360.81 485.71,358.24 486.00,355.52 486.29,352.64 486.58,349.60 486.87,346.37 487.16,342.95 487.45,339.32 487.74,335.47 488.03,331.39 488.32,327.05 488.61,322.45 488.90,317.57 489.19,312.39 489.48,306.89 489.77,301.05 490.06,294.87 490.35,288.32 490.64,281.39 490.93,274.07 491.22,266.34 491.51,258.22 491.80,249.69 492.09,240.78 492.38,231.49 492.67,221.86 492.96,211.94 493.25,201.79 493.54,191.48 493.83,181.11 494.12,170.81 494.41,160.71 494.70,150.97 494.99,141.76 495.28,133.28 495.57,125.71 495.86,119.23 496.15,114.02 496.44,110.22 496.73,107.94 497.00,107.25 497.02,107.25 497.31,108.18 497.60,110.68 497.89,114.69 498.18,120.10 498.47,126.75 498.76,134.47 499.05,143.07 499.34,152.37 499.63,162.18 499.92,172.33 500.21,182.66 500.50,193.03 500.79,203.34 501.08,213.47 501.37,223.37 501.66,232.96 501.95,242.21 502.24,251.08 502.53,259.57 502.82,267.65 503.11,275.32 503.40,282.60 503.69,289.49 503.98,296.00 504.27,302.15 504.56,307.94 504.85,313.41 505.14,318.56 505.43,323.41 505.72,327.99 506.01,332.29 506.30,336.36 506.59,340.18 506.88,343.79 507.17,347.20 507.46,350.41 507.75,353.44 508.04,356.31 508.33,359.02 508.62,361.58 508.91,364.00 509.20,366.30 509.49,368.47 509.78,370.54 510.07,372.49 510.36,374.35 510.65,376.11 510.94,377.79 511.23,379.38 511.52,380.90 511.81,382.35 512.10,383.72 512.39,385.03 512.68,386.29 512.97,387.48 513.26,388.62 513.55,389.71 513.84,390.76 514.13,391.75 514.42,392.71 514.71,393.62 515.00,394.50" fill="none" stroke="#ff0000" stroke-width="2.6" stroke-linejoin="round"/>
<polyline points="522.70,343.00 522.99,342.64 523.28,342.26 523.57,341.85 523.86,341.43 524.15,340.98 524.44,340.51 524.73,340.01 525.02,339.49 525.31,338.93 525.60,338.34 525.89,337.71 526.18,337.04 526.47,336.34 526.76,335.58 527.05,334.78 527.34,333.92 527.63,333.01 527.92,332.03 528.21,330.99 528.50,329.87 528.79,328.67 529.08,327.38 529.37,325.98 529.66,324.49 529.95,322.87 530.24,321.12 530.53,319.23 530.82,317.18 531.11,314.95 531.40,312.53 531.69,309.88 531.98,307.00 532.27,303.85 532.56,300.40 532.85,296.61 533.14,292.46 533.43,287.89 533.72,282.87 534.01,277.33 534.30,271.24 534.59,264.52 534.88,257.13 535.17,249.01 535.46,240.11 535.75,230.39 536.04,219.84 536.33,208.48 536.62,196.37 536.91,183.65 537.20,170.54 537.49,157.37 537.78,144.56 538.07,132.65 538.36,122.25 538.65,113.99 538.94,108.44 539.23,106.00 539.30,105.90 539.52,106.86 539.81,110.97 540.10,118.00 540.39,127.45 540.68,138.72 540.97,151.19 541.26,164.26 541.55,177.46 541.84,190.42 542.13,202.86 542.42,214.60 542.71,225.57 543.00,235.70 543.29,245.01 543.58,253.52 543.87,261.27 544.16,268.31 544.45,274.72 544.74,280.53 545.03,285.81 545.32,290.60 545.61,294.97 545.90,298.94 546.19,302.56 546.48,305.87 546.77,308.89 547.06,311.66 547.35,314.20 547.64,316.53 547.93,318.68 548.22,320.66 548.51,322.49 548.80,324.19 549.09,325.76 549.38,327.21 549.67,328.56 549.96,329.82 550.25,330.99 550.54,332.09 550.83,333.11 551.12,334.07 551.41,334.97 551.70,335.81 551.99,336.60 552.28,337.34 552.57,338.04 552.86,338.70 553.15,339.33 553.44,339.91 553.73,340.47 554.02,341.00 554.31,341.49 554.60,341.97 554.89,342.42 555.18,342.84 555.47,343.25 555.76,343.63 556.05,344.00 556.34,344.35 556.63,344.69 556.92,345.00 557.21,345.31 557.50,345.60" fill="none" stroke="#ff0000" stroke-width="2.6" stroke-linejoin="round"/>
<polyline points="556.75,421.80 557.04,420.41 557.33,418.96 557.62,417.44 557.91,415.86 558.21,414.20 558.50,412.47 558.79,410.66 559.08,408.77 559.37,406.79 559.66,404.72 559.95,402.54 560.25,400.27 560.54,397.88 560.83,395.37 561.12,392.74 561.41,389.98 561.70,387.08 561.99,384.04 562.28,380.83 562.58,377.47 562.87,373.92 563.16,370.20 563.45,366.28 563.74,362.15 564.03,357.81 564.32,353.23 564.61,348.42 564.90,343.36 565.20,338.03 565.49,332.42 565.78,326.52 566.07,320.33 566.36,313.82 566.65,306.99 566.94,299.84 567.24,292.35 567.53,284.53 567.82,276.38 568.11,267.90 568.40,259.10 568.69,250.00 568.98,240.64 569.27,231.03 569.57,221.23 569.86,211.29 570.15,201.28 570.44,191.28 570.73,181.38 571.02,171.68 571.31,162.31 571.60,153.38 571.89,145.03 572.19,137.39 572.48,130.60 572.77,124.78 573.06,120.06 573.35,116.52 573.64,114.24 573.93,113.28 574.00,113.25 574.23,113.66 574.52,115.36 574.81,118.36 575.10,122.58 575.39,127.94 575.68,134.32 575.97,141.62 576.26,149.68 576.56,158.39 576.85,167.60 577.14,177.19 577.43,187.03 577.72,197.02 578.01,207.06 578.30,217.07 578.59,226.96 578.88,236.68 579.18,246.19 579.47,255.43 579.76,264.39 580.05,273.04 580.34,281.37 580.63,289.37 580.92,297.03 581.22,304.35 581.51,311.35 581.80,318.03 582.09,324.39 582.38,330.44 582.67,336.20 582.96,341.68 583.25,346.89 583.55,351.84 583.84,356.54 584.13,361.01 584.42,365.26 584.71,369.29 585.00,373.13 585.29,376.78 585.58,380.25 585.88,383.54 586.17,386.68 586.46,389.67 586.75,392.52 587.04,395.23 587.33,397.82 587.62,400.28 587.91,402.63 588.21,404.87 588.50,407.02 588.79,409.06 589.08,411.02 589.37,412.89 589.66,414.67 589.95,416.39 590.24,418.02 590.54,419.59 590.83,421.10 591.12,422.54 591.41,423.92 591.70,425.25" fill="none" stroke="#ff0000" stroke-width="2.6" stroke-linejoin="round"/>
<polyline points="595.45,423.75 595.74,422.03 596.03,420.24 596.32,418.38 596.61,416.43 596.90,414.41 597.19,412.31 597.48,410.11 597.77,407.82 598.06,405.44 598.35,402.95 598.64,400.35 598.93,397.63 599.22,394.80 599.51,391.84 599.80,388.74 600.09,385.51 600.38,382.13 600.67,378.60 600.96,374.91 601.25,371.05 601.54,367.02 601.83,362.80 602.12,358.39 602.41,353.77 602.70,348.96 602.99,343.92 603.28,338.66 603.57,333.17 603.86,327.45 604.15,321.48 604.44,315.26 604.73,308.79 605.02,302.07 605.31,295.10 605.60,287.87 605.89,280.41 606.18,272.70 606.47,264.78 606.76,256.65 607.05,248.34 607.34,239.87 607.63,231.29 607.92,222.63 608.21,213.94 608.50,205.27 608.79,196.70 609.08,188.28 609.37,180.10 609.66,172.24 609.95,164.79 610.24,157.82 610.53,151.44 610.82,145.73 611.11,140.76 611.40,136.63 611.69,133.39 611.98,131.09 612.27,129.78 612.50,129.45 612.56,129.47 612.85,130.17 613.14,131.87 613.43,134.55 613.72,138.14 614.01,142.61 614.30,147.87 614.59,153.85 614.88,160.46 615.17,167.62 615.46,175.23 615.75,183.21 616.04,191.48 616.33,199.94 616.62,208.54 616.91,217.20 617.20,225.87 617.49,234.48 617.78,243.00 618.07,251.38 618.36,259.60 618.65,267.62 618.94,275.43 619.23,283.02 619.52,290.36 619.81,297.46 620.10,304.31 620.39,310.90 620.68,317.25 620.97,323.34 621.26,329.19 621.55,334.79 621.84,340.16 622.13,345.31 622.42,350.23 622.71,354.94 623.00,359.44 623.29,363.75 623.58,367.87 623.87,371.81 624.16,375.58 624.45,379.18 624.74,382.63 625.03,385.92 625.32,389.08 625.61,392.09 625.90,394.98 626.19,397.74 626.48,400.38 626.77,402.91 627.06,405.34 627.35,407.66 627.64,409.89 627.93,412.03 628.22,414.08 628.51,416.04 628.80,417.93 629.09,419.74 629.38,421.48 629.67,423.15 629.96,424.76 630.25,426.30" fill="none" stroke="#ff0000" stroke-width="2.6" stroke-linejoin="round"/>
<polyline points="634.00,385.50 634.29,384.76 634.58,383.99 634.88,383.18 635.17,382.33 635.46,381.43 635.75,380.49 636.04,379.51 636.33,378.47 636.62,377.37 636.92,376.22 637.21,375.00 637.50,373.71 637.79,372.35 638.08,370.91 638.38,369.39 638.67,367.78 638.96,366.07 639.25,364.26 639.54,362.33 639.83,360.29 640.12,358.11 640.42,355.80 640.71,353.33 641.00,350.70 641.29,347.90 641.58,344.91 641.88,341.71 642.17,338.29 642.46,334.64 642.75,330.73 643.04,326.55 643.33,322.08 643.62,317.29 643.92,312.17 644.21,306.70 644.50,300.86 644.79,294.63 645.08,287.99 645.38,280.94 645.67,273.47 645.96,265.58 646.25,257.29 646.54,248.63 646.83,239.64 647.12,230.38 647.42,220.94 647.71,211.43 648.00,202.00 648.29,192.81 648.58,184.06 648.88,175.95 649.17,168.71 649.46,162.56 649.75,157.71 650.04,154.32 650.33,152.53 650.50,152.25 650.62,152.40 650.92,153.94 651.21,157.09 651.50,161.73 651.79,167.69 652.08,174.77 652.38,182.76 652.67,191.42 652.96,200.54 653.25,209.94 653.54,219.43 653.83,228.87 654.12,238.14 654.42,247.16 654.71,255.86 655.00,264.19 655.29,272.12 655.58,279.64 655.88,286.73 656.17,293.41 656.46,299.69 656.75,305.57 657.04,311.08 657.33,316.23 657.62,321.05 657.92,325.55 658.21,329.75 658.50,333.68 658.79,337.36 659.08,340.79 659.38,344.01 659.67,347.01 659.96,349.83 660.25,352.47 660.54,354.94 660.83,357.26 661.12,359.44 661.42,361.49 661.71,363.42 662.00,365.23 662.29,366.94 662.58,368.55 662.88,370.07 663.17,371.50 663.46,372.86 663.75,374.14 664.04,375.35 664.33,376.50 664.62,377.59 664.92,378.62 665.21,379.60 665.50,380.53 665.79,381.42 666.08,382.26 666.38,383.06 666.67,383.82 666.96,384.55 667.25,385.25 667.54,385.91 667.83,386.54 668.12,387.14 668.42,387.72 668.71,388.27 669.00,388.80" fill="none" stroke="#ff0000" stroke-width="2.6" stroke-linejoin="round"/>
<polyline points="672.75,432.30 673.04,430.96 673.33,429.57 673.61,428.12 673.90,426.60 674.19,425.02 674.48,423.37 674.76,421.64 675.05,419.83 675.34,417.94 675.62,415.96 675.91,413.89 676.20,411.72 676.49,409.45 676.77,407.07 677.06,404.57 677.35,401.95 677.64,399.20 677.92,396.32 678.21,393.29 678.50,390.11 678.79,386.78 679.08,383.27 679.36,379.59 679.65,375.72 679.94,371.67 680.23,367.40 680.51,362.93 680.80,358.23 681.09,353.31 681.38,348.15 681.66,342.75 681.95,337.09 682.24,331.19 682.52,325.03 682.81,318.61 683.10,311.95 683.39,305.04 683.67,297.89 683.96,290.53 684.25,282.97 684.54,275.25 684.83,267.40 685.11,259.46 685.40,251.49 685.69,243.55 685.98,235.71 686.26,228.05 686.55,220.66 686.84,213.63 687.12,207.05 687.41,201.03 687.70,195.66 687.99,191.05 688.27,187.26 688.56,184.38 688.85,182.45 689.14,181.53 689.25,181.45 689.42,181.63 689.71,182.75 690.00,184.85 690.29,187.91 690.58,191.86 690.86,196.62 691.15,202.11 691.44,208.24 691.73,214.89 692.01,221.99 692.30,229.42 692.59,237.10 692.88,244.94 693.16,252.87 693.45,260.81 693.74,268.71 694.02,276.51 694.31,284.17 694.60,291.66 694.89,298.95 695.17,306.02 695.46,312.85 695.75,319.44 696.04,325.77 696.33,331.85 696.61,337.67 696.90,343.24 697.19,348.57 697.48,353.65 697.76,358.49 698.05,363.11 698.34,367.52 698.62,371.71 698.91,375.70 699.20,379.50 699.49,383.11 699.77,386.55 700.06,389.83 700.35,392.95 700.64,395.92 700.92,398.74 701.21,401.44 701.50,404.00 701.79,406.45 702.08,408.78 702.36,411.00 702.65,413.12 702.94,415.15 703.23,417.08 703.51,418.93 703.80,420.69 704.09,422.37 704.38,423.99 704.66,425.53 704.95,427.01 705.24,428.42 705.52,429.77 705.81,431.07 706.10,432.31 706.39,433.50 706.67,434.65 706.96,435.75 707.25,436.80" fill="none" stroke="#ff0000" stroke-width="2.6" stroke-linejoin="round"/>
<polyline points="710.60,399.20 710.89,398.86 711.19,398.50 711.48,398.11 711.77,397.71 712.07,397.28 712.36,396.82 712.65,396.33 712.95,395.82 713.24,395.26 713.53,394.68 713.83,394.05 714.12,393.38 714.41,392.66 714.71,391.89 715.00,391.06 715.29,390.17 715.59,389.21 715.88,388.18 716.17,387.07 716.47,385.86 716.76,384.56 717.05,383.15 717.35,381.61 717.64,379.94 717.93,378.12 718.23,376.13 718.52,373.95 718.81,371.56 719.11,368.94 719.40,366.06 719.69,362.89 719.99,359.39 720.28,355.52 720.57,351.25 720.87,346.52 721.16,341.29 721.45,335.50 721.75,329.11 722.04,322.06 722.33,314.31 722.63,305.84 722.92,296.65 723.21,286.79 723.51,276.35 723.80,265.50 724.09,254.52 724.39,243.78 724.68,233.74 724.97,224.97 725.27,218.02 725.56,213.42 725.85,211.53 725.90,211.50 726.15,212.53 726.44,216.33 726.73,222.60 727.03,230.88 727.32,240.60 727.61,251.20 727.91,262.17 728.20,273.12 728.49,283.74 728.79,293.82 729.08,303.26 729.37,311.98 729.67,319.98 729.96,327.27 730.25,333.90 730.55,339.90 730.84,345.32 731.13,350.23 731.43,354.67 731.72,358.68 732.01,362.32 732.31,365.62 732.60,368.61 732.89,371.33 733.19,373.82 733.48,376.08 733.77,378.15 734.07,380.05 734.36,381.79 734.65,383.40 734.95,384.87 735.24,386.23 735.53,387.49 735.83,388.66 736.12,389.74 736.41,390.74 736.71,391.68 737.00,392.55 737.29,393.36 737.59,394.12 737.88,394.83 738.17,395.50 738.47,396.12 738.76,396.71 739.05,397.26 739.35,397.78 739.64,398.27 739.93,398.74 740.23,399.17 740.52,399.59 740.81,399.98 741.11,400.35 741.40,400.71 741.69,401.04 741.99,401.36 742.28,401.66 742.57,401.95 742.87,402.23 743.16,402.49 743.45,402.74 743.75,402.98 744.04,403.21 744.33,403.43 744.63,403.64 744.92,403.84 745.21,404.04 745.51,404.22 745.80,404.40" fill="none" stroke="#ff0000" stroke-width="2.6" stroke-linejoin="round"/>
<polyline points="749.50,421.50 749.79,420.29 750.08,419.03 750.37,417.70 750.66,416.32 750.95,414.87 751.24,413.35 751.52,411.75 751.81,410.08 752.10,408.33 752.39,406.49 752.68,404.56 752.97,402.53 753.26,400.41 753.55,398.17 753.84,395.82 754.13,393.35 754.42,390.76 754.71,388.04 754.99,385.17 755.28,382.16 755.57,379.00 755.86,375.68 756.15,372.20 756.44,368.54 756.73,364.71 757.02,360.70 757.31,356.50 757.60,352.11 757.89,347.54 758.17,342.77 758.46,337.82 758.75,332.70 759.04,327.40 759.33,321.95 759.62,316.36 759.91,310.66 760.20,304.88 760.49,299.05 760.78,293.21 761.07,287.42 761.36,281.72 761.64,276.18 761.93,270.88 762.22,265.87 762.51,261.23 762.80,257.03 763.09,253.36 763.38,250.27 763.67,247.82 763.96,246.06 764.25,245.04 764.50,244.75 764.54,244.76 764.83,245.23 765.12,246.45 765.40,248.39 765.69,251.02 765.98,254.27 766.27,258.08 766.56,262.40 766.85,267.15 767.14,272.24 767.43,277.62 767.72,283.21 768.01,288.94 768.30,294.76 768.59,300.60 768.87,306.43 769.16,312.20 769.45,317.88 769.74,323.44 770.03,328.86 770.32,334.12 770.61,339.21 770.90,344.11 771.19,348.84 771.48,353.37 771.77,357.71 772.06,361.87 772.34,365.84 772.63,369.63 772.92,373.25 773.21,376.70 773.50,379.98 773.79,383.11 774.08,386.09 774.37,388.92 774.66,391.62 774.95,394.18 775.24,396.62 775.53,398.95 775.81,401.16 776.10,403.27 776.39,405.28 776.68,407.19 776.97,409.01 777.26,410.75 777.55,412.40 777.84,413.98 778.13,415.49 778.42,416.93 778.71,418.30 779.00,419.62 779.28,420.87 779.57,422.07 779.86,423.22 780.15,424.32 780.44,425.37 780.73,426.38 781.02,427.35 781.31,428.28 781.60,429.17 781.89,430.02 782.18,430.84 782.47,431.63 782.75,432.38 783.04,433.11 783.33,433.81 783.62,434.48 783.91,435.13 784.20,435.75" fill="none" stroke="#ff0000" stroke-width="2.6" stroke-linejoin="round"/>
<polyline points="783.75,397.50 784.04,397.27 784.33,397.03 784.62,396.78 784.91,396.51 785.20,396.23 785.49,395.93 785.78,395.62 786.07,395.29 786.36,394.94 786.65,394.57 786.94,394.18 787.23,393.76 787.51,393.32 787.80,392.85 788.09,392.35 788.38,391.82 788.67,391.26 788.96,390.66 789.25,390.02 789.54,389.33 789.83,388.60 790.12,387.81 790.41,386.97 790.70,386.06 790.99,385.09 791.28,384.04 791.57,382.91 791.86,381.69 792.15,380.37 792.44,378.95 792.73,377.40 793.02,375.73 793.31,373.91 793.60,371.94 793.89,369.79 794.17,367.46 794.46,364.91 794.75,362.14 795.04,359.12 795.33,355.83 795.62,352.25 795.91,348.36 796.20,344.15 796.49,339.59 796.78,334.70 797.07,329.46 797.36,323.92 797.65,318.09 797.94,312.06 798.23,305.92 798.52,299.80 798.81,293.86 799.10,288.32 799.39,283.39 799.68,279.31 799.97,276.28 800.26,274.48 800.50,274.00 800.55,274.02 800.84,274.93 801.12,277.14 801.41,280.54 801.70,284.94 801.99,290.10 802.28,295.80 802.57,301.83 802.86,307.99 803.15,314.12 803.44,320.11 803.73,325.87 804.02,331.34 804.31,336.48 804.60,341.28 804.89,345.74 805.18,349.87 805.47,353.67 805.76,357.17 806.05,360.39 806.34,363.34 806.63,366.06 806.92,368.55 807.21,370.84 807.50,372.95 807.79,374.88 808.08,376.67 808.36,378.31 808.65,379.83 808.94,381.24 809.23,382.54 809.52,383.74 809.81,384.86 810.10,385.90 810.39,386.87 810.68,387.77 810.97,388.61 811.26,389.39 811.55,390.12 811.84,390.81 812.13,391.45 812.42,392.06 812.71,392.63 813.00,393.16 813.29,393.66 813.58,394.14 813.87,394.59 814.16,395.01 814.45,395.41 814.74,395.79 815.02,396.15 815.31,396.49 815.60,396.81 815.89,397.12 816.18,397.41 816.47,397.68 816.76,397.95 817.05,398.20 817.34,398.44 817.63,398.67 817.92,398.89 818.21,399.10 818.50,399.30" fill="none" stroke="#ff0000" stroke-width="2.6" stroke-linejoin="round"/>
<polyline points="821.80,394.50 822.09,394.24 822.39,393.96 822.68,393.68 822.98,393.38 823.27,393.06 823.57,392.73 823.87,392.37 824.16,392.01 824.45,391.62 824.75,391.21 825.04,390.77 825.34,390.32 825.63,389.84 825.93,389.33 826.22,388.79 826.52,388.22 826.81,387.61 827.11,386.97 827.40,386.29 827.70,385.57 828.00,384.80 828.29,383.98 828.58,383.11 828.88,382.18 829.17,381.19 829.47,380.14 829.76,379.01 830.06,377.80 830.36,376.52 830.65,375.14 830.94,373.67 831.24,372.09 831.53,370.41 831.83,368.60 832.12,366.67 832.42,364.60 832.72,362.40 833.01,360.04 833.30,357.53 833.60,354.85 833.89,352.02 834.19,349.02 834.49,345.86 834.78,342.55 835.08,339.10 835.37,335.54 835.66,331.90 835.96,328.21 836.25,324.52 836.55,320.90 836.85,317.42 837.14,314.16 837.43,311.20 837.73,308.63 838.02,306.54 838.32,304.99 838.62,304.05 838.90,303.75 838.91,303.75 839.21,304.10 839.50,305.10 839.79,306.69 840.09,308.83 840.38,311.43 840.68,314.42 840.98,317.71 841.27,321.21 841.57,324.85 841.86,328.55 842.15,332.24 842.45,335.89 842.75,339.46 843.04,342.90 843.34,346.21 843.63,349.37 843.92,352.37 844.22,355.20 844.51,357.87 844.81,360.38 845.11,362.74 845.40,364.94 845.70,367.01 845.99,368.94 846.28,370.75 846.58,372.44 846.88,374.01 847.17,375.49 847.47,376.87 847.76,378.16 848.06,379.36 848.35,380.49 848.64,381.55 848.94,382.55 849.24,383.48 849.53,384.36 849.83,385.18 850.12,385.96 850.42,386.68 850.71,387.37 851.00,388.02 851.30,388.63 851.60,389.21 851.89,389.75 852.19,390.27 852.48,390.76 852.78,391.22 853.07,391.66 853.37,392.08 853.66,392.48 853.96,392.85 854.25,393.21 854.55,393.55 854.84,393.88 855.13,394.19 855.43,394.48 855.73,394.77 856.02,395.04 856.32,395.29 856.61,395.54 856.91,395.77 857.20,396.00" fill="none" stroke="#ff0000" stroke-width="2.6" stroke-linejoin="round"/>
<polyline points="860.50,399.00 860.79,398.73 861.09,398.44 861.38,398.14 861.67,397.83 861.97,397.50 862.26,397.15 862.56,396.79 862.85,396.41 863.14,396.01 863.44,395.60 863.73,395.16 864.02,394.69 864.32,394.21 864.61,393.69 864.91,393.15 865.20,392.58 865.49,391.98 865.79,391.34 866.08,390.67 866.38,389.96 866.67,389.20 866.96,388.41 867.26,387.57 867.55,386.67 867.84,385.73 868.14,384.72 868.43,383.66 868.73,382.53 869.02,381.33 869.31,380.06 869.61,378.71 869.90,377.29 870.19,375.77 870.49,374.17 870.78,372.48 871.08,370.69 871.37,368.80 871.66,366.82 871.96,364.74 872.25,362.57 872.54,360.30 872.84,357.95 873.13,355.53 873.42,353.04 873.72,350.52 874.01,347.98 874.31,345.44 874.60,342.95 874.89,340.54 875.19,338.26 875.48,336.13 875.77,334.22 876.07,332.57 876.36,331.21 876.66,330.19 876.95,329.53 877.24,329.26 877.30,329.25 877.54,329.37 877.83,329.88 878.12,330.75 878.42,331.98 878.71,333.51 879.01,335.32 879.30,337.36 879.59,339.58 879.89,341.94 880.18,344.39 880.48,346.90 880.77,349.44 881.06,351.96 881.36,354.45 881.65,356.89 881.94,359.26 882.24,361.55 882.53,363.75 882.83,365.86 883.12,367.87 883.41,369.79 883.71,371.60 884.00,373.32 884.29,374.95 884.59,376.48 884.88,377.94 885.17,379.30 885.47,380.59 885.76,381.81 886.06,382.95 886.35,384.03 886.64,385.05 886.94,386.01 887.23,386.91 887.52,387.77 887.82,388.57 888.11,389.33 888.41,390.05 888.70,390.72 888.99,391.37 889.29,391.97 889.58,392.54 889.88,393.09 890.17,393.60 890.46,394.09 890.76,394.55 891.05,394.99 891.34,395.41 891.64,395.81 891.93,396.18 892.23,396.54 892.52,396.88 892.81,397.21 893.11,397.52 893.40,397.81 893.69,398.10 893.99,398.37 894.28,398.62 894.58,398.87 894.87,399.10 895.16,399.33 895.46,399.54 895.75,399.75" fill="none" stroke="#ff0000" stroke-width="2.6" stroke-linejoin="round"/>
<polyline points="898.75,399.75 899.04,399.68 899.34,399.62 899.63,399.54 899.92,399.47 900.22,399.38 900.51,399.30 900.81,399.21 901.10,399.11 901.39,399.01 901.69,398.89 901.98,398.78 902.27,398.65 902.57,398.52 902.86,398.37 903.16,398.22 903.45,398.05 903.74,397.87 904.04,397.68 904.33,397.47 904.62,397.24 904.92,397.00 905.21,396.73 905.51,396.44 905.80,396.12 906.09,395.77 906.39,395.39 906.68,394.97 906.98,394.51 907.27,394.00 907.56,393.44 907.86,392.81 908.15,392.11 908.44,391.34 908.74,390.47 909.03,389.49 909.33,388.39 909.62,387.16 909.91,385.77 910.21,384.20 910.50,382.43 910.79,380.43 911.09,378.20 911.38,375.71 911.67,372.95 911.97,369.95 912.26,366.75 912.56,363.42 912.85,360.11 913.14,357.00 913.44,354.32 913.73,352.31 914.02,351.19 914.20,351.00 914.32,351.09 914.61,352.01 914.91,353.86 915.20,356.43 915.49,359.48 915.79,362.76 916.08,366.10 916.38,369.33 916.67,372.37 916.96,375.17 917.26,377.71 917.55,379.99 917.84,382.02 918.14,383.83 918.43,385.43 918.73,386.85 919.02,388.11 919.31,389.23 919.61,390.23 919.90,391.11 920.19,391.91 920.49,392.61 920.78,393.25 921.08,393.82 921.37,394.34 921.66,394.81 921.96,395.23 922.25,395.61 922.54,395.96 922.84,396.28 923.13,396.58 923.42,396.84 923.72,397.09 924.01,397.32 924.31,397.53 924.60,397.72 924.89,397.90 925.19,398.06 925.48,398.22 925.77,398.36 926.07,398.49 926.36,398.62 926.66,398.74 926.95,398.84 927.24,398.95 927.54,399.04 927.83,399.13 928.12,399.21 928.42,399.29 928.71,399.37 929.01,399.44 929.30,399.50 929.59,399.57 929.89,399.63 930.18,399.68 930.48,399.74 930.77,399.79 931.06,399.83 931.36,399.88 931.65,399.92 931.94,399.96 932.24,400.00 932.53,400.04 932.83,400.07 933.12,400.11 933.41,400.14 933.71,400.17 934.00,400.20" fill="none" stroke="#ff0000" stroke-width="2.6" stroke-linejoin="round"/>
<polyline points="937.30,400.20 937.60,400.18 937.89,400.16 938.19,400.13 938.49,400.11 938.79,400.08 939.08,400.05 939.38,400.02 939.68,399.99 939.98,399.96 940.27,399.92 940.57,399.88 940.87,399.84 941.17,399.79 941.46,399.74 941.76,399.69 942.06,399.63 942.36,399.56 942.65,399.49 942.95,399.42 943.25,399.33 943.55,399.24 943.84,399.14 944.14,399.02 944.44,398.89 944.74,398.75 945.03,398.59 945.33,398.41 945.63,398.21 945.93,397.97 946.22,397.70 946.52,397.39 946.82,397.03 947.12,396.61 947.41,396.12 947.71,395.54 948.01,394.84 948.31,394.00 948.61,392.98 948.90,391.74 949.20,390.23 949.50,388.37 949.79,386.10 950.09,383.36 950.39,380.16 950.69,376.60 950.99,373.04 951.28,370.06 951.58,368.41 951.70,368.25 951.88,368.59 952.17,370.55 952.47,373.69 952.77,377.29 953.07,380.79 953.37,383.91 953.66,386.55 953.96,388.73 954.26,390.51 954.55,391.96 954.85,393.15 955.15,394.13 955.45,394.93 955.75,395.60 956.04,396.16 956.34,396.64 956.64,397.04 956.93,397.38 957.23,397.68 957.53,397.94 957.83,398.16 958.12,398.36 958.42,398.53 958.72,398.69 959.02,398.82 959.31,398.94 959.61,399.05 959.91,399.15 960.21,399.23 960.50,399.31 960.80,399.38 961.10,399.45 961.40,399.51 961.69,399.56 961.99,399.61 962.29,399.66 962.59,399.70 962.88,399.73 963.18,399.77 963.48,399.80 963.78,399.83 964.08,399.86 964.37,399.89 964.67,399.91 964.97,399.93 965.26,399.95 965.56,399.97 965.86,399.99 966.16,400.01 966.46,400.02 966.75,400.04 967.05,400.05 967.35,400.06 967.64,400.08 967.94,400.09 968.24,400.10 968.54,400.11 968.84,400.12 969.13,400.12 969.43,400.13 969.73,400.14 970.02,400.15 970.32,400.15 970.62,400.16 970.92,400.17 971.22,400.17 971.51,400.18 971.81,400.18 972.11,400.19 972.40,400.19 972.70,400.20 973.00,400.20" fill="none" stroke="#ff0000" stroke-width="2.6" stroke-linejoin="round"/>
<polyline points="87.9,370.5 90.0,369.7 92.1,368.8 94.3,367.9 96.4,366.9 98.5,366.0 100.7,365.1 102.8,364.1 105.0,363.2 107.1,362.2 109.2,361.2 111.4,360.2 113.5,359.2 115.6,358.1 117.8,357.1 119.9,356.1 122.1,355.0 124.2,353.9 126.3,352.8 128.5,351.7 130.6,350.6 132.7,349.5 134.9,348.3 137.0,347.2 139.2,346.0 141.3,344.8 143.4,343.6 145.6,342.4 147.7,341.2 149.8,340.0 152.0,338.7 154.1,337.5 156.3,336.2 158.4,334.9 160.5,333.6 162.7,332.3 164.8,331.0 166.9,329.6 169.1,328.3 171.2,326.9 173.4,325.6 175.5,324.2 177.6,322.8 179.8,321.4 181.9,320.0 184.0,318.5 186.2,317.1 188.3,315.6 190.5,314.2 192.6,312.7 194.7,311.2 196.9,309.7 199.0,308.2 201.1,306.7 203.3,305.1 205.4,303.6 207.6,302.0 209.7,300.5 211.8,298.9 214.0,297.3 216.1,295.7 218.2,294.1 220.4,292.5 222.5,290.9 224.7,289.2 226.8,287.6 228.9,285.9 231.1,284.3 233.2,282.6 235.3,280.9 237.5,279.2 239.6,277.5 241.8,275.8 243.9,274.1 246.0,272.4 248.2,270.7 250.3,268.9 252.4,267.2 254.6,265.4 256.7,263.7 258.9,261.9 261.0,260.2 263.1,258.4 265.3,256.6 267.4,254.8 269.5,253.1 271.7,251.3 273.8,249.5 276.0,247.7 278.1,245.9 280.2,244.1 282.4,242.3 284.5,240.5 286.6,238.6 288.8,236.8 290.9,235.0 293.1,233.2 295.2,231.4 297.3,229.6 299.5,227.8 301.6,225.9 303.7,224.1 305.9,222.3 308.0,220.5 310.2,218.7 312.3,216.9 314.4,215.1 316.6,213.2 318.7,211.4 320.8,209.6 323.0,207.8 325.1,206.0 327.3,204.3 329.4,202.5 331.5,200.7 333.7,198.9 335.8,197.1 337.9,195.4 340.1,193.6 342.2,191.9 344.4,190.1 346.5,188.4 348.6,186.7 350.8,184.9 352.9,183.2 355.0,181.5 357.2,179.8 359.3,178.2 361.5,176.5 363.6,174.8 365.7,173.2 367.9,171.5 370.0,169.9 372.1,168.3 374.3,166.7 376.4,165.1 378.6,163.5 380.7,162.0 382.8,160.4 385.0,158.9 387.1,157.4 389.2,155.9 391.4,154.4 393.5,152.9 395.7,151.5 397.8,150.0 399.9,148.6 402.1,147.2 404.2,145.8 406.3,144.4 408.5,143.1 410.6,141.7 412.8,140.4 414.9,139.1 417.0,137.9 419.2,136.6 421.3,135.4 423.4,134.2 425.6,133.0 427.7,131.8 429.9,130.6 432.0,129.5 434.1,128.4 436.3,127.3 438.4,126.3 440.5,125.2 442.7,124.2 444.8,123.2 447.0,122.3 449.1,121.3 451.2,120.4 453.4,119.5 455.5,118.6 457.6,117.8 459.8,117.0 461.9,116.2 464.1,115.4 466.2,114.7 468.3,114.0 470.5,113.3 472.6,112.6 474.7,112.0 476.9,111.4 479.0,110.8 481.2,110.2 483.3,109.7 485.4,109.2 487.6,108.7 489.7,108.3 491.8,107.9 494.0,107.5 496.1,107.1 498.3,106.8 500.4,106.5 502.5,106.2 504.7,105.9 506.8,105.7 508.9,105.5 511.1,105.4 513.2,105.2 515.4,105.1 517.5,105.1 519.6,105.0 521.8,105.0 523.9,105.0 526.0,105.0 528.2,105.1 530.3,105.2 532.5,105.3 534.6,105.5 536.7,105.7 538.9,105.9 541.0,106.1 543.1,106.4 545.3,106.7 547.4,107.0 549.6,107.4 551.7,107.7 553.8,108.2 556.0,108.6 558.1,109.1 560.2,109.5 562.4,110.1 564.5,110.6 566.7,111.2 568.8,111.8 570.9,112.4 573.1,113.1 575.2,113.8 577.3,114.5 579.5,115.2 581.6,116.0 583.8,116.7 585.9,117.6 588.0,118.4 590.2,119.3 592.3,120.1 594.4,121.0 596.6,122.0 598.7,122.9 600.9,123.9 603.0,124.9 605.1,126.0 607.3,127.0 609.4,128.1 611.5,129.2 613.7,130.3 615.8,131.5 618.0,132.6 620.1,133.8 622.2,135.0 624.4,136.3 626.5,137.5 628.6,138.8 630.8,140.1 632.9,141.4 635.1,142.7 637.2,144.0 639.3,145.4 641.5,146.8 643.6,148.2 645.7,149.6 647.9,151.0 650.0,152.5 652.2,154.0 654.3,155.4 656.4,156.9 658.6,158.5 660.7,160.0 662.8,161.5 665.0,163.1 667.1,164.7 669.3,166.2 671.4,167.8 673.5,169.5 675.7,171.1 677.8,172.7 679.9,174.4 682.1,176.0 684.2,177.7 686.4,179.4 688.5,181.1 690.6,182.7 692.8,184.5 694.9,186.2 697.0,187.9 699.2,189.6 701.3,191.4 703.5,193.1 705.6,194.9 707.7,196.6 709.9,198.4 712.0,200.2 714.1,202.0 716.3,203.7 718.4,205.5 720.6,207.3 722.7,209.1 724.8,210.9 727.0,212.7 729.1,214.5 731.2,216.3 733.4,218.2 735.5,220.0 737.7,221.8 739.8,223.6 741.9,225.4 744.1,227.2 746.2,229.1 748.3,230.9 750.5,232.7 752.6,234.5 754.8,236.3 756.9,238.1 759.0,239.9 761.2,241.7 763.3,243.6 765.4,245.4 767.6,247.2 769.7,249.0 771.9,250.8 774.0,252.5 776.1,254.3 778.3,256.1 780.4,257.9 782.5,259.7 784.7,261.4 786.8,263.2 789.0,264.9 791.1,266.7 793.2,268.4 795.4,270.2 797.5,271.9 799.6,273.6 801.8,275.3 803.9,277.0 806.1,278.7 808.2,280.4 810.3,282.1 812.5,283.8 814.6,285.4 816.7,287.1 818.9,288.7 821.0,290.4 823.2,292.0 825.3,293.6 827.4,295.2 829.6,296.8 831.7,298.4 833.8,300.0 836.0,301.6 838.1,303.1 840.2,304.7 842.4,306.2 844.5,307.8 846.7,309.3 848.8,310.8 850.9,312.3 853.1,313.7 855.2,315.2 857.3,316.7 859.5,318.1 861.6,319.6 863.8,321.0 865.9,322.4 868.0,323.8 870.2,325.2 872.3,326.6 874.4,327.9 876.6,329.3 878.7,330.6 880.9,331.9 883.0,333.2 885.1,334.5 887.3,335.8 889.4,337.1 891.5,338.4 893.7,339.6 895.8,340.8 898.0,342.1 900.1,343.3 902.2,344.5 904.4,345.7 906.5,346.8 908.7,348.0 910.8,349.1 912.9,350.3 915.1,351.4 917.2,352.5 919.3,353.6 921.5,354.7 923.6,355.8 925.8,356.8 927.9,357.9 930.0,358.9 932.2,359.9 934.3,360.9 936.4,361.9 938.6,362.9 940.7,363.9 942.9,364.8 945.0,365.8 947.1,366.7 949.3,367.6 951.4,368.5 953.5,369.4 955.7,370.3 957.8,371.2 960.0,372.0 962.1,372.9 964.2,373.7 966.4,374.5 968.5,375.3 970.6,376.1 972.8,376.9 974.9,377.7 977.1,378.5 979.2,379.2 981.3,380.0 983.5,380.7 985.6,381.4 987.7,382.1 989.9,382.8 992.0,383.5 994.2,384.2" fill="none" stroke="#0000ff" stroke-opacity="0.55" stroke-width="2.4" stroke-dasharray="3.6 3.4"/>
</g>
<rect x="91.5" y="0.5" width="898.0" height="449.0" fill="none" stroke="#a6a6a6" stroke-width="1"/>
<path d="M91.5 442.8h3.2M989.5 442.8h-3.2M91.5 430.0h3.2M989.5 430.0h-3.2M91.5 417.2h5.8M989.5 417.2h-5.8M91.5 404.4h3.2M989.5 404.4h-3.2M91.5 391.6h3.2M989.5 391.6h-3.2M91.5 378.7h3.2M989.5 378.7h-3.2M91.5 365.9h3.2M989.5 365.9h-3.2M91.5 353.1h3.2M989.5 353.1h-3.2M91.5 340.3h3.2M989.5 340.3h-3.2M91.5 327.4h3.2M989.5 327.4h-3.2M91.5 314.6h3.2M989.5 314.6h-3.2M91.5 301.8h3.2M989.5 301.8h-3.2M91.5 289.0h5.8M989.5 289.0h-5.8M91.5 276.1h3.2M989.5 276.1h-3.2M91.5 263.3h3.2M989.5 263.3h-3.2M91.5 250.5h3.2M989.5 250.5h-3.2M91.5 237.7h3.2M989.5 237.7h-3.2M91.5 224.8h3.2M989.5 224.8h-3.2M91.5 212.0h3.2M989.5 212.0h-3.2M91.5 199.2h3.2M989.5 199.2h-3.2M91.5 186.4h3.2M989.5 186.4h-3.2M91.5 173.5h3.2M989.5 173.5h-3.2M91.5 160.7h5.8M989.5 160.7h-5.8M91.5 147.9h3.2M989.5 147.9h-3.2M91.5 135.1h3.2M989.5 135.1h-3.2M91.5 122.2h3.2M989.5 122.2h-3.2M91.5 109.4h3.2M989.5 109.4h-3.2M91.5 96.6h3.2M989.5 96.6h-3.2M91.5 83.8h3.2M989.5 83.8h-3.2M91.5 71.0h3.2M989.5 71.0h-3.2M91.5 58.1h3.2M989.5 58.1h-3.2M91.5 45.3h3.2M989.5 45.3h-3.2M91.5 32.5h5.8M989.5 32.5h-5.8M91.5 19.7h3.2M989.5 19.7h-3.2M91.5 6.8h3.2M989.5 6.8h-3.2M113.5 0.5v5.6M113.5 449.5v-5.6M156.2 0.5v3.2M156.2 449.5v-3.2M199.0 0.5v3.2M199.0 449.5v-3.2M241.8 0.5v3.2M241.8 449.5v-3.2M284.5 0.5v3.2M284.5 449.5v-3.2M327.2 0.5v5.6M327.2 449.5v-5.6M370.0 0.5v3.2M370.0 449.5v-3.2M412.8 0.5v3.2M412.8 449.5v-3.2M455.5 0.5v3.2M455.5 449.5v-3.2M498.2 0.5v3.2M498.2 449.5v-3.2M541.0 0.5v5.6M541.0 449.5v-5.6M583.8 0.5v3.2M583.8 449.5v-3.2M626.5 0.5v3.2M626.5 449.5v-3.2M669.2 0.5v3.2M669.2 449.5v-3.2M712.0 0.5v3.2M712.0 449.5v-3.2M754.8 0.5v5.6M754.8 449.5v-5.6M797.5 0.5v3.2M797.5 449.5v-3.2M840.2 0.5v3.2M840.2 449.5v-3.2M883.0 0.5v3.2M883.0 449.5v-3.2M925.8 0.5v3.2M925.8 449.5v-3.2M968.5 0.5v5.6M968.5 449.5v-5.6" stroke="#999" stroke-width="1" fill="none"/>
<text transform="translate(89.4 429.75) scale(0.985 1.075)" font-size="34.5" text-anchor="end">0.0</text>
<text transform="translate(89.4 301.51) scale(0.985 1.075)" font-size="34.5" text-anchor="end">0.2</text>
<text transform="translate(89.4 173.27) scale(0.985 1.075)" font-size="34.5" text-anchor="end">0.4</text>
<text transform="translate(89.4 45.03) scale(0.985 1.075)" font-size="34.5" text-anchor="end">0.6</text>
<text transform="translate(28.2 226.0) rotate(-90)" font-size="40" text-anchor="middle" textLength="353" lengthAdjust="spacingAndGlyphs">Excitation probability</text>
<text transform="translate(936 51.6) scale(0.95 1.04)" font-size="44.5" font-weight="bold" text-anchor="middle">a</text>
<clipPath id="c1"><rect x="91.5" y="462.5" width="898.0" height="449.0"/></clipPath>
<g clip-path="url(#c1)">
<path d="M194.7 843.9V863.2M192.2 843.9h5M192.2 863.2h5M200.7 843.9V863.2M198.2 843.9h5M198.2 863.2h5M203.7 843.9V863.2M201.2 843.9h5M201.2 863.2h5M207.5 843.9V863.2M205.0 843.9h5M205.0 863.2h5M215.7 843.9V863.2M213.2 843.9h5M213.2 863.2h5M207.5 829.0V852.4M205.0 829.0h5M205.0 852.4h5M211.2 829.0V852.4M208.7 829.0h5M208.7 852.4h5M197.0 859.5V873.3M194.5 859.5h5M194.5 873.3h5M206.0 859.5V873.3M203.5 859.5h5M203.5 873.3h5M210.5 859.5V873.3M208.0 859.5h5M208.0 873.3h5M215.0 859.5V873.3M212.5 859.5h5M212.5 873.3h5M192.5 874.2V884.2M190.0 874.2h5M190.0 884.2h5M197.0 874.2V884.2M194.5 874.2h5M194.5 884.2h5M200.7 874.2V884.2M198.2 874.2h5M198.2 884.2h5M205.2 874.2V884.2M202.7 874.2h5M202.7 884.2h5M209.0 874.2V884.2M206.5 874.2h5M206.5 884.2h5M212.7 874.2V884.2M210.2 874.2h5M210.2 884.2h5M216.5 874.2V884.2M214.0 874.2h5M214.0 884.2h5M220.2 874.2V884.2M217.7 874.2h5M217.7 884.2h5M243.5 818.2V844.1M241.0 818.2h5M241.0 844.1h5M248.7 818.2V844.1M246.2 818.2h5M246.2 844.1h5M238.2 829.0V852.4M235.7 829.0h5M235.7 852.4h5M248.0 829.0V852.4M245.5 829.0h5M245.5 852.4h5M232.2 843.9V863.2M229.7 843.9h5M229.7 863.2h5M239.7 843.9V863.2M237.2 843.9h5M237.2 863.2h5M251.0 843.9V863.2M248.5 843.9h5M248.5 863.2h5M254.0 843.9V863.2M251.5 843.9h5M251.5 863.2h5M236.7 852.5V869.0M234.2 852.5h5M234.2 869.0h5M245.0 852.5V869.0M242.5 852.5h5M242.5 869.0h5M256.2 852.5V869.0M253.7 852.5h5M253.7 869.0h5M259.2 852.5V869.0M256.7 852.5h5M256.7 869.0h5M233.0 863.2V875.4M230.5 863.2h5M230.5 875.4h5M236.0 863.2V875.4M233.5 863.2h5M233.5 875.4h5M248.7 863.2V875.4M246.2 863.2h5M246.2 875.4h5M251.0 863.2V875.4M248.5 863.2h5M248.5 875.4h5M257.0 863.2V875.4M254.5 863.2h5M254.5 875.4h5M257.0 874.2V884.2M254.5 874.2h5M254.5 884.2h5M284.7 769.2V803.8M282.2 769.2h5M282.2 803.8h5M283.2 792.0V823.0M280.7 792.0h5M280.7 823.0h5M288.5 792.0V823.0M286.0 792.0h5M286.0 823.0h5M281.7 807.7V835.8M279.2 807.7h5M279.2 835.8h5M279.5 840.0V860.5M277.0 840.0h5M277.0 860.5h5M286.2 840.0V860.5M283.7 840.0h5M283.7 860.5h5M290.0 840.0V860.5M287.5 840.0h5M287.5 860.5h5M281.7 848.9V866.6M279.2 848.9h5M279.2 866.6h5M296.0 848.9V866.6M293.5 848.9h5M293.5 866.6h5M294.5 855.5V870.8M292.0 855.5h5M292.0 870.8h5M269.7 855.5V870.8M267.2 855.5h5M267.2 870.8h5M273.5 855.5V870.8M271.0 855.5h5M271.0 870.8h5M277.2 855.5V870.8M274.7 855.5h5M274.7 870.8h5M270.5 866.8V877.2M268.0 866.8h5M268.0 877.2h5M275.0 866.8V877.2M272.5 866.8h5M272.5 877.2h5M277.2 874.2V884.2M274.7 874.2h5M274.7 884.2h5M290.0 866.8V877.2M287.5 866.8h5M287.5 877.2h5M291.5 874.2V884.2M289.0 874.2h5M289.0 884.2h5M295.2 874.2V884.2M292.7 874.2h5M292.7 884.2h5M297.5 874.2V884.2M295.0 874.2h5M295.0 884.2h5M322.0 772.4V806.5M319.5 772.4h5M319.5 806.5h5M325.7 772.4V806.5M323.2 772.4h5M323.2 806.5h5M321.2 786.3V818.2M318.7 786.3h5M318.7 818.2h5M323.5 800.3V829.8M321.0 800.3h5M321.0 829.8h5M319.0 814.6V841.2M316.5 814.6h5M316.5 841.2h5M322.7 814.6V841.2M320.2 814.6h5M320.2 841.2h5M327.7 829.0V852.4M325.2 829.0h5M325.2 852.4h5M309.2 843.9V863.2M306.7 843.9h5M306.7 863.2h5M313.0 859.5V873.3M310.5 859.5h5M310.5 873.3h5M317.5 859.5V873.3M315.0 859.5h5M315.0 873.3h5M325.7 859.5V873.3M323.2 859.5h5M323.2 873.3h5M331.0 859.5V873.3M328.5 859.5h5M328.5 873.3h5M334.7 859.5V873.3M332.2 859.5h5M332.2 873.3h5M310.0 874.2V884.2M307.5 874.2h5M307.5 884.2h5M313.7 874.2V884.2M311.2 874.2h5M311.2 884.2h5M317.5 874.2V884.2M315.0 874.2h5M315.0 884.2h5M324.2 874.2V884.2M321.7 874.2h5M321.7 884.2h5M328.7 874.2V884.2M326.2 874.2h5M326.2 884.2h5M332.5 874.2V884.2M330.0 874.2h5M330.0 884.2h5M360.7 744.9V782.7M358.2 744.9h5M358.2 782.7h5M364.0 772.4V806.5M361.5 772.4h5M361.5 806.5h5M355.7 800.3V829.8M353.2 800.3h5M353.2 829.8h5M363.2 800.3V829.8M360.7 800.3h5M360.7 829.8h5M357.7 814.6V841.2M355.2 814.6h5M355.2 841.2h5M355.0 829.0V852.4M352.5 829.0h5M352.5 852.4h5M352.7 843.9V863.2M350.2 843.9h5M350.2 863.2h5M365.5 843.9V863.2M363.0 843.9h5M363.0 863.2h5M373.0 843.9V863.2M370.5 843.9h5M370.5 863.2h5M348.2 859.5V873.3M345.7 859.5h5M345.7 873.3h5M352.0 859.5V873.3M349.5 859.5h5M349.5 873.3h5M364.7 859.5V873.3M362.2 859.5h5M362.2 873.3h5M370.7 859.5V873.3M368.2 859.5h5M368.2 873.3h5M373.0 859.5V873.3M370.5 859.5h5M370.5 873.3h5M348.2 874.2V884.2M345.7 874.2h5M345.7 884.2h5M352.7 874.2V884.2M350.2 874.2h5M350.2 884.2h5M355.7 874.2V884.2M353.2 874.2h5M353.2 884.2h5M367.7 874.2V884.2M365.2 874.2h5M365.2 884.2h5M371.5 874.2V884.2M369.0 874.2h5M369.0 884.2h5M397.0 731.3V770.6M394.5 731.3h5M394.5 770.6h5M400.0 744.9V782.7M397.5 744.9h5M397.5 782.7h5M396.2 758.6V794.6M393.7 758.6h5M393.7 794.6h5M401.5 772.4V806.5M399.0 772.4h5M399.0 806.5h5M394.7 786.3V818.2M392.2 786.3h5M392.2 818.2h5M392.5 800.3V829.8M390.0 800.3h5M390.0 829.8h5M382.0 814.6V841.2M379.5 814.6h5M379.5 841.2h5M403.0 814.6V841.2M400.5 814.6h5M400.5 841.2h5M390.2 829.0V852.4M387.7 829.0h5M387.7 852.4h5M403.0 843.9V863.2M400.5 843.9h5M400.5 863.2h5M383.5 859.5V873.3M381.0 859.5h5M381.0 873.3h5M391.0 859.5V873.3M388.5 859.5h5M388.5 873.3h5M406.7 859.5V873.3M404.2 859.5h5M404.2 873.3h5M386.5 874.2V884.2M384.0 874.2h5M384.0 884.2h5M389.5 874.2V884.2M387.0 874.2h5M387.0 884.2h5M431.5 731.3V770.6M429.0 731.3h5M429.0 770.6h5M439.0 731.3V770.6M436.5 731.3h5M436.5 770.6h5M433.7 758.6V794.6M431.2 758.6h5M431.2 794.6h5M437.5 772.4V806.5M435.0 772.4h5M435.0 806.5h5M439.7 786.3V818.2M437.2 786.3h5M437.2 818.2h5M430.0 800.3V829.8M427.5 800.3h5M427.5 829.8h5M430.7 814.6V841.2M428.2 814.6h5M428.2 841.2h5M440.5 814.6V841.2M438.0 814.6h5M438.0 841.2h5M421.7 829.0V852.4M419.2 829.0h5M419.2 852.4h5M427.7 829.0V852.4M425.2 829.0h5M425.2 852.4h5M427.7 843.9V863.2M425.2 843.9h5M425.2 863.2h5M441.2 843.9V863.2M438.7 843.9h5M438.7 863.2h5M424.0 859.5V873.3M421.5 859.5h5M421.5 873.3h5M425.5 874.2V884.2M423.0 874.2h5M423.0 884.2h5M442.7 874.2V884.2M440.2 874.2h5M440.2 884.2h5M420.2 772.4V806.5M417.7 772.4h5M417.7 806.5h5M361.5 704.3V746.3M359.0 704.3h5M359.0 746.3h5M359.2 717.8V758.5M356.7 717.8h5M356.7 758.5h5M393.7 677.6V721.7M391.2 677.6h5M391.2 721.7h5M398.2 717.8V758.5M395.7 717.8h5M395.7 758.5h5M435.4 611.7V659.4M432.9 611.7h5M432.9 659.4h5M436.5 624.8V672.0M434.0 624.8h5M434.0 672.0h5M434.2 704.3V746.3M431.7 704.3h5M431.7 746.3h5M472.5 598.6V646.8M470.0 598.6h5M470.0 646.8h5M468.7 631.3V678.2M466.2 631.3h5M466.2 678.2h5M474.0 664.3V709.4M471.5 664.3h5M471.5 709.4h5M470.0 765.5V800.6M467.5 765.5h5M467.5 800.6h5M468.5 782.8V815.3M466.0 782.8h5M466.0 815.3h5M467.0 800.3V829.8M464.5 800.3h5M464.5 829.8h5M476.0 800.3V829.8M473.5 800.3h5M473.5 829.8h5M463.2 818.2V844.1M460.7 818.2h5M460.7 844.1h5M478.2 818.2V844.1M475.7 818.2h5M475.7 844.1h5M503.7 677.6V721.7M501.2 677.6h5M501.2 721.7h5M506.7 677.6V721.7M504.2 677.6h5M504.2 721.7h5M512.7 677.6V721.7M510.2 677.6h5M510.2 721.7h5M513.5 690.9V734.1M511.0 690.9h5M511.0 734.1h5M506.0 731.3V770.6M503.5 731.3h5M503.5 770.6h5M495.5 786.3V818.2M493.0 786.3h5M493.0 818.2h5M495.5 800.3V829.8M493.0 800.3h5M493.0 829.8h5M514.2 786.3V818.2M511.7 786.3h5M511.7 818.2h5M503.0 814.6V841.2M500.5 814.6h5M500.5 841.2h5M517.2 814.6V841.2M514.7 814.6h5M514.7 841.2h5M497.0 829.0V852.4M494.5 829.0h5M494.5 852.4h5M504.5 829.0V852.4M502.0 829.0h5M502.0 852.4h5M544.2 677.6V721.7M541.7 677.6h5M541.7 721.7h5M551.0 677.6V721.7M548.5 677.6h5M548.5 721.7h5M531.5 717.8V758.5M529.0 717.8h5M529.0 758.5h5M532.7 731.3V770.6M530.2 731.3h5M530.2 770.6h5M549.5 717.8V758.5M547.0 717.8h5M547.0 758.5h5M551.7 744.9V782.7M549.2 744.9h5M549.2 782.7h5M543.5 758.6V794.6M541.0 758.6h5M541.0 794.6h5M542.0 772.4V806.5M539.5 772.4h5M539.5 806.5h5M552.5 800.3V829.8M550.0 800.3h5M550.0 829.8h5M532.7 814.6V841.2M530.2 814.6h5M530.2 841.2h5M536.0 814.6V841.2M533.5 814.6h5M533.5 841.2h5M539.7 814.6V841.2M537.2 814.6h5M537.2 841.2h5M539.0 829.0V852.4M536.5 829.0h5M536.5 852.4h5M555.5 829.0V852.4M553.0 829.0h5M553.0 852.4h5M587.0 690.9V734.1M584.5 690.9h5M584.5 734.1h5M587.7 744.9V782.7M585.2 744.9h5M585.2 782.7h5M569.7 772.4V806.5M567.2 772.4h5M567.2 806.5h5M580.2 772.4V806.5M577.7 772.4h5M577.7 806.5h5M587.7 772.4V806.5M585.2 772.4h5M585.2 806.5h5M571.2 814.6V841.2M568.7 814.6h5M568.7 841.2h5M578.7 814.6V841.2M576.2 814.6h5M576.2 841.2h5M572.0 829.0V852.4M569.5 829.0h5M569.5 852.4h5M577.2 829.0V852.4M574.7 829.0h5M574.7 852.4h5M461.0 836.4V857.9M458.5 836.4h5M458.5 857.9h5M465.5 836.4V857.9M463.0 836.4h5M463.0 857.9h5M479.7 836.4V857.9M477.2 836.4h5M477.2 857.9h5M484.2 836.4V857.9M481.7 836.4h5M481.7 857.9h5M460.2 855.5V870.8M457.7 855.5h5M457.7 870.8h5M477.5 855.5V870.8M475.0 855.5h5M475.0 870.8h5M483.5 855.5V870.8M481.0 855.5h5M481.0 870.8h5M458.0 874.2V884.2M455.5 874.2h5M455.5 884.2h5M462.5 874.2V884.2M460.0 874.2h5M460.0 884.2h5M464.7 874.2V884.2M462.2 874.2h5M462.2 884.2h5M481.2 874.2V884.2M478.7 874.2h5M478.7 884.2h5M502.2 843.9V863.2M499.7 843.9h5M499.7 863.2h5M518.7 859.5V873.3M516.2 859.5h5M516.2 873.3h5M498.2 874.2V884.2M495.7 874.2h5M495.7 884.2h5M500.3 874.2V884.2M497.8 874.2h5M497.8 884.2h5M516.5 874.2V884.2M514.0 874.2h5M514.0 884.2h5M536.0 843.9V863.2M533.5 843.9h5M533.5 863.2h5M542.0 843.9V863.2M539.5 843.9h5M539.5 863.2h5M555.5 859.5V873.3M553.0 859.5h5M553.0 873.3h5M536.3 874.2V884.2M533.8 874.2h5M533.8 884.2h5M538.7 874.2V884.2M536.2 874.2h5M536.2 884.2h5M557.7 874.2V884.2M555.2 874.2h5M555.2 884.2h5M589.2 829.0V852.4M586.7 829.0h5M586.7 852.4h5M573.5 843.9V863.2M571.0 843.9h5M571.0 863.2h5M589.2 843.9V863.2M586.7 843.9h5M586.7 863.2h5M575.7 859.5V873.3M573.2 859.5h5M573.2 873.3h5M572.0 874.2V884.2M569.5 874.2h5M569.5 884.2h5M471.8 518.0V567.1M469.3 518.0h5M469.3 567.1h5M493.2 637.9V684.5M490.7 637.9h5M490.7 684.5h5M509.3 559.7V608.8M506.8 559.7h5M506.8 608.8h5M511.7 598.6V646.8M509.2 598.6h5M509.2 646.8h5M508.2 624.8V672.0M505.7 624.8h5M505.7 672.0h5M510.2 637.9V684.5M507.7 637.9h5M507.7 684.5h5M548.7 572.7V621.5M546.2 572.7h5M546.2 621.5h5M547.7 598.6V646.8M545.2 598.6h5M545.2 646.8h5M545.0 624.8V672.0M542.5 624.8h5M542.5 672.0h5M585.0 534.0V583.2M582.5 534.0h5M582.5 583.2h5M585.8 585.6V634.2M583.3 585.6h5M583.3 634.2h5M587.0 598.6V646.8M584.5 598.6h5M584.5 646.8h5M582.5 624.8V672.0M580.0 624.8h5M580.0 672.0h5M581.7 637.9V684.5M579.2 637.9h5M579.2 684.5h5M546.2 664.3V709.4M543.7 664.3h5M543.7 709.4h5M583.1 664.3V709.4M580.6 664.3h5M580.6 709.4h5M621.4 534.0V583.2M618.9 534.0h5M618.9 583.2h5M624.7 637.9V684.5M622.2 637.9h5M622.2 684.5h5M621.0 651.1V697.0M618.5 651.1h5M618.5 697.0h5M623.7 651.1V697.0M621.2 651.1h5M621.2 697.0h5M658.8 518.0V567.1M656.3 518.0h5M656.3 567.1h5M659.5 550.1V599.2M657.0 550.1h5M657.0 599.2h5M660.7 614.9V662.6M658.2 614.9h5M658.2 662.6h5M662.2 647.8V693.8M659.7 647.8h5M659.7 693.8h5M701.5 631.3V678.2M699.0 631.3h5M699.0 678.2h5M625.5 664.3V709.4M623.0 664.3h5M623.0 709.4h5M626.7 690.9V734.1M624.2 690.9h5M624.2 734.1h5M620.2 704.3V746.3M617.7 704.3h5M617.7 746.3h5M618.3 731.3V770.6M615.8 731.3h5M615.8 770.6h5M619.5 772.4V806.5M617.0 772.4h5M617.0 806.5h5M608.2 772.4V806.5M605.7 772.4h5M605.7 806.5h5M617.2 786.3V818.2M614.7 786.3h5M614.7 818.2h5M594.0 800.3V829.8M591.5 800.3h5M591.5 829.8h5M627.0 800.3V829.8M624.5 800.3h5M624.5 829.8h5M663.0 697.6V740.2M660.5 697.6h5M660.5 740.2h5M656.2 748.3V785.7M653.7 748.3h5M653.7 785.7h5M664.5 748.3V785.7M662.0 748.3h5M662.0 785.7h5M657.7 765.5V800.6M655.2 765.5h5M655.2 800.6h5M646.5 800.3V829.8M644.0 800.3h5M644.0 829.8h5M653.2 800.3V829.8M650.7 800.3h5M650.7 829.8h5M663.7 800.3V829.8M661.2 800.3h5M661.2 829.8h5M685.5 731.3V770.6M683.0 731.3h5M683.0 770.6h5M696.7 664.3V709.4M694.2 664.3h5M694.2 709.4h5M697.2 680.9V724.8M694.7 680.9h5M694.7 724.8h5M699.3 680.9V724.8M696.8 680.9h5M696.8 724.8h5M702.7 697.6V740.2M700.2 697.6h5M700.2 740.2h5M700.5 714.4V755.5M698.0 714.4h5M698.0 755.5h5M695.2 748.3V785.7M692.7 748.3h5M692.7 785.7h5M703.5 748.3V785.7M701.0 748.3h5M701.0 785.7h5M696.3 765.5V800.6M693.8 765.5h5M693.8 800.6h5M704.7 782.8V815.3M702.2 782.8h5M702.2 815.3h5M687.7 800.3V829.8M685.2 800.3h5M685.2 829.8h5M726.0 800.3V829.8M723.5 800.3h5M723.5 829.8h5M729.0 772.4V806.5M726.5 772.4h5M726.5 806.5h5M592.2 829.0V852.4M589.7 829.0h5M589.7 852.4h5M591.0 843.9V863.2M588.5 843.9h5M588.5 863.2h5M595.2 859.5V873.3M592.7 859.5h5M592.7 873.3h5M609.7 814.6V841.2M607.2 814.6h5M607.2 841.2h5M610.5 829.0V852.4M608.0 829.0h5M608.0 852.4h5M612.7 843.9V863.2M610.2 843.9h5M610.2 863.2h5M615.7 843.9V863.2M613.2 843.9h5M613.2 863.2h5M630.0 843.9V863.2M627.5 843.9h5M627.5 863.2h5M612.0 859.5V873.3M609.5 859.5h5M609.5 873.3h5M627.7 859.5V873.3M625.2 859.5h5M625.2 873.3h5M631.5 859.5V873.3M629.0 859.5h5M629.0 873.3h5M615.0 874.2V884.2M612.5 874.2h5M612.5 884.2h5M633.7 874.2V884.2M631.2 874.2h5M631.2 884.2h5M651.0 818.2V844.1M648.5 818.2h5M648.5 844.1h5M656.2 818.2V844.1M653.7 818.2h5M653.7 844.1h5M670.5 818.2V844.1M668.0 818.2h5M668.0 844.1h5M648.0 836.4V857.9M645.5 836.4h5M645.5 857.9h5M655.5 836.4V857.9M653.0 836.4h5M653.0 857.9h5M666.0 836.4V857.9M663.5 836.4h5M663.5 857.9h5M672.0 836.4V857.9M669.5 836.4h5M669.5 857.9h5M652.5 855.5V870.8M650.0 855.5h5M650.0 870.8h5M668.2 855.5V870.8M665.7 855.5h5M665.7 870.8h5M673.5 855.5V870.8M671.0 855.5h5M671.0 870.8h5M693.7 836.4V857.9M691.2 836.4h5M691.2 857.9h5M707.2 836.4V857.9M704.7 836.4h5M704.7 857.9h5M711.0 836.4V857.9M708.5 836.4h5M708.5 857.9h5M685.5 855.5V870.8M683.0 855.5h5M683.0 870.8h5M692.2 855.5V870.8M689.7 855.5h5M689.7 870.8h5M711.0 855.5V870.8M708.5 855.5h5M708.5 870.8h5M690.0 874.2V884.2M687.5 874.2h5M687.5 884.2h5M708.7 874.2V884.2M706.2 874.2h5M706.2 884.2h5M739.0 651.1V697.0M736.5 651.1h5M736.5 697.0h5M736.7 677.6V721.7M734.2 677.6h5M734.2 721.7h5M742.3 731.3V770.6M739.8 731.3h5M739.8 770.6h5M738.2 758.6V794.6M735.7 758.6h5M735.7 794.6h5M742.7 758.6V794.6M740.2 758.6h5M740.2 794.6h5M778.4 717.8V758.5M775.9 717.8h5M775.9 758.5h5M776.2 758.6V794.6M773.7 758.6h5M773.7 794.6h5M775.0 772.4V806.5M772.5 772.4h5M772.5 806.5h5M814.7 731.3V770.6M812.2 731.3h5M812.2 770.6h5M811.7 744.9V782.7M809.2 744.9h5M809.2 782.7h5M812.5 758.6V794.6M810.0 758.6h5M810.0 794.6h5M814.0 772.4V806.5M811.5 772.4h5M811.5 806.5h5M736.0 786.3V818.2M733.5 786.3h5M733.5 818.2h5M748.7 786.3V818.2M746.2 786.3h5M746.2 818.2h5M742.7 800.3V829.8M740.2 800.3h5M740.2 829.8h5M745.7 800.3V829.8M743.2 800.3h5M743.2 829.8h5M733.7 814.6V841.2M731.2 814.6h5M731.2 841.2h5M750.2 814.6V841.2M747.7 814.6h5M747.7 841.2h5M724.7 829.0V852.4M722.2 829.0h5M722.2 852.4h5M729.2 829.0V852.4M726.7 829.0h5M726.7 852.4h5M733.7 829.0V852.4M731.2 829.0h5M731.2 852.4h5M746.5 829.0V852.4M744.0 829.0h5M744.0 852.4h5M723.2 843.9V863.2M720.7 843.9h5M720.7 863.2h5M730.7 843.9V863.2M728.2 843.9h5M728.2 863.2h5M739.7 843.9V863.2M737.2 843.9h5M737.2 863.2h5M744.2 843.9V863.2M741.7 843.9h5M741.7 863.2h5M728.5 859.5V873.3M726.0 859.5h5M726.0 873.3h5M747.2 859.5V873.3M744.7 859.5h5M744.7 873.3h5M778.7 786.3V818.2M776.2 786.3h5M776.2 818.2h5M782.5 786.3V818.2M780.0 786.3h5M780.0 818.2h5M781.7 800.3V829.8M779.2 800.3h5M779.2 829.8h5M772.7 814.6V841.2M770.2 814.6h5M770.2 841.2h5M762.2 829.0V852.4M759.7 829.0h5M759.7 852.4h5M766.7 829.0V852.4M764.2 829.0h5M764.2 852.4h5M771.2 829.0V852.4M768.7 829.0h5M768.7 852.4h5M779.5 829.0V852.4M777.0 829.0h5M777.0 852.4h5M765.2 843.9V863.2M762.7 843.9h5M762.7 863.2h5M774.2 843.9V863.2M771.7 843.9h5M771.7 863.2h5M784.0 843.9V863.2M781.5 843.9h5M781.5 863.2h5M762.7 859.5V873.3M760.2 859.5h5M760.2 873.3h5M764.8 859.5V873.3M762.3 859.5h5M762.3 873.3h5M783.2 859.5V873.3M780.7 859.5h5M780.7 873.3h5M787.0 859.5V873.3M784.5 859.5h5M784.5 873.3h5M767.8 874.2V884.2M765.3 874.2h5M765.3 884.2h5M770.2 874.2V884.2M767.7 874.2h5M767.7 884.2h5M787.0 874.2V884.2M784.5 874.2h5M784.5 884.2h5M808.0 829.0V852.4M805.5 829.0h5M805.5 852.4h5M811.0 829.0V852.4M808.5 829.0h5M808.5 852.4h5M818.5 829.0V852.4M816.0 829.0h5M816.0 852.4h5M799.7 843.9V863.2M797.2 843.9h5M797.2 863.2h5M802.7 843.9V863.2M800.2 843.9h5M800.2 863.2h5M811.0 843.9V863.2M808.5 843.9h5M808.5 863.2h5M820.0 843.9V863.2M817.5 843.9h5M817.5 863.2h5M826.0 843.9V863.2M823.5 843.9h5M823.5 863.2h5M800.8 859.5V873.3M798.3 859.5h5M798.3 873.3h5M803.2 859.5V873.3M800.7 859.5h5M800.7 873.3h5M807.2 859.5V873.3M804.7 859.5h5M804.7 873.3h5M820.7 859.5V873.3M818.2 859.5h5M818.2 873.3h5M823.0 859.5V873.3M820.5 859.5h5M820.5 873.3h5M826.7 859.5V873.3M824.2 859.5h5M824.2 873.3h5M805.0 874.2V884.2M802.5 874.2h5M802.5 884.2h5M821.8 874.2V884.2M819.3 874.2h5M819.3 884.2h5M824.2 874.2V884.2M821.7 874.2h5M821.7 884.2h5M852.2 814.6V841.2M849.7 814.6h5M849.7 841.2h5M839.5 843.9V863.2M837.0 843.9h5M837.0 863.2h5M848.5 843.9V863.2M846.0 843.9h5M846.0 863.2h5M859.7 843.9V863.2M857.2 843.9h5M857.2 863.2h5M841.0 859.5V873.3M838.5 859.5h5M838.5 873.3h5M847.0 859.5V873.3M844.5 859.5h5M844.5 873.3h5M856.0 859.5V873.3M853.5 859.5h5M853.5 873.3h5M862.0 859.5V873.3M859.5 859.5h5M859.5 873.3h5M841.7 874.2V884.2M839.2 874.2h5M839.2 884.2h5M846.2 874.2V884.2M843.7 874.2h5M843.7 884.2h5M854.5 874.2V884.2M852.0 874.2h5M852.0 884.2h5M859.0 874.2V884.2M856.5 874.2h5M856.5 884.2h5M863.5 874.2V884.2M861.0 874.2h5M861.0 884.2h5M865.0 859.5V873.3M862.5 859.5h5M862.5 873.3h5M890.8 814.6V841.2M888.3 814.6h5M888.3 841.2h5M876.2 843.9V863.2M873.7 843.9h5M873.7 863.2h5M879.2 843.9V863.2M876.7 843.9h5M876.7 863.2h5M884.8 843.9V863.2M882.3 843.9h5M882.3 863.2h5M887.5 843.9V863.2M885.0 843.9h5M885.0 863.2h5M898.0 843.9V863.2M895.5 843.9h5M895.5 863.2h5M879.2 859.5V873.3M876.7 859.5h5M876.7 873.3h5M886.0 859.5V873.3M883.5 859.5h5M883.5 873.3h5M895.0 859.5V873.3M892.5 859.5h5M892.5 873.3h5M901.7 859.5V873.3M899.2 859.5h5M899.2 873.3h5M904.7 859.5V873.3M902.2 859.5h5M902.2 873.3h5M880.7 874.2V884.2M878.2 874.2h5M878.2 884.2h5M883.0 874.2V884.2M880.5 874.2h5M880.5 884.2h5M893.5 874.2V884.2M891.0 874.2h5M891.0 884.2h5M898.0 874.2V884.2M895.5 874.2h5M895.5 884.2h5M901.7 874.2V884.2M899.2 874.2h5M899.2 884.2h5M839.4 843.9V863.2M836.9 843.9h5M836.9 863.2h5M848.3 843.9V863.2M845.8 843.9h5M845.8 863.2h5M847.9 859.5V873.3M845.4 859.5h5M845.4 873.3h5M855.5 859.5V873.3M853.0 859.5h5M853.0 873.3h5M863.2 859.5V873.3M860.7 859.5h5M860.7 873.3h5M884.4 859.5V873.3M881.9 859.5h5M881.9 873.3h5M894.6 859.5V873.3M892.1 859.5h5M892.1 873.3h5M903.1 859.5V873.3M900.6 859.5h5M900.6 873.3h5M860.6 874.2V884.2M858.1 874.2h5M858.1 884.2h5M863.2 874.2V884.2M860.7 874.2h5M860.7 884.2h5M900.6 874.2V884.2M898.1 874.2h5M898.1 884.2h5M901.9 874.2V884.2M899.4 874.2h5M899.4 884.2h5M242.0 749.9V787.1M239.5 749.9h5M239.5 787.1h5M245.0 760.3V796.2M242.5 760.3h5M242.5 796.2h5M243.9 770.5V804.9M241.4 770.5h5M241.4 804.9h5" stroke="#c4c4c4" stroke-opacity="0.42" stroke-width="1" fill="none"/>
<g fill="#0000ff" fill-opacity="0.5">
<circle cx="194.7" cy="853.6" r="4.4"/>
<circle cx="200.7" cy="853.6" r="4.4"/>
<circle cx="203.7" cy="853.6" r="4.4"/>
<circle cx="207.5" cy="853.6" r="4.4"/>
<circle cx="215.7" cy="853.6" r="4.4"/>
<circle cx="207.5" cy="840.7" r="4.4"/>
<circle cx="211.2" cy="840.7" r="4.4"/>
<circle cx="197.0" cy="866.4" r="4.4"/>
<circle cx="206.0" cy="866.4" r="4.4"/>
<circle cx="210.5" cy="866.4" r="4.4"/>
<circle cx="215.0" cy="866.4" r="4.4"/>
<circle cx="192.5" cy="879.2" r="4.4"/>
<circle cx="197.0" cy="879.2" r="4.4"/>
<circle cx="200.7" cy="879.2" r="4.4"/>
<circle cx="205.2" cy="879.2" r="4.4"/>
<circle cx="209.0" cy="879.2" r="4.4"/>
<circle cx="212.7" cy="879.2" r="4.4"/>
<circle cx="216.5" cy="879.2" r="4.4"/>
<circle cx="220.2" cy="879.2" r="4.4"/>
<circle cx="243.5" cy="831.1" r="4.4"/>
<circle cx="248.7" cy="831.1" r="4.4"/>
<circle cx="238.2" cy="840.7" r="4.4"/>
<circle cx="248.0" cy="840.7" r="4.4"/>
<circle cx="232.2" cy="853.6" r="4.4"/>
<circle cx="239.7" cy="853.6" r="4.4"/>
<circle cx="251.0" cy="853.6" r="4.4"/>
<circle cx="254.0" cy="853.6" r="4.4"/>
<circle cx="236.7" cy="860.7" r="4.4"/>
<circle cx="245.0" cy="860.7" r="4.4"/>
<circle cx="256.2" cy="860.7" r="4.4"/>
<circle cx="259.2" cy="860.7" r="4.4"/>
<circle cx="233.0" cy="869.3" r="4.4"/>
<circle cx="236.0" cy="869.3" r="4.4"/>
<circle cx="248.7" cy="869.3" r="4.4"/>
<circle cx="251.0" cy="869.3" r="4.4"/>
<circle cx="257.0" cy="869.3" r="4.4"/>
<circle cx="257.0" cy="879.2" r="4.4"/>
<circle cx="284.7" cy="786.5" r="4.4"/>
<circle cx="283.2" cy="807.5" r="4.4"/>
<circle cx="288.5" cy="807.5" r="4.4"/>
<circle cx="281.7" cy="821.7" r="4.4"/>
<circle cx="279.5" cy="850.2" r="4.4"/>
<circle cx="286.2" cy="850.2" r="4.4"/>
<circle cx="290.0" cy="850.2" r="4.4"/>
<circle cx="281.7" cy="857.7" r="4.4"/>
<circle cx="296.0" cy="857.7" r="4.4"/>
<circle cx="294.5" cy="863.2" r="4.4"/>
<circle cx="269.7" cy="863.2" r="4.4"/>
<circle cx="273.5" cy="863.2" r="4.4"/>
<circle cx="277.2" cy="863.2" r="4.4"/>
<circle cx="270.5" cy="872.0" r="4.4"/>
<circle cx="275.0" cy="872.0" r="4.4"/>
<circle cx="277.2" cy="879.2" r="4.4"/>
<circle cx="290.0" cy="872.0" r="4.4"/>
<circle cx="291.5" cy="879.2" r="4.4"/>
<circle cx="295.2" cy="879.2" r="4.4"/>
<circle cx="297.5" cy="879.2" r="4.4"/>
<circle cx="322.0" cy="789.4" r="4.4"/>
<circle cx="325.7" cy="789.4" r="4.4"/>
<circle cx="321.2" cy="802.3" r="4.4"/>
<circle cx="323.5" cy="815.1" r="4.4"/>
<circle cx="319.0" cy="827.9" r="4.4"/>
<circle cx="322.7" cy="827.9" r="4.4"/>
<circle cx="327.7" cy="840.7" r="4.4"/>
<circle cx="309.2" cy="853.6" r="4.4"/>
<circle cx="313.0" cy="866.4" r="4.4"/>
<circle cx="317.5" cy="866.4" r="4.4"/>
<circle cx="325.7" cy="866.4" r="4.4"/>
<circle cx="331.0" cy="866.4" r="4.4"/>
<circle cx="334.7" cy="866.4" r="4.4"/>
<circle cx="310.0" cy="879.2" r="4.4"/>
<circle cx="313.7" cy="879.2" r="4.4"/>
<circle cx="317.5" cy="879.2" r="4.4"/>
<circle cx="324.2" cy="879.2" r="4.4"/>
<circle cx="328.7" cy="879.2" r="4.4"/>
<circle cx="332.5" cy="879.2" r="4.4"/>
<circle cx="360.7" cy="763.8" r="4.4"/>
<circle cx="364.0" cy="789.4" r="4.4"/>
<circle cx="355.7" cy="815.1" r="4.4"/>
<circle cx="363.2" cy="815.1" r="4.4"/>
<circle cx="357.7" cy="827.9" r="4.4"/>
<circle cx="355.0" cy="840.7" r="4.4"/>
<circle cx="352.7" cy="853.6" r="4.4"/>
<circle cx="365.5" cy="853.6" r="4.4"/>
<circle cx="373.0" cy="853.6" r="4.4"/>
<circle cx="348.2" cy="866.4" r="4.4"/>
<circle cx="352.0" cy="866.4" r="4.4"/>
<circle cx="364.7" cy="866.4" r="4.4"/>
<circle cx="370.7" cy="866.4" r="4.4"/>
<circle cx="373.0" cy="866.4" r="4.4"/>
<circle cx="348.2" cy="879.2" r="4.4"/>
<circle cx="352.7" cy="879.2" r="4.4"/>
<circle cx="355.7" cy="879.2" r="4.4"/>
<circle cx="367.7" cy="879.2" r="4.4"/>
<circle cx="371.5" cy="879.2" r="4.4"/>
<circle cx="397.0" cy="751.0" r="4.4"/>
<circle cx="400.0" cy="763.8" r="4.4"/>
<circle cx="396.2" cy="776.6" r="4.4"/>
<circle cx="401.5" cy="789.4" r="4.4"/>
<circle cx="394.7" cy="802.3" r="4.4"/>
<circle cx="392.5" cy="815.1" r="4.4"/>
<circle cx="382.0" cy="827.9" r="4.4"/>
<circle cx="403.0" cy="827.9" r="4.4"/>
<circle cx="390.2" cy="840.7" r="4.4"/>
<circle cx="403.0" cy="853.6" r="4.4"/>
<circle cx="383.5" cy="866.4" r="4.4"/>
<circle cx="391.0" cy="866.4" r="4.4"/>
<circle cx="406.7" cy="866.4" r="4.4"/>
<circle cx="386.5" cy="879.2" r="4.4"/>
<circle cx="389.5" cy="879.2" r="4.4"/>
<circle cx="431.5" cy="751.0" r="4.4"/>
<circle cx="439.0" cy="751.0" r="4.4"/>
<circle cx="433.7" cy="776.6" r="4.4"/>
<circle cx="437.5" cy="789.4" r="4.4"/>
<circle cx="439.7" cy="802.3" r="4.4"/>
<circle cx="430.0" cy="815.1" r="4.4"/>
<circle cx="430.7" cy="827.9" r="4.4"/>
<circle cx="440.5" cy="827.9" r="4.4"/>
<circle cx="421.7" cy="840.7" r="4.4"/>
<circle cx="427.7" cy="840.7" r="4.4"/>
<circle cx="427.7" cy="853.6" r="4.4"/>
<circle cx="441.2" cy="853.6" r="4.4"/>
<circle cx="424.0" cy="866.4" r="4.4"/>
<circle cx="425.5" cy="879.2" r="4.4"/>
<circle cx="442.7" cy="879.2" r="4.4"/>
<circle cx="420.2" cy="789.4" r="4.4"/>
<circle cx="361.5" cy="725.3" r="4.4"/>
<circle cx="359.2" cy="738.1" r="4.4"/>
<circle cx="393.7" cy="699.7" r="4.4"/>
<circle cx="398.2" cy="738.1" r="4.4"/>
<circle cx="435.4" cy="635.5" r="4.4"/>
<circle cx="436.5" cy="648.4" r="4.4"/>
<circle cx="434.2" cy="725.3" r="4.4"/>
<circle cx="472.5" cy="622.7" r="4.4"/>
<circle cx="468.7" cy="654.8" r="4.4"/>
<circle cx="474.0" cy="686.8" r="4.4"/>
<circle cx="470.0" cy="783.0" r="4.4"/>
<circle cx="468.5" cy="799.0" r="4.4"/>
<circle cx="467.0" cy="815.1" r="4.4"/>
<circle cx="476.0" cy="815.1" r="4.4"/>
<circle cx="463.2" cy="831.1" r="4.4"/>
<circle cx="478.2" cy="831.1" r="4.4"/>
<circle cx="503.7" cy="699.7" r="4.4"/>
<circle cx="506.7" cy="699.7" r="4.4"/>
<circle cx="512.7" cy="699.7" r="4.4"/>
<circle cx="513.5" cy="712.5" r="4.4"/>
<circle cx="506.0" cy="751.0" r="4.4"/>
<circle cx="495.5" cy="802.3" r="4.4"/>
<circle cx="495.5" cy="815.1" r="4.4"/>
<circle cx="514.2" cy="802.3" r="4.4"/>
<circle cx="503.0" cy="827.9" r="4.4"/>
<circle cx="517.2" cy="827.9" r="4.4"/>
<circle cx="497.0" cy="840.7" r="4.4"/>
<circle cx="504.5" cy="840.7" r="4.4"/>
<circle cx="544.2" cy="699.7" r="4.4"/>
<circle cx="551.0" cy="699.7" r="4.4"/>
<circle cx="531.5" cy="738.1" r="4.4"/>
<circle cx="532.7" cy="751.0" r="4.4"/>
<circle cx="549.5" cy="738.1" r="4.4"/>
<circle cx="551.7" cy="763.8" r="4.4"/>
<circle cx="543.5" cy="776.6" r="4.4"/>
<circle cx="542.0" cy="789.4" r="4.4"/>
<circle cx="552.5" cy="815.1" r="4.4"/>
<circle cx="532.7" cy="827.9" r="4.4"/>
<circle cx="536.0" cy="827.9" r="4.4"/>
<circle cx="539.7" cy="827.9" r="4.4"/>
<circle cx="539.0" cy="840.7" r="4.4"/>
<circle cx="555.5" cy="840.7" r="4.4"/>
<circle cx="587.0" cy="712.5" r="4.4"/>
<circle cx="587.7" cy="763.8" r="4.4"/>
<circle cx="569.7" cy="789.4" r="4.4"/>
<circle cx="580.2" cy="789.4" r="4.4"/>
<circle cx="587.7" cy="789.4" r="4.4"/>
<circle cx="571.2" cy="827.9" r="4.4"/>
<circle cx="578.7" cy="827.9" r="4.4"/>
<circle cx="572.0" cy="840.7" r="4.4"/>
<circle cx="577.2" cy="840.7" r="4.4"/>
<circle cx="461.0" cy="847.1" r="4.4"/>
<circle cx="465.5" cy="847.1" r="4.4"/>
<circle cx="479.7" cy="847.1" r="4.4"/>
<circle cx="484.2" cy="847.1" r="4.4"/>
<circle cx="460.2" cy="863.2" r="4.4"/>
<circle cx="477.5" cy="863.2" r="4.4"/>
<circle cx="483.5" cy="863.2" r="4.4"/>
<circle cx="458.0" cy="879.2" r="4.4"/>
<circle cx="462.5" cy="879.2" r="4.4"/>
<circle cx="464.7" cy="879.2" r="4.4"/>
<circle cx="481.2" cy="879.2" r="4.4"/>
<circle cx="502.2" cy="853.6" r="4.4"/>
<circle cx="518.7" cy="866.4" r="4.4"/>
<circle cx="498.2" cy="879.2" r="4.4"/>
<circle cx="500.3" cy="879.2" r="4.4"/>
<circle cx="516.5" cy="879.2" r="4.4"/>
<circle cx="536.0" cy="853.6" r="4.4"/>
<circle cx="542.0" cy="853.6" r="4.4"/>
<circle cx="555.5" cy="866.4" r="4.4"/>
<circle cx="536.3" cy="879.2" r="4.4"/>
<circle cx="538.7" cy="879.2" r="4.4"/>
<circle cx="557.7" cy="879.2" r="4.4"/>
<circle cx="589.2" cy="840.7" r="4.4"/>
<circle cx="573.5" cy="853.6" r="4.4"/>
<circle cx="589.2" cy="853.6" r="4.4"/>
<circle cx="575.7" cy="866.4" r="4.4"/>
<circle cx="572.0" cy="879.2" r="4.4"/>
<circle cx="471.8" cy="542.6" r="4.4"/>
<circle cx="493.2" cy="661.2" r="4.4"/>
<circle cx="509.3" cy="584.2" r="4.4"/>
<circle cx="511.7" cy="622.7" r="4.4"/>
<circle cx="508.2" cy="648.4" r="4.4"/>
<circle cx="510.2" cy="661.2" r="4.4"/>
<circle cx="548.7" cy="597.1" r="4.4"/>
<circle cx="547.7" cy="622.7" r="4.4"/>
<circle cx="545.0" cy="648.4" r="4.4"/>
<circle cx="585.0" cy="558.6" r="4.4"/>
<circle cx="585.8" cy="609.9" r="4.4"/>
<circle cx="587.0" cy="622.7" r="4.4"/>
<circle cx="582.5" cy="648.4" r="4.4"/>
<circle cx="581.7" cy="661.2" r="4.4"/>
<circle cx="546.2" cy="686.8" r="4.4"/>
<circle cx="583.1" cy="686.8" r="4.4"/>
<circle cx="621.4" cy="558.6" r="4.4"/>
<circle cx="624.7" cy="661.2" r="4.4"/>
<circle cx="621.0" cy="674.0" r="4.4"/>
<circle cx="623.7" cy="674.0" r="4.4"/>
<circle cx="658.8" cy="542.6" r="4.4"/>
<circle cx="659.5" cy="574.6" r="4.4"/>
<circle cx="660.7" cy="638.8" r="4.4"/>
<circle cx="662.2" cy="670.8" r="4.4"/>
<circle cx="701.5" cy="654.8" r="4.4"/>
<circle cx="625.5" cy="686.8" r="4.4"/>
<circle cx="626.7" cy="712.5" r="4.4"/>
<circle cx="620.2" cy="725.3" r="4.4"/>
<circle cx="618.3" cy="751.0" r="4.4"/>
<circle cx="619.5" cy="789.4" r="4.4"/>
<circle cx="608.2" cy="789.4" r="4.4"/>
<circle cx="617.2" cy="802.3" r="4.4"/>
<circle cx="594.0" cy="815.1" r="4.4"/>
<circle cx="627.0" cy="815.1" r="4.4"/>
<circle cx="663.0" cy="718.9" r="4.4"/>
<circle cx="656.2" cy="767.0" r="4.4"/>
<circle cx="664.5" cy="767.0" r="4.4"/>
<circle cx="657.7" cy="783.0" r="4.4"/>
<circle cx="646.5" cy="815.1" r="4.4"/>
<circle cx="653.2" cy="815.1" r="4.4"/>
<circle cx="663.7" cy="815.1" r="4.4"/>
<circle cx="685.5" cy="751.0" r="4.4"/>
<circle cx="696.7" cy="686.8" r="4.4"/>
<circle cx="697.2" cy="702.9" r="4.4"/>
<circle cx="699.3" cy="702.9" r="4.4"/>
<circle cx="702.7" cy="718.9" r="4.4"/>
<circle cx="700.5" cy="734.9" r="4.4"/>
<circle cx="695.2" cy="767.0" r="4.4"/>
<circle cx="703.5" cy="767.0" r="4.4"/>
<circle cx="696.3" cy="783.0" r="4.4"/>
<circle cx="704.7" cy="799.0" r="4.4"/>
<circle cx="687.7" cy="815.1" r="4.4"/>
<circle cx="726.0" cy="815.1" r="4.4"/>
<circle cx="729.0" cy="789.4" r="4.4"/>
<circle cx="592.2" cy="840.7" r="4.4"/>
<circle cx="591.0" cy="853.6" r="4.4"/>
<circle cx="595.2" cy="866.4" r="4.4"/>
<circle cx="609.7" cy="827.9" r="4.4"/>
<circle cx="610.5" cy="840.7" r="4.4"/>
<circle cx="612.7" cy="853.6" r="4.4"/>
<circle cx="615.7" cy="853.6" r="4.4"/>
<circle cx="630.0" cy="853.6" r="4.4"/>
<circle cx="612.0" cy="866.4" r="4.4"/>
<circle cx="627.7" cy="866.4" r="4.4"/>
<circle cx="631.5" cy="866.4" r="4.4"/>
<circle cx="615.0" cy="879.2" r="4.4"/>
<circle cx="633.7" cy="879.2" r="4.4"/>
<circle cx="651.0" cy="831.1" r="4.4"/>
<circle cx="656.2" cy="831.1" r="4.4"/>
<circle cx="670.5" cy="831.1" r="4.4"/>
<circle cx="648.0" cy="847.1" r="4.4"/>
<circle cx="655.5" cy="847.1" r="4.4"/>
<circle cx="666.0" cy="847.1" r="4.4"/>
<circle cx="672.0" cy="847.1" r="4.4"/>
<circle cx="652.5" cy="863.2" r="4.4"/>
<circle cx="668.2" cy="863.2" r="4.4"/>
<circle cx="673.5" cy="863.2" r="4.4"/>
<circle cx="693.7" cy="847.1" r="4.4"/>
<circle cx="707.2" cy="847.1" r="4.4"/>
<circle cx="711.0" cy="847.1" r="4.4"/>
<circle cx="685.5" cy="863.2" r="4.4"/>
<circle cx="692.2" cy="863.2" r="4.4"/>
<circle cx="711.0" cy="863.2" r="4.4"/>
<circle cx="690.0" cy="879.2" r="4.4"/>
<circle cx="708.7" cy="879.2" r="4.4"/>
<circle cx="739.0" cy="674.0" r="4.4"/>
<circle cx="736.7" cy="699.7" r="4.4"/>
<circle cx="742.3" cy="751.0" r="4.4"/>
<circle cx="738.2" cy="776.6" r="4.4"/>
<circle cx="742.7" cy="776.6" r="4.4"/>
<circle cx="778.4" cy="738.1" r="4.4"/>
<circle cx="776.2" cy="776.6" r="4.4"/>
<circle cx="775.0" cy="789.4" r="4.4"/>
<circle cx="814.7" cy="751.0" r="4.4"/>
<circle cx="811.7" cy="763.8" r="4.4"/>
<circle cx="812.5" cy="776.6" r="4.4"/>
<circle cx="814.0" cy="789.4" r="4.4"/>
<circle cx="736.0" cy="802.3" r="4.4"/>
<circle cx="748.7" cy="802.3" r="4.4"/>
<circle cx="742.7" cy="815.1" r="4.4"/>
<circle cx="745.7" cy="815.1" r="4.4"/>
<circle cx="733.7" cy="827.9" r="4.4"/>
<circle cx="750.2" cy="827.9" r="4.4"/>
<circle cx="724.7" cy="840.7" r="4.4"/>
<circle cx="729.2" cy="840.7" r="4.4"/>
<circle cx="733.7" cy="840.7" r="4.4"/>
<circle cx="746.5" cy="840.7" r="4.4"/>
<circle cx="723.2" cy="853.6" r="4.4"/>
<circle cx="730.7" cy="853.6" r="4.4"/>
<circle cx="739.7" cy="853.6" r="4.4"/>
<circle cx="744.2" cy="853.6" r="4.4"/>
<circle cx="728.5" cy="866.4" r="4.4"/>
<circle cx="747.2" cy="866.4" r="4.4"/>
<circle cx="778.7" cy="802.3" r="4.4"/>
<circle cx="782.5" cy="802.3" r="4.4"/>
<circle cx="781.7" cy="815.1" r="4.4"/>
<circle cx="772.7" cy="827.9" r="4.4"/>
<circle cx="762.2" cy="840.7" r="4.4"/>
<circle cx="766.7" cy="840.7" r="4.4"/>
<circle cx="771.2" cy="840.7" r="4.4"/>
<circle cx="779.5" cy="840.7" r="4.4"/>
<circle cx="765.2" cy="853.6" r="4.4"/>
<circle cx="774.2" cy="853.6" r="4.4"/>
<circle cx="784.0" cy="853.6" r="4.4"/>
<circle cx="762.7" cy="866.4" r="4.4"/>
<circle cx="764.8" cy="866.4" r="4.4"/>
<circle cx="783.2" cy="866.4" r="4.4"/>
<circle cx="787.0" cy="866.4" r="4.4"/>
<circle cx="767.8" cy="879.2" r="4.4"/>
<circle cx="770.2" cy="879.2" r="4.4"/>
<circle cx="787.0" cy="879.2" r="4.4"/>
<circle cx="808.0" cy="840.7" r="4.4"/>
<circle cx="811.0" cy="840.7" r="4.4"/>
<circle cx="818.5" cy="840.7" r="4.4"/>
<circle cx="799.7" cy="853.6" r="4.4"/>
<circle cx="802.7" cy="853.6" r="4.4"/>
<circle cx="811.0" cy="853.6" r="4.4"/>
<circle cx="820.0" cy="853.6" r="4.4"/>
<circle cx="826.0" cy="853.6" r="4.4"/>
<circle cx="800.8" cy="866.4" r="4.4"/>
<circle cx="803.2" cy="866.4" r="4.4"/>
<circle cx="807.2" cy="866.4" r="4.4"/>
<circle cx="820.7" cy="866.4" r="4.4"/>
<circle cx="823.0" cy="866.4" r="4.4"/>
<circle cx="826.7" cy="866.4" r="4.4"/>
<circle cx="805.0" cy="879.2" r="4.4"/>
<circle cx="821.8" cy="879.2" r="4.4"/>
<circle cx="824.2" cy="879.2" r="4.4"/>
<circle cx="852.2" cy="827.9" r="4.4"/>
<circle cx="839.5" cy="853.6" r="4.4"/>
<circle cx="848.5" cy="853.6" r="4.4"/>
<circle cx="859.7" cy="853.6" r="4.4"/>
<circle cx="841.0" cy="866.4" r="4.4"/>
<circle cx="847.0" cy="866.4" r="4.4"/>
<circle cx="856.0" cy="866.4" r="4.4"/>
<circle cx="862.0" cy="866.4" r="4.4"/>
<circle cx="841.7" cy="879.2" r="4.4"/>
<circle cx="846.2" cy="879.2" r="4.4"/>
<circle cx="854.5" cy="879.2" r="4.4"/>
<circle cx="859.0" cy="879.2" r="4.4"/>
<circle cx="863.5" cy="879.2" r="4.4"/>
<circle cx="865.0" cy="866.4" r="4.4"/>
<circle cx="890.8" cy="827.9" r="4.4"/>
<circle cx="876.2" cy="853.6" r="4.4"/>
<circle cx="879.2" cy="853.6" r="4.4"/>
<circle cx="884.8" cy="853.6" r="4.4"/>
<circle cx="887.5" cy="853.6" r="4.4"/>
<circle cx="898.0" cy="853.6" r="4.4"/>
<circle cx="879.2" cy="866.4" r="4.4"/>
<circle cx="886.0" cy="866.4" r="4.4"/>
<circle cx="895.0" cy="866.4" r="4.4"/>
<circle cx="901.7" cy="866.4" r="4.4"/>
<circle cx="904.7" cy="866.4" r="4.4"/>
<circle cx="880.7" cy="879.2" r="4.4"/>
<circle cx="883.0" cy="879.2" r="4.4"/>
<circle cx="893.5" cy="879.2" r="4.4"/>
<circle cx="898.0" cy="879.2" r="4.4"/>
<circle cx="901.7" cy="879.2" r="4.4"/>
<circle cx="839.4" cy="853.6" r="4.4"/>
<circle cx="848.3" cy="853.6" r="4.4"/>
<circle cx="847.9" cy="866.4" r="4.4"/>
<circle cx="855.5" cy="866.4" r="4.4"/>
<circle cx="863.2" cy="866.4" r="4.4"/>
<circle cx="884.4" cy="866.4" r="4.4"/>
<circle cx="894.6" cy="866.4" r="4.4"/>
<circle cx="903.1" cy="866.4" r="4.4"/>
<circle cx="860.6" cy="879.2" r="4.4"/>
<circle cx="863.2" cy="879.2" r="4.4"/>
<circle cx="900.6" cy="879.2" r="4.4"/>
<circle cx="901.9" cy="879.2" r="4.4"/>
<circle cx="242.0" cy="768.5" r="4.4"/>
<circle cx="245.0" cy="778.2" r="4.4"/>
<circle cx="243.9" cy="787.7" r="4.4"/>
</g>
<polyline points="188.75,885.20 189.05,885.09 189.34,884.98 189.64,884.86 189.94,884.74 190.23,884.61 190.53,884.48 190.82,884.35 191.12,884.20 191.42,884.06 191.71,883.90 192.01,883.74 192.31,883.58 192.60,883.41 192.90,883.22 193.19,883.04 193.49,882.84 193.79,882.63 194.08,882.42 194.38,882.19 194.68,881.96 194.97,881.71 195.27,881.45 195.56,881.18 195.86,880.89 196.16,880.59 196.45,880.28 196.75,879.95 197.05,879.60 197.34,879.23 197.64,878.85 197.93,878.44 198.23,878.01 198.53,877.55 198.82,877.08 199.12,876.57 199.41,876.04 199.71,875.47 200.01,874.88 200.30,874.25 200.60,873.59 200.90,872.88 201.19,872.15 201.49,871.37 201.78,870.55 202.08,869.68 202.38,868.78 202.67,867.83 202.97,866.83 203.27,865.79 203.56,864.72 203.86,863.60 204.16,862.45 204.45,861.27 204.75,860.07 205.04,858.86 205.34,857.65 205.64,856.44 205.93,855.27 206.23,854.13 206.53,853.06 206.82,852.07 207.12,851.17 207.41,850.39 207.71,849.75 208.01,849.25 208.30,848.92 208.60,848.76 208.70,848.75 208.90,848.78 209.19,848.97 209.49,849.33 209.78,849.84 210.08,850.50 210.38,851.30 210.67,852.20 210.97,853.20 211.27,854.27 211.56,855.39 211.86,856.55 212.15,857.73 212.45,858.92 212.75,860.11 213.04,861.27 213.34,862.42 213.63,863.53 213.93,864.61 214.23,865.65 214.52,866.65 214.82,867.60 215.12,868.51 215.41,869.38 215.71,870.20 216.00,870.99 216.30,871.73 216.60,872.43 216.89,873.09 217.19,873.72 217.49,874.31 217.78,874.87 218.08,875.40 218.38,875.90 218.67,876.37 218.97,876.81 219.26,877.23 219.56,877.63 219.86,878.01 220.15,878.36 220.45,878.70 220.75,879.02 221.04,879.32 221.34,879.60 221.63,879.87 221.93,880.12 222.23,880.37 222.52,880.60 222.82,880.81 223.12,881.02 223.41,881.22 223.71,881.40 224.00,881.58 224.30,881.75" fill="none" stroke="#ff0000" stroke-width="2.6" stroke-linejoin="round"/>
<polyline points="227.45,874.00 227.74,873.96 228.04,873.92 228.33,873.88 228.62,873.84 228.92,873.79 229.21,873.74 229.51,873.69 229.80,873.63 230.09,873.57 230.39,873.51 230.68,873.44 230.97,873.37 231.27,873.30 231.56,873.22 231.86,873.13 232.15,873.04 232.44,872.94 232.74,872.83 233.03,872.72 233.32,872.59 233.62,872.46 233.91,872.31 234.21,872.15 234.50,871.98 234.79,871.79 235.09,871.59 235.38,871.36 235.67,871.11 235.97,870.83 236.26,870.53 236.56,870.19 236.85,869.82 237.14,869.40 237.44,868.92 237.73,868.39 238.02,867.80 238.32,867.12 238.61,866.35 238.91,865.47 239.20,864.46 239.49,863.31 239.79,861.98 240.08,860.45 240.38,858.68 240.67,856.66 240.96,854.35 241.26,851.73 241.55,848.82 241.84,845.65 242.14,842.35 242.43,839.09 242.72,836.14 243.02,833.84 243.31,832.50 243.50,832.25 243.61,832.33 243.90,833.36 244.19,835.42 244.49,838.21 244.78,841.41 245.07,844.72 245.37,847.93 245.66,850.92 245.96,853.61 246.25,856.01 246.54,858.10 246.84,859.93 247.13,861.52 247.42,862.89 247.72,864.09 248.01,865.13 248.31,866.04 248.60,866.83 248.89,867.53 249.19,868.14 249.48,868.69 249.77,869.17 250.07,869.60 250.36,869.98 250.66,870.32 250.95,870.63 251.24,870.91 251.54,871.16 251.83,871.39 252.12,871.60 252.42,871.79 252.71,871.96 253.01,872.11 253.30,872.26 253.59,872.39 253.89,872.51 254.18,872.63 254.47,872.73 254.77,872.83 255.06,872.92 255.36,873.00 255.65,873.08 255.94,873.15 256.24,873.22 256.53,873.28 256.82,873.34 257.12,873.39 257.41,873.45 257.71,873.49 258.00,873.54 258.29,873.58 258.59,873.62 258.88,873.66 259.18,873.70 259.47,873.73 259.76,873.76 260.06,873.79 260.35,873.82 260.64,873.85 260.94,873.87 261.23,873.90 261.52,873.92 261.82,873.94 262.11,873.96 262.41,873.98 262.70,874.00" fill="none" stroke="#ff0000" stroke-width="2.6" stroke-linejoin="round"/>
<polyline points="266.00,875.75 266.29,875.71 266.59,875.68 266.88,875.64 267.18,875.59 267.47,875.55 267.76,875.50 268.06,875.45 268.35,875.40 268.64,875.35 268.94,875.29 269.23,875.23 269.52,875.16 269.82,875.09 270.11,875.02 270.41,874.94 270.70,874.86 270.99,874.77 271.29,874.68 271.58,874.58 271.88,874.47 272.17,874.36 272.46,874.23 272.76,874.10 273.05,873.96 273.34,873.81 273.64,873.64 273.93,873.47 274.23,873.27 274.52,873.07 274.81,872.84 275.11,872.59 275.40,872.33 275.69,872.03 275.99,871.71 276.28,871.36 276.57,870.97 276.87,870.54 277.16,870.07 277.46,869.54 277.75,868.96 278.04,868.30 278.34,867.57 278.63,866.74 278.93,865.81 279.22,864.75 279.51,863.56 279.81,862.19 280.10,860.62 280.39,858.83 280.69,856.77 280.98,854.39 281.27,851.65 281.57,848.50 281.86,844.89 282.16,840.79 282.45,836.20 282.74,831.16 283.04,825.82 283.33,820.43 283.62,815.39 283.92,811.22 284.21,808.45 284.50,807.50 284.51,807.50 284.80,808.53 285.09,811.38 285.39,815.60 285.68,820.67 285.98,826.07 286.27,831.41 286.56,836.43 286.86,841.01 287.15,845.09 287.44,848.69 287.74,851.82 288.03,854.55 288.32,856.92 288.62,858.97 288.91,860.76 289.21,862.32 289.50,863.68 289.79,864.88 290.09,865.93 290.38,866.86 290.68,867.69 290.97,868.42 291.26,869.08 291.56,869.67 291.85,870.20 292.14,870.67 292.44,871.10 292.73,871.50 293.02,871.85 293.32,872.18 293.61,872.47 293.91,872.74 294.20,872.99 294.49,873.22 294.79,873.43 295.08,873.63 295.38,873.81 295.67,873.98 295.96,874.13 296.26,874.28 296.55,874.42 296.84,874.54 297.14,874.66 297.43,874.77 297.73,874.88 298.02,874.97 298.31,875.07 298.61,875.15 298.90,875.23 299.19,875.31 299.49,875.38 299.78,875.45 300.07,875.52 300.37,875.58 300.66,875.64 300.96,875.70 301.25,875.75" fill="none" stroke="#ff0000" stroke-width="2.6" stroke-linejoin="round"/>
<polyline points="304.30,878.75 304.60,878.68 304.90,878.60 305.19,878.52 305.49,878.44 305.79,878.35 306.09,878.25 306.38,878.15 306.68,878.04 306.98,877.93 307.28,877.81 307.57,877.68 307.87,877.54 308.17,877.39 308.47,877.23 308.76,877.07 309.06,876.89 309.36,876.69 309.66,876.49 309.95,876.27 310.25,876.03 310.55,875.77 310.85,875.49 311.14,875.19 311.44,874.86 311.74,874.51 312.04,874.13 312.33,873.71 312.63,873.25 312.93,872.75 313.23,872.20 313.52,871.60 313.82,870.94 314.12,870.20 314.42,869.39 314.71,868.49 315.01,867.49 315.31,866.37 315.61,865.11 315.90,863.70 316.20,862.10 316.50,860.30 316.80,858.26 317.09,855.93 317.39,853.28 317.69,850.25 317.99,846.78 318.28,842.81 318.58,838.28 318.88,833.11 319.18,827.28 319.47,820.77 319.77,813.64 320.07,806.04 320.37,798.28 320.66,790.81 320.96,784.28 321.26,779.39 321.56,776.77 321.70,776.45 321.85,776.81 322.15,779.51 322.45,784.46 322.75,791.04 323.04,798.53 323.34,806.32 323.64,813.92 323.94,821.05 324.23,827.56 324.53,833.39 324.83,838.54 325.12,843.08 325.42,847.05 325.72,850.52 326.02,853.55 326.31,856.21 326.61,858.54 326.91,860.59 327.21,862.40 327.50,864.01 327.80,865.43 328.10,866.69 328.40,867.83 328.69,868.84 328.99,869.75 329.29,870.58 329.59,871.32 329.88,872.00 330.18,872.61 330.48,873.17 330.78,873.69 331.07,874.16 331.37,874.59 331.67,874.98 331.97,875.35 332.26,875.69 332.56,876.00 332.86,876.30 333.16,876.57 333.45,876.82 333.75,877.06 334.05,877.28 334.35,877.48 334.64,877.68 334.94,877.86 335.24,878.03 335.54,878.19 335.83,878.34 336.13,878.48 336.43,878.62 336.73,878.75 337.02,878.87 337.32,878.98 337.62,879.09 337.92,879.20 338.21,879.30 338.51,879.39 338.81,879.48 339.11,879.56 339.40,879.65 339.70,879.73 340.00,879.80" fill="none" stroke="#ff0000" stroke-width="2.6" stroke-linejoin="round"/>
<polyline points="342.70,876.80 343.00,876.70 343.29,876.60 343.59,876.50 343.88,876.38 344.18,876.27 344.48,876.14 344.77,876.01 345.07,875.87 345.37,875.72 345.66,875.57 345.96,875.40 346.25,875.23 346.55,875.05 346.85,874.85 347.14,874.64 347.44,874.42 347.74,874.18 348.03,873.92 348.33,873.65 348.62,873.36 348.92,873.05 349.22,872.71 349.51,872.35 349.81,871.95 350.11,871.53 350.40,871.07 350.70,870.58 351.00,870.04 351.29,869.45 351.59,868.81 351.88,868.11 352.18,867.34 352.48,866.49 352.77,865.56 353.07,864.53 353.37,863.38 353.66,862.11 353.96,860.69 354.25,859.10 354.55,857.32 354.85,855.31 355.14,853.03 355.44,850.46 355.74,847.53 356.03,844.19 356.33,840.37 356.62,836.00 356.92,830.98 357.22,825.23 357.51,818.65 357.81,811.17 358.11,802.75 358.40,793.40 358.70,783.25 358.99,772.63 359.29,762.07 359.59,752.35 359.88,744.44 360.18,739.34 360.45,737.75 360.48,737.76 360.77,739.97 361.07,745.60 361.36,753.89 361.66,763.81 361.96,774.44 362.25,785.01 362.55,795.03 362.84,804.24 363.14,812.50 363.44,819.82 363.73,826.25 364.03,831.87 364.33,836.77 364.62,841.05 364.92,844.78 365.21,848.05 365.51,850.91 365.81,853.43 366.10,855.66 366.40,857.63 366.70,859.37 366.99,860.93 367.29,862.33 367.58,863.58 367.88,864.70 368.18,865.71 368.47,866.63 368.77,867.47 369.07,868.22 369.36,868.91 369.66,869.55 369.95,870.12 370.25,870.66 370.55,871.15 370.84,871.60 371.14,872.01 371.44,872.40 371.73,872.76 372.03,873.09 372.32,873.40 372.62,873.69 372.92,873.96 373.21,874.21 373.51,874.44 373.81,874.66 374.10,874.87 374.40,875.06 374.69,875.25 374.99,875.42 375.29,875.58 375.58,875.74 375.88,875.88 376.18,876.02 376.47,876.15 376.77,876.27 377.06,876.39 377.36,876.50 377.66,876.60 377.95,876.70 378.25,876.80" fill="none" stroke="#ff0000" stroke-width="2.6" stroke-linejoin="round"/>
<polyline points="376.90,899.50 377.19,899.26 377.49,899.00 377.78,898.74 378.07,898.47 378.37,898.18 378.66,897.89 378.95,897.58 379.25,897.26 379.54,896.93 379.83,896.58 380.13,896.22 380.42,895.84 380.71,895.44 381.01,895.03 381.30,894.59 381.59,894.14 381.89,893.66 382.18,893.16 382.47,892.63 382.77,892.07 383.06,891.49 383.35,890.87 383.65,890.22 383.94,889.53 384.23,888.80 384.53,888.03 384.82,887.21 385.11,886.34 385.41,885.41 385.70,884.43 385.99,883.38 386.29,882.25 386.58,881.05 386.87,879.77 387.17,878.39 387.46,876.91 387.75,875.32 388.05,873.60 388.34,871.76 388.63,869.76 388.93,867.60 389.22,865.26 389.51,862.73 389.81,859.97 390.10,856.97 390.39,853.70 390.69,850.14 390.98,846.26 391.27,842.01 391.57,837.38 391.86,832.31 392.15,826.78 392.45,820.74 392.74,814.17 393.03,807.03 393.33,799.31 393.62,791.00 393.91,782.13 394.21,772.74 394.50,762.95 394.79,752.88 395.09,742.77 395.38,732.87 395.67,723.55 395.97,715.18 396.26,708.17 396.55,702.93 396.85,699.76 397.10,698.85 397.14,698.87 397.43,700.32 397.73,704.01 398.02,709.70 398.31,717.04 398.61,725.64 398.90,735.09 399.19,745.00 399.49,755.05 399.78,764.99 400.07,774.62 400.37,783.79 400.66,792.44 400.95,800.52 401.25,808.01 401.54,814.92 401.83,821.27 402.13,827.09 402.42,832.42 402.71,837.30 403.01,841.75 403.30,845.82 403.59,849.54 403.89,852.95 404.18,856.07 404.47,858.93 404.77,861.55 405.06,863.96 405.35,866.17 405.65,868.21 405.94,870.10 406.23,871.83 406.53,873.44 406.82,874.93 407.11,876.31 407.41,877.59 407.70,878.77 407.99,879.88 408.29,880.91 408.58,881.87 408.87,882.77 409.17,883.61 409.46,884.39 409.75,885.13 410.05,885.81 410.34,886.46 410.63,887.07 410.93,887.64 411.22,888.17 411.51,888.68 411.81,889.15 412.10,889.60" fill="none" stroke="#ff0000" stroke-width="2.6" stroke-linejoin="round"/>
<polyline points="415.60,870.60 415.90,870.51 416.19,870.41 416.49,870.31 416.79,870.20 417.08,870.09 417.38,869.97 417.68,869.85 417.97,869.72 418.27,869.58 418.57,869.44 418.86,869.29 419.16,869.14 419.46,868.97 419.75,868.80 420.05,868.61 420.35,868.42 420.64,868.21 420.94,867.99 421.24,867.76 421.53,867.52 421.83,867.26 422.13,866.98 422.42,866.69 422.72,866.37 423.02,866.04 423.31,865.68 423.61,865.30 423.91,864.89 424.20,864.45 424.50,863.97 424.80,863.46 425.09,862.91 425.39,862.32 425.69,861.67 425.98,860.97 426.28,860.21 426.58,859.38 426.87,858.47 427.17,857.48 427.47,856.39 427.76,855.19 428.06,853.87 428.36,852.41 428.65,850.78 428.95,848.97 429.25,846.94 429.54,844.67 429.84,842.12 430.14,839.24 430.43,835.98 430.73,832.26 431.03,828.03 431.32,823.18 431.62,817.61 431.92,811.19 432.21,803.80 432.51,795.27 432.81,785.44 433.10,774.16 433.40,761.33 433.70,746.93 433.99,731.12 434.29,714.34 434.59,697.42 434.88,681.64 435.18,668.65 435.48,660.17 435.75,657.50 435.77,657.52 436.07,661.14 436.37,670.43 436.66,683.98 436.96,700.04 437.26,717.01 437.55,733.68 437.85,749.29 438.15,763.45 438.44,776.03 438.74,787.07 439.04,796.68 439.33,805.02 439.63,812.25 439.93,818.52 440.22,823.97 440.52,828.72 440.82,832.86 441.11,836.50 441.41,839.70 441.71,842.53 442.00,845.03 442.30,847.26 442.60,849.24 442.89,851.02 443.19,852.62 443.49,854.06 443.78,855.37 444.08,856.55 444.38,857.62 444.67,858.60 444.97,859.49 445.27,860.30 445.56,861.06 445.86,861.74 446.16,862.38 446.45,862.97 446.75,863.51 447.05,864.01 447.34,864.48 447.64,864.92 447.94,865.32 448.23,865.70 448.53,866.05 448.83,866.38 449.12,866.69 449.42,866.98 449.72,867.26 450.01,867.51 450.31,867.75 450.61,867.98 450.90,868.20 451.20,868.40" fill="none" stroke="#ff0000" stroke-width="2.6" stroke-linejoin="round"/>
<polyline points="454.20,869.30 454.49,869.22 454.78,869.14 455.06,869.05 455.35,868.96 455.64,868.86 455.93,868.76 456.22,868.65 456.50,868.54 456.79,868.42 457.08,868.29 457.37,868.16 457.65,868.01 457.94,867.86 458.23,867.70 458.52,867.53 458.81,867.35 459.09,867.15 459.38,866.95 459.67,866.72 459.96,866.49 460.25,866.23 460.53,865.96 460.82,865.67 461.11,865.35 461.40,865.01 461.69,864.64 461.97,864.24 462.26,863.81 462.55,863.34 462.84,862.82 463.13,862.26 463.41,861.65 463.70,860.98 463.99,860.23 464.28,859.41 464.56,858.51 464.85,857.50 465.14,856.37 465.43,855.12 465.72,853.70 466.00,852.11 466.29,850.30 466.58,848.25 466.87,845.90 467.16,843.19 467.44,840.06 467.73,836.43 468.02,832.17 468.31,827.16 468.60,821.23 468.88,814.17 469.17,805.71 469.46,795.55 469.75,783.30 470.04,768.56 470.32,750.95 470.61,730.26 470.90,706.70 471.19,681.31 471.48,656.45 471.76,635.87 472.05,623.92 472.20,622.25 472.34,623.69 472.63,635.27 472.91,655.62 473.20,680.41 473.49,705.83 473.78,729.48 474.07,750.29 474.35,768.02 474.64,782.86 474.93,795.20 475.22,805.44 475.51,813.96 475.79,821.07 476.08,827.05 476.37,832.09 476.66,836.38 476.95,840.04 477.23,843.19 477.52,845.91 477.81,848.28 478.10,850.36 478.38,852.18 478.67,853.78 478.96,855.21 479.25,856.48 479.54,857.61 479.82,858.63 480.11,859.55 480.40,860.37 480.69,861.12 480.98,861.81 481.26,862.43 481.55,863.00 481.84,863.52 482.13,864.00 482.42,864.44 482.70,864.84 482.99,865.22 483.28,865.57 483.57,865.89 483.86,866.19 484.14,866.47 484.43,866.73 484.72,866.97 485.01,867.20 485.30,867.42 485.58,867.62 485.87,867.81 486.16,867.98 486.45,868.15 486.73,868.31 487.02,868.46 487.31,868.60 487.60,868.73 487.89,868.86 488.17,868.98 488.46,869.09 488.75,869.20" fill="none" stroke="#ff0000" stroke-width="2.6" stroke-linejoin="round"/>
<polyline points="488.75,869.20 489.04,868.98 489.32,868.75 489.61,868.52 489.90,868.27 490.19,868.02 490.48,867.75 490.76,867.47 491.05,867.19 491.34,866.88 491.62,866.57 491.91,866.24 492.20,865.90 492.49,865.54 492.77,865.17 493.06,864.78 493.35,864.36 493.64,863.93 493.93,863.48 494.21,863.00 494.50,862.50 494.79,861.97 495.07,861.41 495.36,860.82 495.65,860.20 495.94,859.54 496.23,858.84 496.51,858.10 496.80,857.31 497.09,856.47 497.38,855.58 497.66,854.63 497.95,853.62 498.24,852.54 498.52,851.38 498.81,850.13 499.10,848.80 499.39,847.37 499.68,845.82 499.96,844.15 500.25,842.35 500.54,840.40 500.82,838.29 501.11,835.99 501.40,833.49 501.69,830.76 501.98,827.78 502.26,824.52 502.55,820.94 502.84,817.01 503.12,812.68 503.41,807.91 503.70,802.65 503.99,796.83 504.27,790.39 504.56,783.25 504.85,775.36 505.14,766.62 505.43,756.97 505.71,746.34 506.00,734.68 506.29,721.97 506.57,708.25 506.86,693.62 507.15,678.30 507.44,662.60 507.73,647.01 508.01,632.17 508.30,618.85 508.59,607.88 508.88,600.04 509.16,595.99 509.30,595.50 509.45,596.06 509.74,600.24 510.02,608.18 510.31,619.23 510.60,632.59 510.89,647.43 511.18,662.99 511.46,678.64 511.75,693.90 512.04,708.45 512.33,722.08 512.61,734.69 512.90,746.27 513.19,756.81 513.48,766.38 513.76,775.03 514.05,782.85 514.34,789.91 514.62,796.27 514.91,802.03 515.20,807.22 515.49,811.93 515.77,816.19 516.06,820.06 516.35,823.58 516.64,826.79 516.92,829.71 517.21,832.38 517.50,834.83 517.79,837.08 518.08,839.14 518.36,841.04 518.65,842.79 518.94,844.41 519.23,845.90 519.51,847.29 519.80,848.58 520.09,849.77 520.38,850.88 520.66,851.92 520.95,852.88 521.24,853.79 521.52,854.63 521.81,855.42 522.10,856.16 522.39,856.86 522.67,857.51 522.96,858.12 523.25,858.70" fill="none" stroke="#ff0000" stroke-width="2.6" stroke-linejoin="round"/>
<polyline points="526.70,881.00 527.00,880.84 527.29,880.67 527.59,880.50 527.88,880.32 528.18,880.14 528.48,879.95 528.77,879.75 529.07,879.55 529.37,879.34 529.66,879.12 529.96,878.89 530.25,878.65 530.55,878.41 530.85,878.15 531.14,877.89 531.44,877.61 531.74,877.32 532.03,877.01 532.33,876.69 532.62,876.36 532.92,876.01 533.22,875.64 533.51,875.25 533.81,874.84 534.11,874.41 534.40,873.95 534.70,873.46 535.00,872.95 535.29,872.40 535.59,871.82 535.88,871.20 536.18,870.54 536.48,869.83 536.77,869.07 537.07,868.25 537.37,867.37 537.66,866.43 537.96,865.40 538.25,864.29 538.55,863.09 538.85,861.77 539.14,860.34 539.44,858.77 539.74,857.05 540.03,855.15 540.33,853.06 540.62,850.74 540.92,848.16 541.22,845.29 541.51,842.07 541.81,838.46 542.11,834.39 542.40,829.78 542.70,824.54 542.99,818.58 543.29,811.75 543.59,803.92 543.88,794.92 544.18,784.54 544.48,772.58 544.77,758.81 545.07,743.02 545.36,725.08 545.66,704.97 545.96,682.93 546.25,659.58 546.55,636.11 546.85,614.29 547.14,596.44 547.44,584.91 547.70,581.45 547.73,581.50 548.03,586.77 548.33,599.83 548.62,618.70 548.92,640.99 549.22,664.48 549.51,687.51 549.81,709.06 550.10,728.58 550.40,745.93 550.70,761.14 550.99,774.38 551.29,785.87 551.59,795.82 551.88,804.44 552.18,811.93 552.47,818.46 552.77,824.15 553.07,829.14 553.36,833.52 553.66,837.39 553.96,840.81 554.25,843.85 554.55,846.55 554.84,848.97 555.14,851.14 555.44,853.09 555.73,854.85 556.03,856.44 556.33,857.88 556.62,859.19 556.92,860.38 557.21,861.46 557.51,862.46 557.81,863.37 558.10,864.20 558.40,864.97 558.70,865.68 558.99,866.33 559.29,866.93 559.58,867.49 559.88,868.00 560.18,868.48 560.47,868.92 560.77,869.33 561.07,869.72 561.36,870.07 561.66,870.40 561.95,870.71 562.25,871.00" fill="none" stroke="#ff0000" stroke-width="2.6" stroke-linejoin="round"/>
<polyline points="565.25,889.00 565.54,888.83 565.83,888.64 566.12,888.46 566.41,888.26 566.70,888.06 566.99,887.85 567.28,887.63 567.57,887.41 567.86,887.17 568.15,886.92 568.44,886.67 568.73,886.40 569.01,886.12 569.30,885.82 569.59,885.51 569.88,885.19 570.17,884.85 570.46,884.49 570.75,884.12 571.04,883.72 571.33,883.30 571.62,882.86 571.91,882.39 572.20,881.89 572.49,881.36 572.78,880.80 573.07,880.20 573.36,879.56 573.65,878.88 573.94,878.15 574.23,877.37 574.52,876.53 574.81,875.62 575.10,874.64 575.39,873.59 575.67,872.44 575.96,871.20 576.25,869.84 576.54,868.37 576.83,866.75 577.12,864.98 577.41,863.02 577.70,860.87 577.99,858.49 578.28,855.84 578.57,852.90 578.86,849.61 579.15,845.92 579.44,841.76 579.73,837.08 580.02,831.76 580.31,825.72 580.60,818.83 580.89,810.95 581.18,801.91 581.47,791.53 581.76,779.60 582.05,765.91 582.34,750.26 582.62,732.50 582.91,712.61 583.20,690.76 583.49,667.49 583.78,643.83 584.07,621.35 584.36,602.20 584.65,588.66 584.94,582.68 585.00,582.50 585.23,585.20 585.52,595.81 585.81,612.90 586.10,634.24 586.39,657.57 586.68,681.08 586.97,703.51 587.26,724.16 587.55,742.71 587.84,759.12 588.13,773.51 588.42,786.05 588.71,796.95 589.00,806.43 589.29,814.69 589.58,821.88 589.86,828.17 590.15,833.69 590.44,838.55 590.73,842.83 591.02,846.62 591.31,850.00 591.60,853.00 591.89,855.69 592.18,858.10 592.47,860.26 592.76,862.22 593.05,863.99 593.34,865.59 593.63,867.05 593.92,868.37 594.21,869.59 594.50,870.70 594.79,871.71 595.08,872.65 595.37,873.51 595.66,874.30 595.95,875.03 596.24,875.71 596.52,876.33 596.81,876.91 597.10,877.45 597.39,877.96 597.68,878.42 597.97,878.86 598.26,879.26 598.55,879.64 598.84,880.00 599.13,880.33 599.42,880.64 599.71,880.93 600.00,881.20" fill="none" stroke="#ff0000" stroke-width="2.6" stroke-linejoin="round"/>
<polyline points="603.75,901.00 604.04,900.72 604.34,900.43 604.63,900.12 604.92,899.81 605.22,899.47 605.51,899.13 605.81,898.76 606.10,898.38 606.39,897.98 606.69,897.56 606.98,897.12 607.27,896.65 607.57,896.16 607.86,895.64 608.16,895.10 608.45,894.52 608.74,893.91 609.04,893.26 609.33,892.58 609.62,891.85 609.92,891.07 610.21,890.25 610.51,889.37 610.80,888.43 611.09,887.43 611.39,886.35 611.68,885.20 611.98,883.96 612.27,882.62 612.56,881.19 612.86,879.63 613.15,877.95 613.44,876.13 613.74,874.15 614.03,872.00 614.33,869.65 614.62,867.08 614.91,864.27 615.21,861.19 615.50,857.79 615.79,854.04 616.09,849.90 616.38,845.32 616.67,840.22 616.97,834.56 617.26,828.25 617.56,821.20 617.85,813.33 618.14,804.53 618.44,794.69 618.73,783.70 619.02,771.45 619.32,757.87 619.61,742.90 619.91,726.56 620.20,708.98 620.49,690.43 620.79,671.40 621.08,652.58 621.38,634.93 621.67,619.60 621.96,607.81 622.26,600.63 622.50,598.70 622.55,598.78 622.84,602.45 623.14,611.25 623.43,624.33 623.73,640.53 624.02,658.65 624.31,677.59 624.61,696.48 624.90,714.69 625.19,731.82 625.49,747.65 625.78,762.10 626.08,775.17 626.37,786.93 626.66,797.47 626.96,806.89 627.25,815.32 627.54,822.85 627.84,829.58 628.13,835.61 628.42,841.03 628.72,845.89 629.01,850.27 629.31,854.22 629.60,857.79 629.89,861.03 630.19,863.97 630.48,866.65 630.77,869.09 631.07,871.32 631.36,873.36 631.66,875.24 631.95,876.96 632.24,878.55 632.54,880.01 632.83,881.36 633.12,882.61 633.42,883.77 633.71,884.85 634.01,885.85 634.30,886.78 634.59,887.65 634.89,888.46 635.18,889.22 635.48,889.93 635.77,890.59 636.06,891.22 636.36,891.80 636.65,892.35 636.94,892.87 637.24,893.35 637.53,893.81 637.83,894.25 638.12,894.65 638.41,895.04 638.71,895.40 639.00,895.75" fill="none" stroke="#ff0000" stroke-width="2.6" stroke-linejoin="round"/>
<polyline points="642.00,864.25 642.30,864.18 642.60,864.10 642.89,864.02 643.19,863.94 643.49,863.85 643.78,863.76 644.08,863.66 644.38,863.56 644.68,863.45 644.98,863.33 645.27,863.21 645.57,863.08 645.87,862.94 646.16,862.79 646.46,862.63 646.76,862.46 647.06,862.28 647.36,862.09 647.65,861.88 647.95,861.66 648.25,861.42 648.54,861.17 648.84,860.89 649.14,860.59 649.44,860.27 649.74,859.92 650.03,859.54 650.33,859.12 650.63,858.67 650.92,858.17 651.22,857.62 651.52,857.02 651.82,856.35 652.12,855.61 652.41,854.79 652.71,853.87 653.01,852.84 653.31,851.68 653.60,850.38 653.90,848.89 654.20,847.20 654.50,845.25 654.79,843.01 655.09,840.40 655.39,837.36 655.69,833.77 655.98,829.53 656.28,824.47 656.58,818.39 656.88,811.03 657.17,802.06 657.47,791.08 657.77,777.61 658.07,761.14 658.36,741.25 658.66,717.85 658.96,691.71 659.25,665.15 659.55,642.44 659.85,629.01 660.00,627.20 660.15,628.96 660.45,642.28 660.74,664.94 661.04,691.49 661.34,717.64 661.63,741.07 661.93,761.00 662.23,777.49 662.53,790.98 662.83,801.98 663.12,810.97 663.42,818.35 663.72,824.44 664.01,829.51 664.31,833.76 664.61,837.35 664.91,840.40 665.21,843.01 665.50,845.25 665.80,847.20 666.10,848.90 666.39,850.39 666.69,851.70 666.99,852.86 667.29,853.89 667.59,854.81 667.88,855.64 668.18,856.38 668.48,857.05 668.78,857.65 669.07,858.20 669.37,858.70 669.67,859.16 669.97,859.57 670.26,859.96 670.56,860.31 670.86,860.63 671.16,860.94 671.45,861.21 671.75,861.47 672.05,861.71 672.35,861.93 672.64,862.14 672.94,862.33 673.24,862.52 673.54,862.69 673.83,862.84 674.13,862.99 674.43,863.13 674.73,863.27 675.02,863.39 675.32,863.51 675.62,863.62 675.92,863.72 676.21,863.82 676.51,863.92 676.81,864.01 677.11,864.09 677.40,864.17 677.70,864.25" fill="none" stroke="#ff0000" stroke-width="2.6" stroke-linejoin="round"/>
<polyline points="681.00,886.75 681.29,886.53 681.59,886.31 681.88,886.08 682.17,885.83 682.47,885.58 682.76,885.32 683.06,885.04 683.35,884.75 683.64,884.45 683.94,884.13 684.23,883.79 684.52,883.44 684.82,883.08 685.11,882.69 685.41,882.28 685.70,881.85 685.99,881.39 686.29,880.91 686.58,880.40 686.88,879.86 687.17,879.28 687.46,878.67 687.76,878.02 688.05,877.32 688.34,876.58 688.64,875.79 688.93,874.94 689.23,874.03 689.52,873.04 689.81,871.99 690.11,870.85 690.40,869.61 690.69,868.28 690.99,866.83 691.28,865.25 691.58,863.53 691.87,861.65 692.16,859.59 692.46,857.34 692.75,854.86 693.04,852.12 693.34,849.10 693.63,845.75 693.92,842.04 694.22,837.91 694.51,833.31 694.81,828.17 695.10,822.44 695.39,816.03 695.69,808.86 695.98,800.86 696.27,791.94 696.57,782.05 696.86,771.16 697.16,759.27 697.45,746.47 697.74,732.98 698.04,719.12 698.33,705.43 698.62,692.59 698.92,681.43 699.21,672.85 699.51,667.61 699.75,666.20 699.80,666.25 700.09,668.91 700.39,675.30 700.68,684.80 700.98,696.56 701.27,709.72 701.56,723.48 701.86,737.20 702.15,750.43 702.44,762.87 702.74,774.37 703.03,784.86 703.33,794.36 703.62,802.89 703.91,810.54 704.21,817.38 704.50,823.50 704.79,828.96 705.09,833.85 705.38,838.22 705.67,842.14 705.97,845.67 706.26,848.84 706.56,851.70 706.85,854.29 707.14,856.63 707.44,858.75 707.73,860.69 708.02,862.45 708.32,864.06 708.61,865.53 708.91,866.88 709.20,868.12 709.49,869.27 709.79,870.32 710.08,871.29 710.38,872.19 710.67,873.02 710.96,873.79 711.26,874.51 711.55,875.17 711.84,875.79 712.14,876.37 712.43,876.91 712.73,877.41 713.02,877.88 713.31,878.32 713.61,878.74 713.90,879.12 714.19,879.49 714.49,879.83 714.78,880.15 715.08,880.45 715.37,880.74 715.66,881.01 715.96,881.26 716.25,881.50" fill="none" stroke="#ff0000" stroke-width="2.6" stroke-linejoin="round"/>
<polyline points="719.20,837.50 719.49,837.40 719.79,837.30 720.08,837.19 720.37,837.07 720.66,836.95 720.96,836.82 721.25,836.69 721.54,836.55 721.83,836.40 722.12,836.25 722.42,836.08 722.71,835.91 723.00,835.73 723.30,835.53 723.59,835.33 723.88,835.11 724.17,834.88 724.47,834.63 724.76,834.37 725.05,834.10 725.34,833.80 725.63,833.49 725.93,833.15 726.22,832.79 726.51,832.41 726.81,832.00 727.10,831.56 727.39,831.08 727.68,830.57 727.98,830.02 728.27,829.43 728.56,828.78 728.85,828.09 729.14,827.33 729.44,826.51 729.73,825.62 730.02,824.64 730.32,823.57 730.61,822.40 730.90,821.12 731.19,819.70 731.49,818.14 731.78,816.42 732.07,814.51 732.36,812.39 732.65,810.03 732.95,807.41 733.24,804.47 733.53,801.20 733.83,797.54 734.12,793.44 734.41,788.87 734.70,783.77 735.00,778.11 735.29,771.86 735.58,765.02 735.87,757.63 736.16,749.79 736.46,741.68 736.75,733.56 737.04,725.83 737.34,718.94 737.63,713.42 737.92,709.74 738.21,708.27 738.25,708.25 738.50,709.15 738.80,712.30 739.09,717.41 739.38,724.00 739.67,731.58 739.97,739.64 740.26,747.79 740.55,755.73 740.85,763.26 741.14,770.26 741.43,776.67 741.72,782.49 742.01,787.74 742.31,792.46 742.60,796.68 742.89,800.46 743.18,803.84 743.48,806.86 743.77,809.57 744.06,812.01 744.36,814.20 744.65,816.17 744.94,817.95 745.23,819.56 745.52,821.02 745.82,822.34 746.11,823.55 746.40,824.65 746.69,825.66 746.99,826.59 747.28,827.44 747.57,828.22 747.87,828.94 748.16,829.60 748.45,830.22 748.74,830.79 749.03,831.32 749.33,831.81 749.62,832.27 749.91,832.70 750.20,833.10 750.50,833.48 750.79,833.83 751.08,834.16 751.38,834.47 751.67,834.76 751.96,835.03 752.25,835.29 752.54,835.54 752.84,835.77 753.13,835.98 753.42,836.19 753.71,836.39 754.01,836.57 754.30,836.75" fill="none" stroke="#ff0000" stroke-width="2.6" stroke-linejoin="round"/>
<polyline points="757.75,869.75 758.05,869.67 758.34,869.59 758.64,869.51 758.93,869.42 759.23,869.33 759.53,869.23 759.82,869.13 760.12,869.02 760.42,868.91 760.71,868.79 761.01,868.66 761.30,868.53 761.60,868.39 761.90,868.25 762.19,868.09 762.49,867.93 762.79,867.76 763.08,867.57 763.38,867.38 763.67,867.18 763.97,866.96 764.27,866.73 764.56,866.48 764.86,866.22 765.16,865.94 765.45,865.64 765.75,865.33 766.04,864.98 766.34,864.62 766.64,864.23 766.93,863.81 767.23,863.36 767.53,862.87 767.82,862.34 768.12,861.77 768.41,861.16 768.71,860.49 769.01,859.76 769.30,858.97 769.60,858.10 769.90,857.16 770.19,856.12 770.49,854.99 770.78,853.73 771.08,852.35 771.38,850.83 771.67,849.14 771.97,847.26 772.27,845.17 772.56,842.84 772.86,840.24 773.15,837.33 773.45,834.07 773.75,830.42 774.04,826.34 774.34,821.78 774.64,816.70 774.93,811.06 775.23,804.87 775.52,798.13 775.82,790.94 776.12,783.41 776.41,775.80 776.71,768.43 777.01,761.73 777.30,756.19 777.60,752.28 777.89,750.39 778.00,750.25 778.19,750.72 778.49,753.24 778.78,757.67 779.08,763.62 779.38,770.57 779.67,778.06 779.97,785.68 780.26,793.14 780.56,800.22 780.86,806.81 781.15,812.85 781.45,818.33 781.75,823.27 782.04,827.69 782.34,831.65 782.63,835.19 782.93,838.35 783.23,841.18 783.52,843.70 783.82,845.97 784.12,848.00 784.41,849.83 784.71,851.48 785.00,852.97 785.30,854.32 785.60,855.55 785.89,856.66 786.19,857.68 786.49,858.61 786.78,859.46 787.08,860.24 787.38,860.96 787.67,861.62 787.97,862.23 788.26,862.80 788.56,863.32 788.86,863.81 789.15,864.26 789.45,864.68 789.75,865.07 790.04,865.43 790.34,865.78 790.63,866.10 790.93,866.40 791.23,866.68 791.52,866.95 791.82,867.20 792.12,867.43 792.41,867.65 792.71,867.86 793.00,868.06 793.30,868.25" fill="none" stroke="#ff0000" stroke-width="2.6" stroke-linejoin="round"/>
<polyline points="796.00,872.00 796.30,871.94 796.60,871.87 796.89,871.80 797.19,871.73 797.49,871.65 797.78,871.57 798.08,871.48 798.38,871.39 798.68,871.29 798.98,871.19 799.27,871.08 799.57,870.97 799.87,870.84 800.16,870.71 800.46,870.57 800.76,870.42 801.06,870.26 801.36,870.09 801.65,869.91 801.95,869.71 802.25,869.50 802.54,869.27 802.84,869.03 803.14,868.76 803.44,868.47 803.74,868.15 804.03,867.81 804.33,867.44 804.63,867.02 804.92,866.57 805.22,866.08 805.52,865.53 805.82,864.93 806.12,864.26 806.41,863.51 806.71,862.68 807.01,861.74 807.31,860.69 807.60,859.50 807.90,858.16 808.20,856.63 808.50,854.89 808.79,852.89 809.09,850.60 809.39,847.96 809.69,844.91 809.98,841.40 810.28,837.35 810.58,832.70 810.88,827.40 811.17,821.44 811.47,814.88 811.77,807.90 812.07,800.82 812.36,794.18 812.66,788.66 812.96,784.97 813.25,783.70 813.25,783.70 813.55,785.05 813.85,788.81 814.15,794.38 814.45,801.04 814.74,808.12 815.04,815.09 815.34,821.62 815.63,827.56 815.93,832.83 816.23,837.46 816.53,841.49 816.83,844.98 817.12,848.01 817.42,850.63 817.72,852.91 818.01,854.89 818.31,856.62 818.61,858.14 818.91,859.48 819.21,860.65 819.50,861.70 819.80,862.63 820.10,863.45 820.39,864.19 820.69,864.86 820.99,865.46 821.29,866.00 821.59,866.49 821.88,866.93 822.18,867.34 822.48,867.71 822.78,868.05 823.07,868.36 823.37,868.64 823.67,868.91 823.97,869.15 824.26,869.37 824.56,869.58 824.86,869.77 825.16,869.95 825.45,870.12 825.75,870.27 826.05,870.42 826.35,870.56 826.64,870.68 826.94,870.80 827.24,870.91 827.54,871.02 827.83,871.12 828.13,871.21 828.43,871.30 828.73,871.38 829.02,871.46 829.32,871.53 829.62,871.60 829.92,871.67 830.21,871.73 830.51,871.79 830.81,871.85 831.11,871.90 831.40,871.95 831.70,872.00" fill="none" stroke="#ff0000" stroke-width="2.6" stroke-linejoin="round"/>
<polyline points="834.25,865.25 834.55,865.24 834.85,865.23 835.15,865.22 835.45,865.21 835.75,865.20 836.05,865.18 836.35,865.17 836.65,865.16 836.95,865.14 837.25,865.12 837.55,865.11 837.85,865.09 838.15,865.07 838.45,865.05 838.75,865.03 839.05,865.00 839.35,864.98 839.65,864.95 839.95,864.92 840.25,864.89 840.55,864.86 840.85,864.82 841.15,864.78 841.45,864.74 841.75,864.70 842.05,864.65 842.35,864.59 842.65,864.53 842.95,864.46 843.25,864.39 843.55,864.31 843.85,864.22 844.15,864.12 844.45,864.01 844.75,863.89 845.05,863.75 845.35,863.59 845.65,863.41 845.95,863.21 846.25,862.97 846.55,862.70 846.85,862.38 847.15,862.00 847.45,861.56 847.75,861.03 848.05,860.39 848.35,859.61 848.65,858.65 848.95,857.45 849.25,855.94 849.55,854.00 849.85,851.49 850.15,848.21 850.45,843.91 850.75,838.36 851.05,831.49 851.35,823.82 851.65,816.98 851.95,813.58 852.00,813.50 852.25,815.34 852.55,821.33 852.85,828.97 853.15,836.20 853.45,842.21 853.75,846.90 854.05,850.49 854.35,853.23 854.65,855.35 854.95,856.99 855.25,858.28 855.55,859.31 855.85,860.15 856.15,860.83 856.45,861.39 856.75,861.86 857.05,862.26 857.35,862.59 857.65,862.88 857.95,863.13 858.25,863.34 858.55,863.53 858.85,863.69 859.15,863.84 859.45,863.97 859.75,864.08 860.05,864.18 860.35,864.28 860.65,864.36 860.95,864.43 861.25,864.50 861.55,864.56 861.85,864.62 862.15,864.67 862.45,864.72 862.75,864.76 863.05,864.80 863.35,864.84 863.65,864.87 863.95,864.90 864.25,864.93 864.55,864.96 864.85,864.99 865.15,865.01 865.45,865.03 865.75,865.05 866.05,865.07 866.35,865.09 866.65,865.11 866.95,865.12 867.25,865.14 867.55,865.15 867.85,865.17 868.15,865.18 868.45,865.19 868.75,865.20 869.05,865.21 869.35,865.22 869.65,865.23 869.95,865.24 870.25,865.25" fill="none" stroke="#ff0000" stroke-width="2.6" stroke-linejoin="round"/>
<polyline points="873.25,869.75 873.55,869.74 873.84,869.74 874.14,869.73 874.43,869.72 874.73,869.72 875.03,869.71 875.32,869.70 875.62,869.69 875.92,869.68 876.21,869.68 876.51,869.67 876.80,869.65 877.10,869.64 877.40,869.63 877.69,869.62 877.99,869.60 878.29,869.59 878.58,869.57 878.88,869.56 879.17,869.54 879.47,869.52 879.77,869.49 880.06,869.47 880.36,869.45 880.66,869.42 880.95,869.39 881.25,869.35 881.54,869.32 881.84,869.28 882.14,869.23 882.43,869.18 882.73,869.13 883.03,869.07 883.32,869.00 883.62,868.92 883.91,868.83 884.21,868.73 884.51,868.62 884.80,868.48 885.10,868.33 885.40,868.15 885.69,867.94 885.99,867.70 886.28,867.40 886.58,867.04 886.88,866.60 887.17,866.06 887.47,865.37 887.77,864.51 888.06,863.39 888.36,861.92 888.65,859.98 888.95,857.40 889.25,853.96 889.54,849.55 889.84,844.40 890.14,839.52 890.43,836.85 890.50,836.75 890.73,837.90 891.02,842.04 891.32,847.26 891.62,852.07 891.91,855.94 892.21,858.90 892.51,861.11 892.80,862.77 893.10,864.03 893.39,865.00 893.69,865.76 893.99,866.36 894.28,866.85 894.58,867.24 894.88,867.56 895.17,867.83 895.47,868.06 895.76,868.25 896.06,868.41 896.36,868.55 896.65,868.67 896.95,868.78 897.25,868.87 897.54,868.96 897.84,869.03 898.13,869.09 898.43,869.15 898.73,869.20 899.02,869.25 899.32,869.29 899.62,869.33 899.91,869.36 900.21,869.39 900.50,869.42 900.80,869.45 901.10,869.47 901.39,869.50 901.69,869.52 901.99,869.54 902.28,869.55 902.58,869.57 902.88,869.58 903.17,869.60 903.47,869.61 903.76,869.62 904.06,869.64 904.36,869.65 904.65,869.66 904.95,869.67 905.25,869.67 905.54,869.68 905.84,869.69 906.13,869.70 906.43,869.71 906.73,869.71 907.02,869.72 907.32,869.72 907.62,869.73 907.91,869.74 908.21,869.74 908.50,869.75 908.80,869.75" fill="none" stroke="#ff0000" stroke-width="2.6" stroke-linejoin="round"/>
<polyline points="87.9,874.3 90.0,874.1 92.1,873.9 94.3,873.7 96.4,873.5 98.5,873.3 100.7,873.0 102.8,872.8 105.0,872.6 107.1,872.3 109.2,872.1 111.4,871.8 113.5,871.6 115.6,871.3 117.8,871.0 119.9,870.8 122.1,870.5 124.2,870.2 126.3,869.8 128.5,869.5 130.6,869.2 132.7,868.8 134.9,868.5 137.0,868.1 139.2,867.8 141.3,867.4 143.4,867.0 145.6,866.6 147.7,866.2 149.8,865.7 152.0,865.3 154.1,864.9 156.3,864.4 158.4,863.9 160.5,863.4 162.7,862.9 164.8,862.4 166.9,861.9 169.1,861.4 171.2,860.8 173.4,860.2 175.5,859.7 177.6,859.1 179.8,858.5 181.9,857.8 184.0,857.2 186.2,856.5 188.3,855.9 190.5,855.2 192.6,854.5 194.7,853.8 196.9,853.0 199.0,852.3 201.1,851.5 203.3,850.7 205.4,849.9 207.6,849.1 209.7,848.3 211.8,847.4 214.0,846.5 216.1,845.6 218.2,844.7 220.4,843.8 222.5,842.8 224.7,841.9 226.8,840.9 228.9,839.9 231.1,838.8 233.2,837.8 235.3,836.7 237.5,835.6 239.6,834.5 241.8,833.4 243.9,832.2 246.0,831.0 248.2,829.8 250.3,828.6 252.4,827.4 254.6,826.1 256.7,824.8 258.9,823.5 261.0,822.2 263.1,820.9 265.3,819.5 267.4,818.1 269.5,816.7 271.7,815.3 273.8,813.8 276.0,812.3 278.1,810.8 280.2,809.3 282.4,807.8 284.5,806.2 286.6,804.6 288.8,803.0 290.9,801.3 293.1,799.7 295.2,798.0 297.3,796.3 299.5,794.6 301.6,792.9 303.7,791.1 305.9,789.3 308.0,787.5 310.2,785.7 312.3,783.8 314.4,782.0 316.6,780.1 318.7,778.2 320.8,776.2 323.0,774.3 325.1,772.3 327.3,770.3 329.4,768.3 331.5,766.3 333.7,764.3 335.8,762.2 337.9,760.2 340.1,758.1 342.2,756.0 344.4,753.8 346.5,751.7 348.6,749.6 350.8,747.4 352.9,745.2 355.0,743.0 357.2,740.8 359.3,738.6 361.5,736.4 363.6,734.1 365.7,731.9 367.9,729.6 370.0,727.3 372.1,725.1 374.3,722.8 376.4,720.5 378.6,718.2 380.7,715.9 382.8,713.5 385.0,711.2 387.1,708.9 389.2,706.6 391.4,704.2 393.5,701.9 395.7,699.6 397.8,697.2 399.9,694.9 402.1,692.6 404.2,690.2 406.3,687.9 408.5,685.6 410.6,683.3 412.8,680.9 414.9,678.6 417.0,676.3 419.2,674.0 421.3,671.7 423.4,669.5 425.6,667.2 427.7,664.9 429.9,662.7 432.0,660.5 434.1,658.2 436.3,656.0 438.4,653.8 440.5,651.7 442.7,649.5 444.8,647.4 447.0,645.3 449.1,643.2 451.2,641.1 453.4,639.0 455.5,637.0 457.6,635.0 459.8,633.0 461.9,631.0 464.1,629.1 466.2,627.2 468.3,625.3 470.5,623.4 472.6,621.6 474.7,619.8 476.9,618.1 479.0,616.3 481.2,614.6 483.3,613.0 485.4,611.3 487.6,609.7 489.7,608.2 491.8,606.6 494.0,605.1 496.1,603.7 498.3,602.3 500.4,600.9 502.5,599.6 504.7,598.3 506.8,597.0 508.9,595.8 511.1,594.6 513.2,593.5 515.4,592.4 517.5,591.4 519.6,590.4 521.8,589.4 523.9,588.5 526.0,587.7 528.2,586.8 530.3,586.1 532.5,585.4 534.6,584.7 536.7,584.0 538.9,583.5 541.0,582.9 543.1,582.4 545.3,582.0 547.4,581.6 549.6,581.3 551.7,581.0 553.8,580.8 556.0,580.6 558.1,580.4 560.2,580.3 562.4,580.3 564.5,580.3 566.7,580.4 568.8,580.5 570.9,580.6 573.1,580.8 575.2,581.1 577.3,581.4 579.5,581.7 581.6,582.1 583.8,582.6 585.9,583.1 588.0,583.6 590.2,584.2 592.3,584.9 594.4,585.6 596.6,586.3 598.7,587.1 600.9,587.9 603.0,588.8 605.1,589.7 607.3,590.7 609.4,591.7 611.5,592.7 613.7,593.8 615.8,595.0 618.0,596.2 620.1,597.4 622.2,598.6 624.4,600.0 626.5,601.3 628.6,602.7 630.8,604.1 632.9,605.6 635.1,607.1 637.2,608.6 639.3,610.2 641.5,611.8 643.6,613.4 645.7,615.1 647.9,616.8 650.0,618.6 652.2,620.3 654.3,622.1 656.4,624.0 658.6,625.8 660.7,627.7 662.8,629.6 665.0,631.6 667.1,633.6 669.3,635.5 671.4,637.6 673.5,639.6 675.7,641.7 677.8,643.8 679.9,645.9 682.1,648.0 684.2,650.1 686.4,652.3 688.5,654.5 690.6,656.7 692.8,658.9 694.9,661.1 697.0,663.3 699.2,665.6 701.3,667.8 703.5,670.1 705.6,672.4 707.7,674.7 709.9,677.0 712.0,679.3 714.1,681.6 716.3,683.9 718.4,686.2 720.6,688.6 722.7,690.9 724.8,693.2 727.0,695.6 729.1,697.9 731.2,700.2 733.4,702.6 735.5,704.9 737.7,707.2 739.8,709.6 741.9,711.9 744.1,714.2 746.2,716.5 748.3,718.8 750.5,721.1 752.6,723.4 754.8,725.7 756.9,728.0 759.0,730.3 761.2,732.5 763.3,734.8 765.4,737.0 767.6,739.2 769.7,741.4 771.9,743.7 774.0,745.8 776.1,748.0 778.3,750.2 780.4,752.3 782.5,754.5 784.7,756.6 786.8,758.7 789.0,760.8 791.1,762.8 793.2,764.9 795.4,766.9 797.5,768.9 799.6,770.9 801.8,772.9 803.9,774.9 806.1,776.8 808.2,778.7 810.3,780.6 812.5,782.5 814.6,784.4 816.7,786.2 818.9,788.0 821.0,789.8 823.2,791.6 825.3,793.4 827.4,795.1 829.6,796.8 831.7,798.5 833.8,800.2 836.0,801.8 838.1,803.4 840.2,805.1 842.4,806.6 844.5,808.2 846.7,809.7 848.8,811.3 850.9,812.8 853.1,814.2 855.2,815.7 857.3,817.1 859.5,818.5 861.6,819.9 863.8,821.3 865.9,822.6 868.0,823.9 870.2,825.2 872.3,826.5 874.4,827.7 876.6,829.0 878.7,830.2 880.9,831.4 883.0,832.5 885.1,833.7 887.3,834.8 889.4,835.9 891.5,837.0 893.7,838.1 895.8,839.1 898.0,840.1 900.1,841.2 902.2,842.1 904.4,843.1 906.5,844.0 908.7,845.0 910.8,845.9 912.9,846.8 915.1,847.6 917.2,848.5 919.3,849.3 921.5,850.2 923.6,850.9 925.8,851.7 927.9,852.5 930.0,853.2 932.2,854.0 934.3,854.7 936.4,855.4 938.6,856.1 940.7,856.7 942.9,857.4 945.0,858.0 947.1,858.6 949.3,859.2 951.4,859.8 953.5,860.4 955.7,861.0 957.8,861.5 960.0,862.1 962.1,862.6 964.2,863.1 966.4,863.6 968.5,864.1 970.6,864.5 972.8,865.0 974.9,865.4 977.1,865.9 979.2,866.3 981.3,866.7 983.5,867.1 985.6,867.5 987.7,867.9 989.9,868.2 992.0,868.6 994.2,868.9" fill="none" stroke="#0000ff" stroke-opacity="0.55" stroke-width="2.4" stroke-dasharray="3.6 3.4"/>
</g>
<rect x="91.5" y="462.5" width="898.0" height="449.0" fill="none" stroke="#a6a6a6" stroke-width="1"/>
<path d="M91.5 904.8h3.2M989.5 904.8h-3.2M91.5 892.0h3.2M989.5 892.0h-3.2M91.5 879.2h5.8M989.5 879.2h-5.8M91.5 866.4h3.2M989.5 866.4h-3.2M91.5 853.6h3.2M989.5 853.6h-3.2M91.5 840.7h3.2M989.5 840.7h-3.2M91.5 827.9h3.2M989.5 827.9h-3.2M91.5 815.1h3.2M989.5 815.1h-3.2M91.5 802.3h3.2M989.5 802.3h-3.2M91.5 789.4h3.2M989.5 789.4h-3.2M91.5 776.6h3.2M989.5 776.6h-3.2M91.5 763.8h3.2M989.5 763.8h-3.2M91.5 751.0h5.8M989.5 751.0h-5.8M91.5 738.1h3.2M989.5 738.1h-3.2M91.5 725.3h3.2M989.5 725.3h-3.2M91.5 712.5h3.2M989.5 712.5h-3.2M91.5 699.7h3.2M989.5 699.7h-3.2M91.5 686.8h3.2M989.5 686.8h-3.2M91.5 674.0h3.2M989.5 674.0h-3.2M91.5 661.2h3.2M989.5 661.2h-3.2M91.5 648.4h3.2M989.5 648.4h-3.2M91.5 635.5h3.2M989.5 635.5h-3.2M91.5 622.7h5.8M989.5 622.7h-5.8M91.5 609.9h3.2M989.5 609.9h-3.2M91.5 597.1h3.2M989.5 597.1h-3.2M91.5 584.2h3.2M989.5 584.2h-3.2M91.5 571.4h3.2M989.5 571.4h-3.2M91.5 558.6h3.2M989.5 558.6h-3.2M91.5 545.8h3.2M989.5 545.8h-3.2M91.5 533.0h3.2M989.5 533.0h-3.2M91.5 520.1h3.2M989.5 520.1h-3.2M91.5 507.3h3.2M989.5 507.3h-3.2M91.5 494.5h5.8M989.5 494.5h-5.8M91.5 481.7h3.2M989.5 481.7h-3.2M91.5 468.8h3.2M989.5 468.8h-3.2M113.5 462.5v5.6M113.5 911.5v-5.6M156.2 462.5v3.2M156.2 911.5v-3.2M199.0 462.5v3.2M199.0 911.5v-3.2M241.8 462.5v3.2M241.8 911.5v-3.2M284.5 462.5v3.2M284.5 911.5v-3.2M327.2 462.5v5.6M327.2 911.5v-5.6M370.0 462.5v3.2M370.0 911.5v-3.2M412.8 462.5v3.2M412.8 911.5v-3.2M455.5 462.5v3.2M455.5 911.5v-3.2M498.2 462.5v3.2M498.2 911.5v-3.2M541.0 462.5v5.6M541.0 911.5v-5.6M583.8 462.5v3.2M583.8 911.5v-3.2M626.5 462.5v3.2M626.5 911.5v-3.2M669.2 462.5v3.2M669.2 911.5v-3.2M712.0 462.5v3.2M712.0 911.5v-3.2M754.8 462.5v5.6M754.8 911.5v-5.6M797.5 462.5v3.2M797.5 911.5v-3.2M840.2 462.5v3.2M840.2 911.5v-3.2M883.0 462.5v3.2M883.0 911.5v-3.2M925.8 462.5v3.2M925.8 911.5v-3.2M968.5 462.5v5.6M968.5 911.5v-5.6" stroke="#999" stroke-width="1" fill="none"/>
<text transform="translate(89.4 891.75) scale(0.985 1.075)" font-size="34.5" text-anchor="end">0.0</text>
<text transform="translate(89.4 763.51) scale(0.985 1.075)" font-size="34.5" text-anchor="end">0.2</text>
<text transform="translate(89.4 635.27) scale(0.985 1.075)" font-size="34.5" text-anchor="end">0.4</text>
<text transform="translate(89.4 507.03) scale(0.985 1.075)" font-size="34.5" text-anchor="end">0.6</text>
<text transform="translate(28.2 688.0) rotate(-90)" font-size="40" text-anchor="middle" textLength="353" lengthAdjust="spacingAndGlyphs">Excitation probability</text>
<text transform="translate(936 513.6) scale(0.95 1.04)" font-size="44.5" font-weight="bold" text-anchor="middle">b</text>
<text transform="translate(113.50 944.8) scale(0.99 1.05)" font-size="34.5" text-anchor="middle"><tspan dy="3.2">−</tspan><tspan dy="-3.2">10.0</tspan></text>
<text transform="translate(327.25 944.8) scale(0.99 1.05)" font-size="34.5" text-anchor="middle"><tspan dy="3.2">−</tspan><tspan dy="-3.2">5.0</tspan></text>
<text transform="translate(541.00 944.8) scale(0.99 1.05)" font-size="34.5" text-anchor="middle">0.0</text>
<text transform="translate(754.75 944.8) scale(0.99 1.05)" font-size="34.5" text-anchor="middle">5.0</text>
<text transform="translate(968.50 944.8) scale(0.99 1.05)" font-size="34.5" text-anchor="middle">10.0</text>
<rect x="91.6" y="941.4" width="7.400000000000006" height="4" fill="#fff"/>
<rect x="102" y="941.4" width="6.5" height="4" fill="#fff"/>
<rect x="937.5" y="941.4" width="6.5" height="4" fill="#fff"/>
<rect x="947" y="941.4" width="6.5" height="4" fill="#fff"/>
<text x="541" y="992.5" font-size="39.5" text-anchor="middle">Detuning <tspan font-style="italic">v</tspan><tspan font-size="28" dy="8">R</tspan><tspan dy="-4.5"> −</tspan><tspan dy="-3.5"> </tspan><tspan font-style="italic">v</tspan><tspan font-size="28" dy="8">Ref</tspan><tspan dy="-8"> (MHz)</tspan></text>
</svg></body></html>
